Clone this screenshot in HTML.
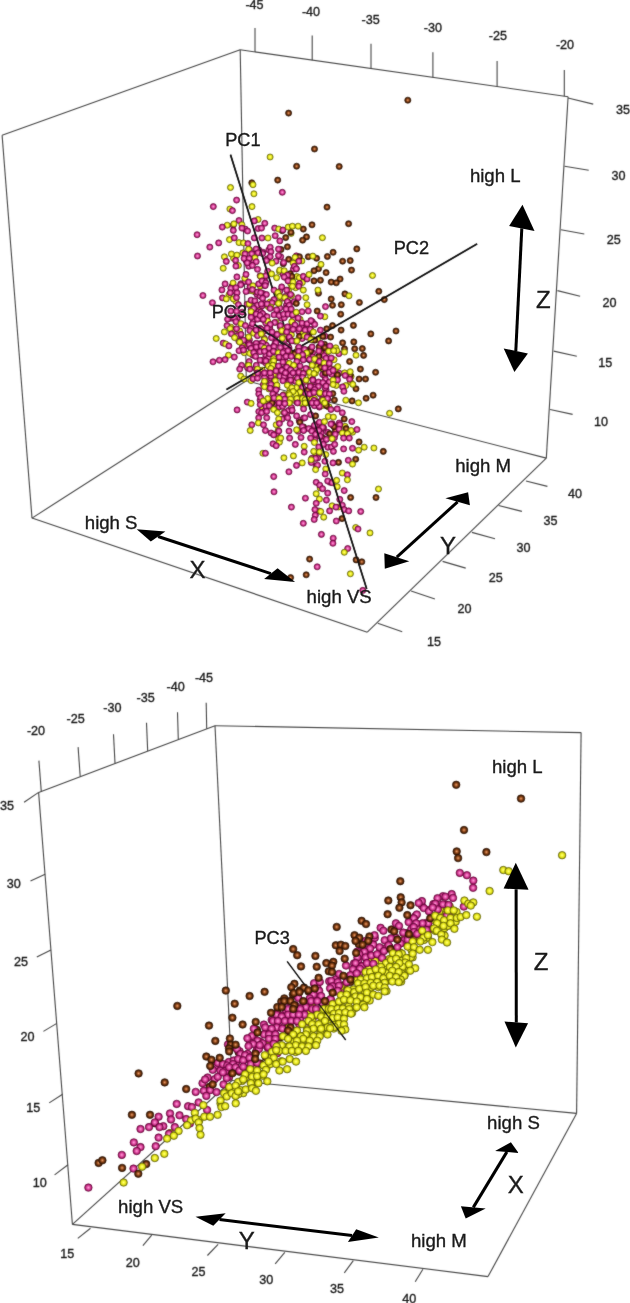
<!DOCTYPE html>
<html><head><meta charset="utf-8"><style>
html,body{margin:0;padding:0;background:#fff;}
svg{display:block;}
#wrap{width:630px;height:1303px;overflow:hidden;}
text{font-family:"Liberation Sans",sans-serif;fill:#1a1a1a;stroke:#1a1a1a;stroke-width:0.35px;}
</style></head><body><div id="wrap">
<svg width="630" height="1303" viewBox="0 0 630 1303">
<defs>
<filter id="soft" x="0" y="0" width="100%" height="100%" color-interpolation-filters="sRGB"><feConvolveMatrix order="3" kernelMatrix="0.02 0.07 0.02 0.07 0.64 0.07 0.02 0.07 0.02" edgeMode="none"/></filter>
<radialGradient id="gp" cx="50%" cy="50%" r="50%"><stop offset="0" stop-color="#ffa6de"/><stop offset="0.25" stop-color="#f272bc"/><stop offset="0.58" stop-color="#d23e94"/><stop offset="0.85" stop-color="#a81c6a"/><stop offset="1" stop-color="#6e0a3e"/></radialGradient>
<radialGradient id="gy" cx="50%" cy="50%" r="50%"><stop offset="0" stop-color="#ffff8a"/><stop offset="0.3" stop-color="#f8f840"/><stop offset="0.65" stop-color="#e0e01c"/><stop offset="0.87" stop-color="#b4b40e"/><stop offset="1" stop-color="#707006"/></radialGradient>
<radialGradient id="gb" cx="50%" cy="50%" r="50%"><stop offset="0" stop-color="#eaa878"/><stop offset="0.28" stop-color="#b46432"/><stop offset="0.6" stop-color="#70360f"/><stop offset="1" stop-color="#361604"/></radialGradient>
</defs>
<rect width="630" height="1303" fill="#fff"/>
<g filter="url(#soft)">
<line x1="2.1" y1="135.2" x2="240.2" y2="49.8" stroke="#474747" stroke-width="1.1"/>
<line x1="240.2" y1="49.8" x2="568.1" y2="96.7" stroke="#474747" stroke-width="1.1"/>
<line x1="240.2" y1="49.8" x2="246.3" y2="380.8" stroke="#474747" stroke-width="1.1"/>
<line x1="2.1" y1="135.2" x2="32.0" y2="518.1" stroke="#474747" stroke-width="1.1"/>
<line x1="568.1" y1="96.7" x2="546.3" y2="458.1" stroke="#474747" stroke-width="1.1"/>
<line x1="32.0" y1="518.1" x2="246.3" y2="380.8" stroke="#474747" stroke-width="1.1"/>
<line x1="246.3" y1="380.8" x2="546.3" y2="458.1" stroke="#474747" stroke-width="1.1"/>
<line x1="32.0" y1="518.1" x2="367.3" y2="632.2" stroke="#474747" stroke-width="1.1"/>
<line x1="367.3" y1="632.2" x2="546.3" y2="458.1" stroke="#474747" stroke-width="1.1"/>
<line x1="255.0" y1="28.0" x2="255.0" y2="52.1" stroke="#474747" stroke-width="1.1"/>
<text x="254.5" y="8.6" font-size="12.6" text-anchor="middle">-45</text>
<line x1="312.2" y1="35.6" x2="312.2" y2="60.3" stroke="#474747" stroke-width="1.1"/>
<text x="311.0" y="16.4" font-size="12.6" text-anchor="middle">-40</text>
<line x1="371.0" y1="43.8" x2="371.0" y2="68.7" stroke="#474747" stroke-width="1.1"/>
<text x="370.6" y="24.1" font-size="12.6" text-anchor="middle">-35</text>
<line x1="432.9" y1="52.2" x2="432.9" y2="77.6" stroke="#474747" stroke-width="1.1"/>
<text x="432.9" y="31.5" font-size="12.6" text-anchor="middle">-30</text>
<line x1="497.1" y1="61.0" x2="497.1" y2="86.6" stroke="#474747" stroke-width="1.1"/>
<text x="497.8" y="39.9" font-size="12.6" text-anchor="middle">-25</text>
<line x1="564.3" y1="70.1" x2="564.3" y2="96.2" stroke="#474747" stroke-width="1.1"/>
<text x="565.0" y="49.1" font-size="12.6" text-anchor="middle">-20</text>
<line x1="568.0" y1="98.0" x2="593.2" y2="104.1" stroke="#474747" stroke-width="1.1"/>
<text x="622.9" y="113.8" font-size="12.6" text-anchor="middle">35</text>
<line x1="564.6" y1="166.2" x2="588.7" y2="170.2" stroke="#474747" stroke-width="1.1"/>
<text x="618.6" y="179.8" font-size="12.6" text-anchor="middle">30</text>
<line x1="561.0" y1="229.7" x2="584.3" y2="234.0" stroke="#474747" stroke-width="1.1"/>
<text x="613.8" y="244.1" font-size="12.6" text-anchor="middle">25</text>
<line x1="557.4" y1="290.6" x2="580.1" y2="296.2" stroke="#474747" stroke-width="1.1"/>
<text x="609.4" y="307.1" font-size="12.6" text-anchor="middle">20</text>
<line x1="553.7" y1="351.1" x2="576.8" y2="356.3" stroke="#474747" stroke-width="1.1"/>
<text x="605.2" y="367.4" font-size="12.6" text-anchor="middle">15</text>
<line x1="550.1" y1="409.5" x2="572.6" y2="414.4" stroke="#474747" stroke-width="1.1"/>
<text x="601.1" y="425.8" font-size="12.6" text-anchor="middle">10</text>
<line x1="377.8" y1="623.3" x2="402.2" y2="631.8" stroke="#474747" stroke-width="1.1"/>
<text x="434.0" y="646.3" font-size="12.6" text-anchor="middle">15</text>
<line x1="411.1" y1="591.1" x2="434.9" y2="598.9" stroke="#474747" stroke-width="1.1"/>
<text x="464.4" y="613.4" font-size="12.6" text-anchor="middle">20</text>
<line x1="442.6" y1="561.4" x2="465.7" y2="568.1" stroke="#474747" stroke-width="1.1"/>
<text x="495.7" y="581.7" font-size="12.6" text-anchor="middle">25</text>
<line x1="471.9" y1="532.4" x2="495.0" y2="538.8" stroke="#474747" stroke-width="1.1"/>
<text x="523.6" y="552.4" font-size="12.6" text-anchor="middle">30</text>
<line x1="498.6" y1="505.5" x2="521.9" y2="511.4" stroke="#474747" stroke-width="1.1"/>
<text x="550.5" y="524.6" font-size="12.6" text-anchor="middle">35</text>
<line x1="526.0" y1="481.0" x2="547.4" y2="486.4" stroke="#474747" stroke-width="1.1"/>
<text x="575.0" y="498.1" font-size="12.6" text-anchor="middle">40</text>
<line x1="38.6" y1="792.4" x2="215.0" y2="725.7" stroke="#474747" stroke-width="1.1"/>
<line x1="215.0" y1="725.7" x2="581.1" y2="732.6" stroke="#474747" stroke-width="1.1"/>
<line x1="215.0" y1="725.7" x2="232.0" y2="1080.5" stroke="#474747" stroke-width="1.1"/>
<line x1="38.6" y1="792.4" x2="72.4" y2="1224.4" stroke="#474747" stroke-width="1.1"/>
<line x1="581.1" y1="732.6" x2="576.6" y2="1113.4" stroke="#474747" stroke-width="1.1"/>
<line x1="72.4" y1="1224.4" x2="232.0" y2="1080.5" stroke="#474747" stroke-width="1.1"/>
<line x1="232.0" y1="1080.5" x2="576.6" y2="1113.4" stroke="#474747" stroke-width="1.1"/>
<line x1="72.4" y1="1224.4" x2="488.0" y2="1276.6" stroke="#474747" stroke-width="1.1"/>
<line x1="488.0" y1="1276.6" x2="576.6" y2="1113.4" stroke="#474747" stroke-width="1.1"/>
<line x1="41.3" y1="791.6" x2="38.9" y2="760.6" stroke="#474747" stroke-width="1.1"/>
<text x="36.0" y="734.6" font-size="12.6" text-anchor="middle">-20</text>
<line x1="80.2" y1="776.5" x2="78.1" y2="747.1" stroke="#474747" stroke-width="1.1"/>
<text x="75.7" y="722.9" font-size="12.6" text-anchor="middle">-25</text>
<line x1="115.0" y1="763.2" x2="113.5" y2="734.3" stroke="#474747" stroke-width="1.1"/>
<text x="112.3" y="712.2" font-size="12.6" text-anchor="middle">-30</text>
<line x1="147.7" y1="750.9" x2="146.5" y2="722.7" stroke="#474747" stroke-width="1.1"/>
<text x="145.7" y="701.6" font-size="12.6" text-anchor="middle">-35</text>
<line x1="178.3" y1="739.4" x2="177.5" y2="712.3" stroke="#474747" stroke-width="1.1"/>
<text x="175.7" y="691.2" font-size="12.6" text-anchor="middle">-40</text>
<line x1="206.7" y1="728.7" x2="206.2" y2="702.7" stroke="#474747" stroke-width="1.1"/>
<text x="204.0" y="682.4" font-size="12.6" text-anchor="middle">-45</text>
<line x1="38.6" y1="792.4" x2="24.1" y2="802.2" stroke="#474747" stroke-width="1.1"/>
<text x="7.1" y="810.4" font-size="12.6" text-anchor="middle">35</text>
<line x1="45.1" y1="874.3" x2="30.5" y2="881.0" stroke="#474747" stroke-width="1.1"/>
<text x="13.7" y="887.6" font-size="12.6" text-anchor="middle">30</text>
<line x1="50.9" y1="949.9" x2="36.8" y2="957.1" stroke="#474747" stroke-width="1.1"/>
<text x="21.0" y="965.9" font-size="12.6" text-anchor="middle">25</text>
<line x1="56.8" y1="1023.4" x2="43.4" y2="1031.4" stroke="#474747" stroke-width="1.1"/>
<text x="27.6" y="1040.5" font-size="12.6" text-anchor="middle">20</text>
<line x1="62.6" y1="1094.3" x2="49.2" y2="1102.9" stroke="#474747" stroke-width="1.1"/>
<text x="33.3" y="1112.3" font-size="12.6" text-anchor="middle">15</text>
<line x1="68.0" y1="1164.8" x2="54.6" y2="1174.9" stroke="#474747" stroke-width="1.1"/>
<text x="39.7" y="1186.6" font-size="12.6" text-anchor="middle">10</text>
<line x1="90.5" y1="1228.3" x2="77.8" y2="1238.4" stroke="#474747" stroke-width="1.1"/>
<text x="67.3" y="1257.7" font-size="12.6" text-anchor="middle">15</text>
<line x1="151.7" y1="1235.2" x2="142.9" y2="1245.7" stroke="#474747" stroke-width="1.1"/>
<text x="132.7" y="1266.6" font-size="12.6" text-anchor="middle">20</text>
<line x1="218.1" y1="1244.3" x2="207.4" y2="1255.5" stroke="#474747" stroke-width="1.1"/>
<text x="198.6" y="1275.7" font-size="12.6" text-anchor="middle">25</text>
<line x1="284.8" y1="1252.4" x2="275.2" y2="1263.8" stroke="#474747" stroke-width="1.1"/>
<text x="266.2" y="1284.0" font-size="12.6" text-anchor="middle">30</text>
<line x1="353.3" y1="1260.7" x2="344.3" y2="1272.9" stroke="#474747" stroke-width="1.1"/>
<text x="337.1" y="1292.8" font-size="12.6" text-anchor="middle">35</text>
<line x1="422.9" y1="1269.3" x2="415.2" y2="1281.7" stroke="#474747" stroke-width="1.1"/>
<text x="409.3" y="1303.0" font-size="12.6" text-anchor="middle">40</text>
<line x1="230.5" y1="154.8" x2="366.7" y2="588.9" stroke="#111" stroke-width="1.6"/>
<line x1="477.1" y1="243.9" x2="226.5" y2="389.5" stroke="#111" stroke-width="1.6"/>
<line x1="254.4" y1="324.4" x2="327.6" y2="375.6" stroke="#111" stroke-width="1.6"/>
<line x1="287.2" y1="961.5" x2="345.7" y2="1040.0" stroke="#111" stroke-width="1.2"/>
<g><circle cx="233.2" cy="225.2" r="3.05" fill="url(#gp)" stroke="#6e0a40" stroke-width="0.7"/>
<circle cx="245.2" cy="229.1" r="3.05" fill="url(#gp)" stroke="#6e0a40" stroke-width="0.7"/>
<circle cx="282.2" cy="230.7" r="3.05" fill="url(#gb)" stroke="#2e1404" stroke-width="0.7"/>
<circle cx="291.1" cy="233.4" r="3.05" fill="url(#gy)" stroke="#6a6a04" stroke-width="0.7"/>
<circle cx="249.6" cy="249.7" r="3.05" fill="url(#gp)" stroke="#6e0a40" stroke-width="0.7"/>
<circle cx="258.9" cy="250.0" r="3.05" fill="url(#gp)" stroke="#6e0a40" stroke-width="0.7"/>
<circle cx="233.6" cy="258.3" r="3.05" fill="url(#gy)" stroke="#6a6a04" stroke-width="0.7"/>
<circle cx="242.9" cy="252.9" r="3.05" fill="url(#gy)" stroke="#6a6a04" stroke-width="0.7"/>
<circle cx="255.1" cy="254.8" r="3.05" fill="url(#gp)" stroke="#6e0a40" stroke-width="0.7"/>
<circle cx="255.7" cy="254.1" r="3.05" fill="url(#gp)" stroke="#6e0a40" stroke-width="0.7"/>
<circle cx="253.7" cy="261.1" r="3.05" fill="url(#gp)" stroke="#6e0a40" stroke-width="0.7"/>
<circle cx="246.4" cy="260.2" r="3.05" fill="url(#gp)" stroke="#6e0a40" stroke-width="0.7"/>
<circle cx="247.3" cy="260.5" r="3.05" fill="url(#gp)" stroke="#6e0a40" stroke-width="0.7"/>
<circle cx="253.4" cy="260.5" r="3.05" fill="url(#gp)" stroke="#6e0a40" stroke-width="0.7"/>
<circle cx="246.2" cy="260.7" r="3.05" fill="url(#gp)" stroke="#6e0a40" stroke-width="0.7"/>
<circle cx="248.8" cy="266.3" r="3.05" fill="url(#gp)" stroke="#6e0a40" stroke-width="0.7"/>
<circle cx="232.0" cy="286.2" r="3.05" fill="url(#gp)" stroke="#6e0a40" stroke-width="0.7"/>
<circle cx="240.9" cy="283.7" r="3.05" fill="url(#gp)" stroke="#6e0a40" stroke-width="0.7"/>
<circle cx="245.1" cy="281.4" r="3.05" fill="url(#gp)" stroke="#6e0a40" stroke-width="0.7"/>
<circle cx="250.2" cy="286.7" r="3.05" fill="url(#gp)" stroke="#6e0a40" stroke-width="0.7"/>
<circle cx="260.5" cy="285.5" r="3.05" fill="url(#gy)" stroke="#6a6a04" stroke-width="0.7"/>
<circle cx="260.3" cy="286.1" r="3.05" fill="url(#gy)" stroke="#6a6a04" stroke-width="0.7"/>
<circle cx="231.8" cy="288.1" r="3.05" fill="url(#gp)" stroke="#6e0a40" stroke-width="0.7"/>
<circle cx="232.7" cy="286.1" r="3.05" fill="url(#gp)" stroke="#6e0a40" stroke-width="0.7"/>
<circle cx="229.0" cy="294.7" r="3.05" fill="url(#gy)" stroke="#6a6a04" stroke-width="0.7"/>
<circle cx="234.9" cy="291.5" r="3.05" fill="url(#gp)" stroke="#6e0a40" stroke-width="0.7"/>
<circle cx="248.5" cy="290.6" r="3.05" fill="url(#gp)" stroke="#6e0a40" stroke-width="0.7"/>
<circle cx="255.4" cy="292.2" r="3.05" fill="url(#gp)" stroke="#6e0a40" stroke-width="0.7"/>
<circle cx="250.1" cy="286.6" r="3.05" fill="url(#gp)" stroke="#6e0a40" stroke-width="0.7"/>
<circle cx="257.0" cy="294.4" r="3.05" fill="url(#gp)" stroke="#6e0a40" stroke-width="0.7"/>
<circle cx="281.0" cy="249.5" r="3.05" fill="url(#gb)" stroke="#2e1404" stroke-width="0.7"/>
<circle cx="268.8" cy="250.0" r="3.05" fill="url(#gp)" stroke="#6e0a40" stroke-width="0.7"/>
<circle cx="262.8" cy="252.2" r="3.05" fill="url(#gp)" stroke="#6e0a40" stroke-width="0.7"/>
<circle cx="267.3" cy="258.9" r="3.05" fill="url(#gp)" stroke="#6e0a40" stroke-width="0.7"/>
<circle cx="280.7" cy="256.7" r="3.05" fill="url(#gp)" stroke="#6e0a40" stroke-width="0.7"/>
<circle cx="283.3" cy="263.8" r="3.05" fill="url(#gb)" stroke="#2e1404" stroke-width="0.7"/>
<circle cx="296.3" cy="255.9" r="3.05" fill="url(#gp)" stroke="#6e0a40" stroke-width="0.7"/>
<circle cx="301.9" cy="260.9" r="3.05" fill="url(#gy)" stroke="#6a6a04" stroke-width="0.7"/>
<circle cx="294.5" cy="262.7" r="3.05" fill="url(#gy)" stroke="#6a6a04" stroke-width="0.7"/>
<circle cx="296.2" cy="268.8" r="3.05" fill="url(#gb)" stroke="#2e1404" stroke-width="0.7"/>
<circle cx="293.4" cy="269.1" r="3.05" fill="url(#gp)" stroke="#6e0a40" stroke-width="0.7"/>
<circle cx="279.5" cy="271.5" r="3.05" fill="url(#gy)" stroke="#6a6a04" stroke-width="0.7"/>
<circle cx="285.4" cy="277.3" r="3.05" fill="url(#gy)" stroke="#6a6a04" stroke-width="0.7"/>
<circle cx="283.2" cy="274.5" r="3.05" fill="url(#gp)" stroke="#6e0a40" stroke-width="0.7"/>
<circle cx="290.0" cy="273.7" r="3.05" fill="url(#gb)" stroke="#2e1404" stroke-width="0.7"/>
<circle cx="290.7" cy="278.9" r="3.05" fill="url(#gy)" stroke="#6a6a04" stroke-width="0.7"/>
<circle cx="263.9" cy="277.2" r="3.05" fill="url(#gy)" stroke="#6a6a04" stroke-width="0.7"/>
<circle cx="260.1" cy="275.7" r="3.05" fill="url(#gp)" stroke="#6e0a40" stroke-width="0.7"/>
<circle cx="264.5" cy="280.6" r="3.05" fill="url(#gp)" stroke="#6e0a40" stroke-width="0.7"/>
<circle cx="265.3" cy="283.5" r="3.05" fill="url(#gp)" stroke="#6e0a40" stroke-width="0.7"/>
<circle cx="296.9" cy="276.6" r="3.05" fill="url(#gy)" stroke="#6a6a04" stroke-width="0.7"/>
<circle cx="306.3" cy="278.3" r="3.05" fill="url(#gp)" stroke="#6e0a40" stroke-width="0.7"/>
<circle cx="292.0" cy="281.2" r="3.05" fill="url(#gy)" stroke="#6a6a04" stroke-width="0.7"/>
<circle cx="302.3" cy="282.6" r="3.05" fill="url(#gy)" stroke="#6a6a04" stroke-width="0.7"/>
<circle cx="235.8" cy="301.3" r="3.05" fill="url(#gy)" stroke="#6a6a04" stroke-width="0.7"/>
<circle cx="247.1" cy="304.2" r="3.05" fill="url(#gp)" stroke="#6e0a40" stroke-width="0.7"/>
<circle cx="252.9" cy="301.5" r="3.05" fill="url(#gp)" stroke="#6e0a40" stroke-width="0.7"/>
<circle cx="251.8" cy="301.2" r="3.05" fill="url(#gp)" stroke="#6e0a40" stroke-width="0.7"/>
<circle cx="258.5" cy="308.8" r="3.05" fill="url(#gy)" stroke="#6a6a04" stroke-width="0.7"/>
<circle cx="255.3" cy="310.6" r="3.05" fill="url(#gy)" stroke="#6a6a04" stroke-width="0.7"/>
<circle cx="251.2" cy="309.5" r="3.05" fill="url(#gp)" stroke="#6e0a40" stroke-width="0.7"/>
<circle cx="258.3" cy="311.7" r="3.05" fill="url(#gp)" stroke="#6e0a40" stroke-width="0.7"/>
<circle cx="231.0" cy="318.2" r="3.05" fill="url(#gp)" stroke="#6e0a40" stroke-width="0.7"/>
<circle cx="251.5" cy="314.6" r="3.05" fill="url(#gp)" stroke="#6e0a40" stroke-width="0.7"/>
<circle cx="254.4" cy="319.2" r="3.05" fill="url(#gp)" stroke="#6e0a40" stroke-width="0.7"/>
<circle cx="237.3" cy="318.3" r="3.05" fill="url(#gp)" stroke="#6e0a40" stroke-width="0.7"/>
<circle cx="253.6" cy="320.4" r="3.05" fill="url(#gp)" stroke="#6e0a40" stroke-width="0.7"/>
<circle cx="230.7" cy="327.1" r="3.05" fill="url(#gy)" stroke="#6a6a04" stroke-width="0.7"/>
<circle cx="236.1" cy="329.2" r="3.05" fill="url(#gp)" stroke="#6e0a40" stroke-width="0.7"/>
<circle cx="232.1" cy="331.3" r="3.05" fill="url(#gy)" stroke="#6a6a04" stroke-width="0.7"/>
<circle cx="239.6" cy="331.0" r="3.05" fill="url(#gy)" stroke="#6a6a04" stroke-width="0.7"/>
<circle cx="251.0" cy="327.6" r="3.05" fill="url(#gp)" stroke="#6e0a40" stroke-width="0.7"/>
<circle cx="255.9" cy="332.5" r="3.05" fill="url(#gy)" stroke="#6a6a04" stroke-width="0.7"/>
<circle cx="258.3" cy="331.6" r="3.05" fill="url(#gy)" stroke="#6a6a04" stroke-width="0.7"/>
<circle cx="249.4" cy="339.9" r="3.05" fill="url(#gp)" stroke="#6e0a40" stroke-width="0.7"/>
<circle cx="258.9" cy="333.5" r="3.05" fill="url(#gp)" stroke="#6e0a40" stroke-width="0.7"/>
<circle cx="257.8" cy="334.7" r="3.05" fill="url(#gy)" stroke="#6a6a04" stroke-width="0.7"/>
<circle cx="237.4" cy="335.8" r="3.05" fill="url(#gp)" stroke="#6e0a40" stroke-width="0.7"/>
<circle cx="241.9" cy="340.4" r="3.05" fill="url(#gp)" stroke="#6e0a40" stroke-width="0.7"/>
<circle cx="238.9" cy="341.2" r="3.05" fill="url(#gp)" stroke="#6e0a40" stroke-width="0.7"/>
<circle cx="247.3" cy="346.1" r="3.05" fill="url(#gp)" stroke="#6e0a40" stroke-width="0.7"/>
<circle cx="249.0" cy="343.1" r="3.05" fill="url(#gp)" stroke="#6e0a40" stroke-width="0.7"/>
<circle cx="259.1" cy="343.8" r="3.05" fill="url(#gp)" stroke="#6e0a40" stroke-width="0.7"/>
<circle cx="242.7" cy="346.4" r="3.05" fill="url(#gy)" stroke="#6a6a04" stroke-width="0.7"/>
<circle cx="249.9" cy="346.5" r="3.05" fill="url(#gp)" stroke="#6e0a40" stroke-width="0.7"/>
<circle cx="264.6" cy="285.5" r="3.05" fill="url(#gp)" stroke="#6e0a40" stroke-width="0.7"/>
<circle cx="290.8" cy="284.0" r="3.05" fill="url(#gy)" stroke="#6a6a04" stroke-width="0.7"/>
<circle cx="295.6" cy="287.7" r="3.05" fill="url(#gy)" stroke="#6a6a04" stroke-width="0.7"/>
<circle cx="288.5" cy="290.4" r="3.05" fill="url(#gy)" stroke="#6a6a04" stroke-width="0.7"/>
<circle cx="260.9" cy="295.5" r="3.05" fill="url(#gp)" stroke="#6e0a40" stroke-width="0.7"/>
<circle cx="263.1" cy="293.6" r="3.05" fill="url(#gp)" stroke="#6e0a40" stroke-width="0.7"/>
<circle cx="279.8" cy="291.4" r="3.05" fill="url(#gp)" stroke="#6e0a40" stroke-width="0.7"/>
<circle cx="278.0" cy="293.5" r="3.05" fill="url(#gy)" stroke="#6a6a04" stroke-width="0.7"/>
<circle cx="282.3" cy="298.2" r="3.05" fill="url(#gp)" stroke="#6e0a40" stroke-width="0.7"/>
<circle cx="291.6" cy="295.6" r="3.05" fill="url(#gy)" stroke="#6a6a04" stroke-width="0.7"/>
<circle cx="287.3" cy="298.0" r="3.05" fill="url(#gy)" stroke="#6a6a04" stroke-width="0.7"/>
<circle cx="260.0" cy="296.2" r="3.05" fill="url(#gp)" stroke="#6e0a40" stroke-width="0.7"/>
<circle cx="275.3" cy="301.9" r="3.05" fill="url(#gy)" stroke="#6a6a04" stroke-width="0.7"/>
<circle cx="270.1" cy="302.0" r="3.05" fill="url(#gy)" stroke="#6a6a04" stroke-width="0.7"/>
<circle cx="264.5" cy="303.5" r="3.05" fill="url(#gp)" stroke="#6e0a40" stroke-width="0.7"/>
<circle cx="289.6" cy="303.3" r="3.05" fill="url(#gy)" stroke="#6a6a04" stroke-width="0.7"/>
<circle cx="287.7" cy="302.2" r="3.05" fill="url(#gp)" stroke="#6e0a40" stroke-width="0.7"/>
<circle cx="286.4" cy="305.2" r="3.05" fill="url(#gp)" stroke="#6e0a40" stroke-width="0.7"/>
<circle cx="279.2" cy="302.8" r="3.05" fill="url(#gy)" stroke="#6a6a04" stroke-width="0.7"/>
<circle cx="294.2" cy="301.7" r="3.05" fill="url(#gp)" stroke="#6e0a40" stroke-width="0.7"/>
<circle cx="262.0" cy="305.9" r="3.05" fill="url(#gp)" stroke="#6e0a40" stroke-width="0.7"/>
<circle cx="268.3" cy="306.7" r="3.05" fill="url(#gy)" stroke="#6a6a04" stroke-width="0.7"/>
<circle cx="269.1" cy="305.1" r="3.05" fill="url(#gp)" stroke="#6e0a40" stroke-width="0.7"/>
<circle cx="279.8" cy="308.1" r="3.05" fill="url(#gp)" stroke="#6e0a40" stroke-width="0.7"/>
<circle cx="286.9" cy="307.9" r="3.05" fill="url(#gp)" stroke="#6e0a40" stroke-width="0.7"/>
<circle cx="289.5" cy="310.5" r="3.05" fill="url(#gp)" stroke="#6e0a40" stroke-width="0.7"/>
<circle cx="261.0" cy="314.3" r="3.05" fill="url(#gp)" stroke="#6e0a40" stroke-width="0.7"/>
<circle cx="260.8" cy="312.0" r="3.05" fill="url(#gp)" stroke="#6e0a40" stroke-width="0.7"/>
<circle cx="276.9" cy="313.7" r="3.05" fill="url(#gp)" stroke="#6e0a40" stroke-width="0.7"/>
<circle cx="281.4" cy="318.3" r="3.05" fill="url(#gp)" stroke="#6e0a40" stroke-width="0.7"/>
<circle cx="284.3" cy="317.8" r="3.05" fill="url(#gp)" stroke="#6e0a40" stroke-width="0.7"/>
<circle cx="289.2" cy="313.2" r="3.05" fill="url(#gp)" stroke="#6e0a40" stroke-width="0.7"/>
<circle cx="293.8" cy="317.0" r="3.05" fill="url(#gp)" stroke="#6e0a40" stroke-width="0.7"/>
<circle cx="295.4" cy="313.7" r="3.05" fill="url(#gp)" stroke="#6e0a40" stroke-width="0.7"/>
<circle cx="300.1" cy="319.3" r="3.05" fill="url(#gy)" stroke="#6a6a04" stroke-width="0.7"/>
<circle cx="264.7" cy="315.9" r="3.05" fill="url(#gp)" stroke="#6e0a40" stroke-width="0.7"/>
<circle cx="265.7" cy="323.0" r="3.05" fill="url(#gp)" stroke="#6e0a40" stroke-width="0.7"/>
<circle cx="262.3" cy="319.2" r="3.05" fill="url(#gp)" stroke="#6e0a40" stroke-width="0.7"/>
<circle cx="275.9" cy="322.2" r="3.05" fill="url(#gy)" stroke="#6a6a04" stroke-width="0.7"/>
<circle cx="269.7" cy="327.9" r="3.05" fill="url(#gy)" stroke="#6a6a04" stroke-width="0.7"/>
<circle cx="280.2" cy="327.0" r="3.05" fill="url(#gp)" stroke="#6e0a40" stroke-width="0.7"/>
<circle cx="293.7" cy="319.3" r="3.05" fill="url(#gp)" stroke="#6e0a40" stroke-width="0.7"/>
<circle cx="285.1" cy="328.5" r="3.05" fill="url(#gy)" stroke="#6a6a04" stroke-width="0.7"/>
<circle cx="292.1" cy="323.6" r="3.05" fill="url(#gp)" stroke="#6e0a40" stroke-width="0.7"/>
<circle cx="301.4" cy="326.4" r="3.05" fill="url(#gp)" stroke="#6e0a40" stroke-width="0.7"/>
<circle cx="306.2" cy="324.2" r="3.05" fill="url(#gp)" stroke="#6e0a40" stroke-width="0.7"/>
<circle cx="312.4" cy="321.8" r="3.05" fill="url(#gp)" stroke="#6e0a40" stroke-width="0.7"/>
<circle cx="260.0" cy="328.3" r="3.05" fill="url(#gp)" stroke="#6e0a40" stroke-width="0.7"/>
<circle cx="263.0" cy="331.9" r="3.05" fill="url(#gp)" stroke="#6e0a40" stroke-width="0.7"/>
<circle cx="269.5" cy="328.1" r="3.05" fill="url(#gp)" stroke="#6e0a40" stroke-width="0.7"/>
<circle cx="276.7" cy="334.0" r="3.05" fill="url(#gy)" stroke="#6a6a04" stroke-width="0.7"/>
<circle cx="281.8" cy="332.0" r="3.05" fill="url(#gp)" stroke="#6e0a40" stroke-width="0.7"/>
<circle cx="286.6" cy="333.6" r="3.05" fill="url(#gy)" stroke="#6a6a04" stroke-width="0.7"/>
<circle cx="291.2" cy="327.4" r="3.05" fill="url(#gp)" stroke="#6e0a40" stroke-width="0.7"/>
<circle cx="298.8" cy="331.4" r="3.05" fill="url(#gp)" stroke="#6e0a40" stroke-width="0.7"/>
<circle cx="304.7" cy="333.5" r="3.05" fill="url(#gp)" stroke="#6e0a40" stroke-width="0.7"/>
<circle cx="310.7" cy="329.6" r="3.05" fill="url(#gp)" stroke="#6e0a40" stroke-width="0.7"/>
<circle cx="311.5" cy="331.8" r="3.05" fill="url(#gb)" stroke="#2e1404" stroke-width="0.7"/>
<circle cx="302.1" cy="338.6" r="3.05" fill="url(#gp)" stroke="#6e0a40" stroke-width="0.7"/>
<circle cx="303.0" cy="333.5" r="3.05" fill="url(#gy)" stroke="#6a6a04" stroke-width="0.7"/>
<circle cx="309.1" cy="336.7" r="3.05" fill="url(#gb)" stroke="#2e1404" stroke-width="0.7"/>
<circle cx="325.1" cy="336.2" r="3.05" fill="url(#gp)" stroke="#6e0a40" stroke-width="0.7"/>
<circle cx="264.3" cy="338.2" r="3.05" fill="url(#gp)" stroke="#6e0a40" stroke-width="0.7"/>
<circle cx="275.0" cy="337.3" r="3.05" fill="url(#gp)" stroke="#6e0a40" stroke-width="0.7"/>
<circle cx="285.3" cy="339.7" r="3.05" fill="url(#gp)" stroke="#6e0a40" stroke-width="0.7"/>
<circle cx="275.1" cy="343.2" r="3.05" fill="url(#gp)" stroke="#6e0a40" stroke-width="0.7"/>
<circle cx="291.4" cy="334.8" r="3.05" fill="url(#gy)" stroke="#6a6a04" stroke-width="0.7"/>
<circle cx="289.3" cy="339.0" r="3.05" fill="url(#gb)" stroke="#2e1404" stroke-width="0.7"/>
<circle cx="295.4" cy="341.3" r="3.05" fill="url(#gp)" stroke="#6e0a40" stroke-width="0.7"/>
<circle cx="313.2" cy="339.7" r="3.05" fill="url(#gp)" stroke="#6e0a40" stroke-width="0.7"/>
<circle cx="317.5" cy="339.8" r="3.05" fill="url(#gy)" stroke="#6a6a04" stroke-width="0.7"/>
<circle cx="324.5" cy="344.2" r="3.05" fill="url(#gb)" stroke="#2e1404" stroke-width="0.7"/>
<circle cx="262.5" cy="342.9" r="3.05" fill="url(#gp)" stroke="#6e0a40" stroke-width="0.7"/>
<circle cx="264.4" cy="343.8" r="3.05" fill="url(#gp)" stroke="#6e0a40" stroke-width="0.7"/>
<circle cx="244.3" cy="352.7" r="3.05" fill="url(#gy)" stroke="#6a6a04" stroke-width="0.7"/>
<circle cx="252.7" cy="355.1" r="3.05" fill="url(#gp)" stroke="#6e0a40" stroke-width="0.7"/>
<circle cx="253.0" cy="353.1" r="3.05" fill="url(#gp)" stroke="#6e0a40" stroke-width="0.7"/>
<circle cx="248.3" cy="364.4" r="3.05" fill="url(#gy)" stroke="#6a6a04" stroke-width="0.7"/>
<circle cx="247.5" cy="367.7" r="3.05" fill="url(#gp)" stroke="#6e0a40" stroke-width="0.7"/>
<circle cx="338.9" cy="353.7" r="3.05" fill="url(#gp)" stroke="#6e0a40" stroke-width="0.7"/>
<circle cx="339.3" cy="373.2" r="3.05" fill="url(#gp)" stroke="#6e0a40" stroke-width="0.7"/>
<circle cx="344.7" cy="372.9" r="3.05" fill="url(#gy)" stroke="#6a6a04" stroke-width="0.7"/>
<circle cx="337.0" cy="376.9" r="3.05" fill="url(#gb)" stroke="#2e1404" stroke-width="0.7"/>
<circle cx="351.1" cy="376.4" r="3.05" fill="url(#gy)" stroke="#6a6a04" stroke-width="0.7"/>
<circle cx="350.5" cy="382.0" r="3.05" fill="url(#gy)" stroke="#6a6a04" stroke-width="0.7"/>
<circle cx="262.0" cy="406.8" r="3.05" fill="url(#gy)" stroke="#6a6a04" stroke-width="0.7"/>
<circle cx="267.4" cy="403.8" r="3.05" fill="url(#gy)" stroke="#6a6a04" stroke-width="0.7"/>
<circle cx="269.9" cy="406.1" r="3.05" fill="url(#gy)" stroke="#6a6a04" stroke-width="0.7"/>
<circle cx="275.9" cy="408.9" r="3.05" fill="url(#gy)" stroke="#6a6a04" stroke-width="0.7"/>
<circle cx="258.8" cy="411.6" r="3.05" fill="url(#gp)" stroke="#6e0a40" stroke-width="0.7"/>
<circle cx="264.8" cy="411.1" r="3.05" fill="url(#gp)" stroke="#6e0a40" stroke-width="0.7"/>
<circle cx="282.1" cy="419.1" r="3.05" fill="url(#gp)" stroke="#6e0a40" stroke-width="0.7"/>
<circle cx="276.9" cy="433.4" r="3.05" fill="url(#gp)" stroke="#6e0a40" stroke-width="0.7"/>
<circle cx="278.2" cy="430.3" r="3.05" fill="url(#gy)" stroke="#6a6a04" stroke-width="0.7"/>
<circle cx="279.2" cy="406.9" r="3.05" fill="url(#gp)" stroke="#6e0a40" stroke-width="0.7"/>
<circle cx="291.8" cy="410.9" r="3.05" fill="url(#gp)" stroke="#6e0a40" stroke-width="0.7"/>
<circle cx="303.3" cy="405.1" r="3.05" fill="url(#gy)" stroke="#6a6a04" stroke-width="0.7"/>
<circle cx="315.0" cy="404.8" r="3.05" fill="url(#gp)" stroke="#6e0a40" stroke-width="0.7"/>
<circle cx="319.3" cy="407.1" r="3.05" fill="url(#gp)" stroke="#6e0a40" stroke-width="0.7"/>
<circle cx="327.7" cy="406.4" r="3.05" fill="url(#gp)" stroke="#6e0a40" stroke-width="0.7"/>
<circle cx="329.0" cy="406.9" r="3.05" fill="url(#gy)" stroke="#6a6a04" stroke-width="0.7"/>
<circle cx="284.1" cy="412.5" r="3.05" fill="url(#gy)" stroke="#6a6a04" stroke-width="0.7"/>
<circle cx="288.4" cy="410.5" r="3.05" fill="url(#gp)" stroke="#6e0a40" stroke-width="0.7"/>
<circle cx="286.6" cy="414.9" r="3.05" fill="url(#gp)" stroke="#6e0a40" stroke-width="0.7"/>
<circle cx="299.2" cy="420.3" r="3.05" fill="url(#gp)" stroke="#6e0a40" stroke-width="0.7"/>
<circle cx="303.6" cy="418.1" r="3.05" fill="url(#gp)" stroke="#6e0a40" stroke-width="0.7"/>
<circle cx="303.5" cy="430.2" r="3.05" fill="url(#gp)" stroke="#6e0a40" stroke-width="0.7"/>
<circle cx="311.2" cy="428.9" r="3.05" fill="url(#gp)" stroke="#6e0a40" stroke-width="0.7"/>
<circle cx="316.9" cy="424.9" r="3.05" fill="url(#gp)" stroke="#6e0a40" stroke-width="0.7"/>
<circle cx="316.7" cy="424.6" r="3.05" fill="url(#gp)" stroke="#6e0a40" stroke-width="0.7"/>
<circle cx="323.6" cy="427.8" r="3.05" fill="url(#gp)" stroke="#6e0a40" stroke-width="0.7"/>
<circle cx="332.2" cy="423.7" r="3.05" fill="url(#gp)" stroke="#6e0a40" stroke-width="0.7"/>
<circle cx="332.7" cy="425.2" r="3.05" fill="url(#gp)" stroke="#6e0a40" stroke-width="0.7"/>
<circle cx="339.2" cy="423.0" r="3.05" fill="url(#gp)" stroke="#6e0a40" stroke-width="0.7"/>
<circle cx="337.9" cy="430.1" r="3.05" fill="url(#gb)" stroke="#2e1404" stroke-width="0.7"/>
<circle cx="345.1" cy="426.4" r="3.05" fill="url(#gy)" stroke="#6a6a04" stroke-width="0.7"/>
<circle cx="352.6" cy="432.2" r="3.05" fill="url(#gy)" stroke="#6a6a04" stroke-width="0.7"/>
<circle cx="298.2" cy="431.3" r="3.05" fill="url(#gp)" stroke="#6e0a40" stroke-width="0.7"/>
<circle cx="303.6" cy="427.0" r="3.05" fill="url(#gb)" stroke="#2e1404" stroke-width="0.7"/>
<circle cx="313.4" cy="430.5" r="3.05" fill="url(#gp)" stroke="#6e0a40" stroke-width="0.7"/>
<circle cx="317.3" cy="433.1" r="3.05" fill="url(#gp)" stroke="#6e0a40" stroke-width="0.7"/>
<circle cx="321.0" cy="431.4" r="3.05" fill="url(#gp)" stroke="#6e0a40" stroke-width="0.7"/>
<circle cx="327.7" cy="432.4" r="3.05" fill="url(#gp)" stroke="#6e0a40" stroke-width="0.7"/>
<circle cx="335.4" cy="430.8" r="3.05" fill="url(#gb)" stroke="#2e1404" stroke-width="0.7"/>
<circle cx="345.1" cy="435.1" r="3.05" fill="url(#gp)" stroke="#6e0a40" stroke-width="0.7"/>
<circle cx="346.4" cy="432.6" r="3.05" fill="url(#gy)" stroke="#6a6a04" stroke-width="0.7"/>
<circle cx="278.7" cy="438.9" r="3.05" fill="url(#gy)" stroke="#6a6a04" stroke-width="0.7"/>
<circle cx="314.9" cy="440.1" r="3.05" fill="url(#gp)" stroke="#6e0a40" stroke-width="0.7"/>
<circle cx="321.2" cy="433.4" r="3.05" fill="url(#gp)" stroke="#6e0a40" stroke-width="0.7"/>
<circle cx="323.4" cy="438.4" r="3.05" fill="url(#gb)" stroke="#2e1404" stroke-width="0.7"/>
<circle cx="334.4" cy="437.7" r="3.05" fill="url(#gp)" stroke="#6e0a40" stroke-width="0.7"/>
<circle cx="323.3" cy="441.4" r="3.05" fill="url(#gp)" stroke="#6e0a40" stroke-width="0.7"/>
<circle cx="327.9" cy="447.3" r="3.05" fill="url(#gp)" stroke="#6e0a40" stroke-width="0.7"/>
<circle cx="315.5" cy="453.3" r="3.05" fill="url(#gy)" stroke="#6a6a04" stroke-width="0.7"/>
<circle cx="319.1" cy="453.9" r="3.05" fill="url(#gp)" stroke="#6e0a40" stroke-width="0.7"/>
<circle cx="317.6" cy="458.1" r="3.05" fill="url(#gp)" stroke="#6e0a40" stroke-width="0.7"/>
<circle cx="311.3" cy="462.5" r="3.05" fill="url(#gp)" stroke="#6e0a40" stroke-width="0.7"/>
<circle cx="316.2" cy="466.1" r="3.05" fill="url(#gp)" stroke="#6e0a40" stroke-width="0.7"/>
<circle cx="330.1" cy="482.3" r="3.05" fill="url(#gp)" stroke="#6e0a40" stroke-width="0.7"/>
<circle cx="320.2" cy="487.9" r="3.05" fill="url(#gy)" stroke="#6a6a04" stroke-width="0.7"/>
<circle cx="338.5" cy="507.0" r="3.05" fill="url(#gy)" stroke="#6a6a04" stroke-width="0.7"/>
<circle cx="318.9" cy="511.0" r="3.05" fill="url(#gp)" stroke="#6e0a40" stroke-width="0.7"/>
<circle cx="298.2" cy="348.2" r="3.05" fill="url(#gy)" stroke="#6a6a04" stroke-width="0.7"/>
<circle cx="309.8" cy="349.4" r="3.05" fill="url(#gb)" stroke="#2e1404" stroke-width="0.7"/>
<circle cx="321.6" cy="344.8" r="3.05" fill="url(#gb)" stroke="#2e1404" stroke-width="0.7"/>
<circle cx="322.4" cy="349.7" r="3.05" fill="url(#gb)" stroke="#2e1404" stroke-width="0.7"/>
<circle cx="328.3" cy="347.5" r="3.05" fill="url(#gb)" stroke="#2e1404" stroke-width="0.7"/>
<circle cx="301.6" cy="349.5" r="3.05" fill="url(#gp)" stroke="#6e0a40" stroke-width="0.7"/>
<circle cx="312.5" cy="352.9" r="3.05" fill="url(#gp)" stroke="#6e0a40" stroke-width="0.7"/>
<circle cx="321.8" cy="353.0" r="3.05" fill="url(#gb)" stroke="#2e1404" stroke-width="0.7"/>
<circle cx="326.6" cy="352.8" r="3.05" fill="url(#gp)" stroke="#6e0a40" stroke-width="0.7"/>
<circle cx="335.8" cy="347.8" r="3.05" fill="url(#gy)" stroke="#6a6a04" stroke-width="0.7"/>
<circle cx="296.3" cy="355.7" r="3.05" fill="url(#gp)" stroke="#6e0a40" stroke-width="0.7"/>
<circle cx="309.4" cy="352.4" r="3.05" fill="url(#gp)" stroke="#6e0a40" stroke-width="0.7"/>
<circle cx="296.0" cy="353.7" r="3.05" fill="url(#gp)" stroke="#6e0a40" stroke-width="0.7"/>
<circle cx="304.5" cy="354.5" r="3.05" fill="url(#gp)" stroke="#6e0a40" stroke-width="0.7"/>
<circle cx="302.9" cy="356.3" r="3.05" fill="url(#gp)" stroke="#6e0a40" stroke-width="0.7"/>
<circle cx="321.5" cy="358.6" r="3.05" fill="url(#gy)" stroke="#6a6a04" stroke-width="0.7"/>
<circle cx="324.1" cy="355.7" r="3.05" fill="url(#gp)" stroke="#6e0a40" stroke-width="0.7"/>
<circle cx="334.1" cy="359.7" r="3.05" fill="url(#gy)" stroke="#6a6a04" stroke-width="0.7"/>
<circle cx="298.5" cy="355.0" r="3.05" fill="url(#gb)" stroke="#2e1404" stroke-width="0.7"/>
<circle cx="308.3" cy="357.6" r="3.05" fill="url(#gy)" stroke="#6a6a04" stroke-width="0.7"/>
<circle cx="312.7" cy="357.0" r="3.05" fill="url(#gp)" stroke="#6e0a40" stroke-width="0.7"/>
<circle cx="302.8" cy="358.7" r="3.05" fill="url(#gp)" stroke="#6e0a40" stroke-width="0.7"/>
<circle cx="295.8" cy="365.0" r="3.05" fill="url(#gp)" stroke="#6e0a40" stroke-width="0.7"/>
<circle cx="318.1" cy="362.7" r="3.05" fill="url(#gb)" stroke="#2e1404" stroke-width="0.7"/>
<circle cx="326.3" cy="363.2" r="3.05" fill="url(#gp)" stroke="#6e0a40" stroke-width="0.7"/>
<circle cx="328.9" cy="365.5" r="3.05" fill="url(#gy)" stroke="#6a6a04" stroke-width="0.7"/>
<circle cx="298.3" cy="366.2" r="3.05" fill="url(#gp)" stroke="#6e0a40" stroke-width="0.7"/>
<circle cx="314.5" cy="365.8" r="3.05" fill="url(#gp)" stroke="#6e0a40" stroke-width="0.7"/>
<circle cx="307.4" cy="369.1" r="3.05" fill="url(#gp)" stroke="#6e0a40" stroke-width="0.7"/>
<circle cx="319.7" cy="366.4" r="3.05" fill="url(#gb)" stroke="#2e1404" stroke-width="0.7"/>
<circle cx="323.0" cy="364.7" r="3.05" fill="url(#gb)" stroke="#2e1404" stroke-width="0.7"/>
<circle cx="321.7" cy="368.0" r="3.05" fill="url(#gy)" stroke="#6a6a04" stroke-width="0.7"/>
<circle cx="329.0" cy="370.9" r="3.05" fill="url(#gy)" stroke="#6a6a04" stroke-width="0.7"/>
<circle cx="317.5" cy="366.6" r="3.05" fill="url(#gy)" stroke="#6a6a04" stroke-width="0.7"/>
<circle cx="310.6" cy="375.9" r="3.05" fill="url(#gy)" stroke="#6a6a04" stroke-width="0.7"/>
<circle cx="299.0" cy="370.6" r="3.05" fill="url(#gy)" stroke="#6a6a04" stroke-width="0.7"/>
<circle cx="299.4" cy="375.6" r="3.05" fill="url(#gp)" stroke="#6e0a40" stroke-width="0.7"/>
<circle cx="331.6" cy="374.2" r="3.05" fill="url(#gp)" stroke="#6e0a40" stroke-width="0.7"/>
<circle cx="335.2" cy="368.8" r="3.05" fill="url(#gy)" stroke="#6a6a04" stroke-width="0.7"/>
<circle cx="315.4" cy="373.1" r="3.05" fill="url(#gy)" stroke="#6a6a04" stroke-width="0.7"/>
<circle cx="303.8" cy="373.8" r="3.05" fill="url(#gy)" stroke="#6a6a04" stroke-width="0.7"/>
<circle cx="322.7" cy="374.6" r="3.05" fill="url(#gp)" stroke="#6e0a40" stroke-width="0.7"/>
<circle cx="294.7" cy="380.4" r="3.05" fill="url(#gy)" stroke="#6a6a04" stroke-width="0.7"/>
<circle cx="302.2" cy="373.8" r="3.05" fill="url(#gp)" stroke="#6e0a40" stroke-width="0.7"/>
<circle cx="305.3" cy="381.5" r="3.05" fill="url(#gp)" stroke="#6e0a40" stroke-width="0.7"/>
<circle cx="312.8" cy="379.4" r="3.05" fill="url(#gp)" stroke="#6e0a40" stroke-width="0.7"/>
<circle cx="324.9" cy="376.0" r="3.05" fill="url(#gp)" stroke="#6e0a40" stroke-width="0.7"/>
<circle cx="328.1" cy="382.4" r="3.05" fill="url(#gp)" stroke="#6e0a40" stroke-width="0.7"/>
<circle cx="332.7" cy="382.3" r="3.05" fill="url(#gp)" stroke="#6e0a40" stroke-width="0.7"/>
<circle cx="295.7" cy="381.4" r="3.05" fill="url(#gp)" stroke="#6e0a40" stroke-width="0.7"/>
<circle cx="316.4" cy="384.7" r="3.05" fill="url(#gp)" stroke="#6e0a40" stroke-width="0.7"/>
<circle cx="325.7" cy="384.3" r="3.05" fill="url(#gp)" stroke="#6e0a40" stroke-width="0.7"/>
<circle cx="293.7" cy="390.3" r="3.05" fill="url(#gy)" stroke="#6a6a04" stroke-width="0.7"/>
<circle cx="301.2" cy="390.3" r="3.05" fill="url(#gp)" stroke="#6e0a40" stroke-width="0.7"/>
<circle cx="312.6" cy="386.9" r="3.05" fill="url(#gp)" stroke="#6e0a40" stroke-width="0.7"/>
<circle cx="310.3" cy="385.7" r="3.05" fill="url(#gy)" stroke="#6a6a04" stroke-width="0.7"/>
<circle cx="315.2" cy="387.2" r="3.05" fill="url(#gp)" stroke="#6e0a40" stroke-width="0.7"/>
<circle cx="326.0" cy="389.4" r="3.05" fill="url(#gp)" stroke="#6e0a40" stroke-width="0.7"/>
<circle cx="325.1" cy="387.8" r="3.05" fill="url(#gp)" stroke="#6e0a40" stroke-width="0.7"/>
<circle cx="336.3" cy="385.4" r="3.05" fill="url(#gy)" stroke="#6a6a04" stroke-width="0.7"/>
<circle cx="299.3" cy="394.0" r="3.05" fill="url(#gy)" stroke="#6a6a04" stroke-width="0.7"/>
<circle cx="299.6" cy="389.3" r="3.05" fill="url(#gy)" stroke="#6a6a04" stroke-width="0.7"/>
<circle cx="308.6" cy="389.9" r="3.05" fill="url(#gb)" stroke="#2e1404" stroke-width="0.7"/>
<circle cx="317.2" cy="391.6" r="3.05" fill="url(#gy)" stroke="#6a6a04" stroke-width="0.7"/>
<circle cx="297.9" cy="393.4" r="3.05" fill="url(#gy)" stroke="#6a6a04" stroke-width="0.7"/>
<circle cx="298.6" cy="392.3" r="3.05" fill="url(#gy)" stroke="#6a6a04" stroke-width="0.7"/>
<circle cx="307.3" cy="393.0" r="3.05" fill="url(#gp)" stroke="#6e0a40" stroke-width="0.7"/>
<circle cx="307.3" cy="390.7" r="3.05" fill="url(#gy)" stroke="#6a6a04" stroke-width="0.7"/>
<circle cx="309.9" cy="397.6" r="3.05" fill="url(#gy)" stroke="#6a6a04" stroke-width="0.7"/>
<circle cx="307.4" cy="396.6" r="3.05" fill="url(#gb)" stroke="#2e1404" stroke-width="0.7"/>
<circle cx="311.7" cy="392.3" r="3.05" fill="url(#gb)" stroke="#2e1404" stroke-width="0.7"/>
<circle cx="319.8" cy="393.7" r="3.05" fill="url(#gp)" stroke="#6e0a40" stroke-width="0.7"/>
<circle cx="322.7" cy="394.1" r="3.05" fill="url(#gp)" stroke="#6e0a40" stroke-width="0.7"/>
<circle cx="332.8" cy="393.6" r="3.05" fill="url(#gb)" stroke="#2e1404" stroke-width="0.7"/>
<circle cx="296.8" cy="399.6" r="3.05" fill="url(#gy)" stroke="#6a6a04" stroke-width="0.7"/>
<circle cx="293.6" cy="400.3" r="3.05" fill="url(#gy)" stroke="#6a6a04" stroke-width="0.7"/>
<circle cx="303.3" cy="399.7" r="3.05" fill="url(#gp)" stroke="#6e0a40" stroke-width="0.7"/>
<circle cx="302.9" cy="397.6" r="3.05" fill="url(#gp)" stroke="#6e0a40" stroke-width="0.7"/>
<circle cx="306.9" cy="397.2" r="3.05" fill="url(#gy)" stroke="#6a6a04" stroke-width="0.7"/>
<circle cx="314.4" cy="398.4" r="3.05" fill="url(#gy)" stroke="#6a6a04" stroke-width="0.7"/>
<circle cx="311.9" cy="399.5" r="3.05" fill="url(#gy)" stroke="#6a6a04" stroke-width="0.7"/>
<circle cx="322.3" cy="401.6" r="3.05" fill="url(#gy)" stroke="#6a6a04" stroke-width="0.7"/>
<circle cx="321.9" cy="401.8" r="3.05" fill="url(#gy)" stroke="#6a6a04" stroke-width="0.7"/>
<circle cx="327.7" cy="399.4" r="3.05" fill="url(#gp)" stroke="#6e0a40" stroke-width="0.7"/>
<circle cx="300.2" cy="402.8" r="3.05" fill="url(#gy)" stroke="#6a6a04" stroke-width="0.7"/>
<circle cx="296.8" cy="402.0" r="3.05" fill="url(#gp)" stroke="#6e0a40" stroke-width="0.7"/>
<circle cx="306.4" cy="402.9" r="3.05" fill="url(#gy)" stroke="#6a6a04" stroke-width="0.7"/>
<circle cx="313.5" cy="401.7" r="3.05" fill="url(#gp)" stroke="#6e0a40" stroke-width="0.7"/>
<circle cx="317.2" cy="402.5" r="3.05" fill="url(#gp)" stroke="#6e0a40" stroke-width="0.7"/>
<circle cx="323.0" cy="401.2" r="3.05" fill="url(#gy)" stroke="#6a6a04" stroke-width="0.7"/>
<circle cx="325.8" cy="399.9" r="3.05" fill="url(#gb)" stroke="#2e1404" stroke-width="0.7"/>
<circle cx="322.4" cy="405.5" r="3.05" fill="url(#gy)" stroke="#6a6a04" stroke-width="0.7"/>
<circle cx="254.9" cy="376.2" r="3.05" fill="url(#gy)" stroke="#6a6a04" stroke-width="0.7"/>
<circle cx="266.8" cy="379.3" r="3.05" fill="url(#gp)" stroke="#6e0a40" stroke-width="0.7"/>
<circle cx="271.3" cy="378.2" r="3.05" fill="url(#gp)" stroke="#6e0a40" stroke-width="0.7"/>
<circle cx="274.5" cy="377.0" r="3.05" fill="url(#gp)" stroke="#6e0a40" stroke-width="0.7"/>
<circle cx="277.3" cy="374.5" r="3.05" fill="url(#gy)" stroke="#6a6a04" stroke-width="0.7"/>
<circle cx="285.6" cy="373.7" r="3.05" fill="url(#gp)" stroke="#6e0a40" stroke-width="0.7"/>
<circle cx="289.8" cy="374.5" r="3.05" fill="url(#gp)" stroke="#6e0a40" stroke-width="0.7"/>
<circle cx="265.1" cy="381.7" r="3.05" fill="url(#gp)" stroke="#6e0a40" stroke-width="0.7"/>
<circle cx="274.4" cy="380.4" r="3.05" fill="url(#gp)" stroke="#6e0a40" stroke-width="0.7"/>
<circle cx="283.8" cy="377.7" r="3.05" fill="url(#gp)" stroke="#6e0a40" stroke-width="0.7"/>
<circle cx="289.8" cy="379.2" r="3.05" fill="url(#gp)" stroke="#6e0a40" stroke-width="0.7"/>
<circle cx="289.0" cy="381.3" r="3.05" fill="url(#gp)" stroke="#6e0a40" stroke-width="0.7"/>
<circle cx="263.3" cy="384.6" r="3.05" fill="url(#gp)" stroke="#6e0a40" stroke-width="0.7"/>
<circle cx="269.8" cy="387.2" r="3.05" fill="url(#gp)" stroke="#6e0a40" stroke-width="0.7"/>
<circle cx="276.5" cy="385.4" r="3.05" fill="url(#gp)" stroke="#6e0a40" stroke-width="0.7"/>
<circle cx="289.7" cy="385.1" r="3.05" fill="url(#gp)" stroke="#6e0a40" stroke-width="0.7"/>
<circle cx="290.0" cy="389.2" r="3.05" fill="url(#gy)" stroke="#6a6a04" stroke-width="0.7"/>
<circle cx="268.9" cy="388.9" r="3.05" fill="url(#gy)" stroke="#6a6a04" stroke-width="0.7"/>
<circle cx="277.0" cy="387.7" r="3.05" fill="url(#gp)" stroke="#6e0a40" stroke-width="0.7"/>
<circle cx="291.6" cy="391.9" r="3.05" fill="url(#gy)" stroke="#6a6a04" stroke-width="0.7"/>
<circle cx="274.1" cy="394.5" r="3.05" fill="url(#gb)" stroke="#2e1404" stroke-width="0.7"/>
<circle cx="283.9" cy="394.7" r="3.05" fill="url(#gy)" stroke="#6a6a04" stroke-width="0.7"/>
<circle cx="289.2" cy="393.1" r="3.05" fill="url(#gy)" stroke="#6a6a04" stroke-width="0.7"/>
<circle cx="260.1" cy="400.2" r="3.05" fill="url(#gp)" stroke="#6e0a40" stroke-width="0.7"/>
<circle cx="269.8" cy="400.2" r="3.05" fill="url(#gp)" stroke="#6e0a40" stroke-width="0.7"/>
<circle cx="272.9" cy="401.2" r="3.05" fill="url(#gp)" stroke="#6e0a40" stroke-width="0.7"/>
<circle cx="287.5" cy="398.7" r="3.05" fill="url(#gp)" stroke="#6e0a40" stroke-width="0.7"/>
<circle cx="276.8" cy="396.6" r="3.05" fill="url(#gp)" stroke="#6e0a40" stroke-width="0.7"/>
<circle cx="281.6" cy="396.8" r="3.05" fill="url(#gp)" stroke="#6e0a40" stroke-width="0.7"/>
<circle cx="288.3" cy="396.4" r="3.05" fill="url(#gy)" stroke="#6a6a04" stroke-width="0.7"/>
<circle cx="287.7" cy="401.1" r="3.05" fill="url(#gp)" stroke="#6e0a40" stroke-width="0.7"/>
<circle cx="264.0" cy="402.7" r="3.05" fill="url(#gy)" stroke="#6a6a04" stroke-width="0.7"/>
<circle cx="273.5" cy="402.4" r="3.05" fill="url(#gp)" stroke="#6e0a40" stroke-width="0.7"/>
<circle cx="273.5" cy="404.3" r="3.05" fill="url(#gp)" stroke="#6e0a40" stroke-width="0.7"/>
<circle cx="281.9" cy="403.7" r="3.05" fill="url(#gy)" stroke="#6a6a04" stroke-width="0.7"/>
<circle cx="288.2" cy="401.1" r="3.05" fill="url(#gp)" stroke="#6e0a40" stroke-width="0.7"/>
<circle cx="287.0" cy="401.3" r="3.05" fill="url(#gp)" stroke="#6e0a40" stroke-width="0.7"/>
<circle cx="283.6" cy="401.9" r="3.05" fill="url(#gp)" stroke="#6e0a40" stroke-width="0.7"/>
<circle cx="282.1" cy="405.0" r="3.05" fill="url(#gp)" stroke="#6e0a40" stroke-width="0.7"/>
<circle cx="254.7" cy="346.9" r="3.05" fill="url(#gp)" stroke="#6e0a40" stroke-width="0.7"/>
<circle cx="254.3" cy="345.1" r="3.05" fill="url(#gp)" stroke="#6e0a40" stroke-width="0.7"/>
<circle cx="258.5" cy="346.9" r="3.05" fill="url(#gp)" stroke="#6e0a40" stroke-width="0.7"/>
<circle cx="266.3" cy="345.2" r="3.05" fill="url(#gp)" stroke="#6e0a40" stroke-width="0.7"/>
<circle cx="265.6" cy="349.0" r="3.05" fill="url(#gp)" stroke="#6e0a40" stroke-width="0.7"/>
<circle cx="266.7" cy="350.7" r="3.05" fill="url(#gp)" stroke="#6e0a40" stroke-width="0.7"/>
<circle cx="273.3" cy="346.5" r="3.05" fill="url(#gp)" stroke="#6e0a40" stroke-width="0.7"/>
<circle cx="283.2" cy="349.1" r="3.05" fill="url(#gp)" stroke="#6e0a40" stroke-width="0.7"/>
<circle cx="289.0" cy="347.9" r="3.05" fill="url(#gp)" stroke="#6e0a40" stroke-width="0.7"/>
<circle cx="258.1" cy="348.9" r="3.05" fill="url(#gp)" stroke="#6e0a40" stroke-width="0.7"/>
<circle cx="262.4" cy="348.7" r="3.05" fill="url(#gp)" stroke="#6e0a40" stroke-width="0.7"/>
<circle cx="265.8" cy="354.9" r="3.05" fill="url(#gp)" stroke="#6e0a40" stroke-width="0.7"/>
<circle cx="268.8" cy="357.2" r="3.05" fill="url(#gp)" stroke="#6e0a40" stroke-width="0.7"/>
<circle cx="272.2" cy="348.4" r="3.05" fill="url(#gp)" stroke="#6e0a40" stroke-width="0.7"/>
<circle cx="275.5" cy="352.2" r="3.05" fill="url(#gp)" stroke="#6e0a40" stroke-width="0.7"/>
<circle cx="280.4" cy="356.0" r="3.05" fill="url(#gy)" stroke="#6a6a04" stroke-width="0.7"/>
<circle cx="285.1" cy="351.2" r="3.05" fill="url(#gp)" stroke="#6e0a40" stroke-width="0.7"/>
<circle cx="284.4" cy="350.7" r="3.05" fill="url(#gp)" stroke="#6e0a40" stroke-width="0.7"/>
<circle cx="253.1" cy="354.8" r="3.05" fill="url(#gp)" stroke="#6e0a40" stroke-width="0.7"/>
<circle cx="278.8" cy="357.7" r="3.05" fill="url(#gp)" stroke="#6e0a40" stroke-width="0.7"/>
<circle cx="283.6" cy="358.2" r="3.05" fill="url(#gp)" stroke="#6e0a40" stroke-width="0.7"/>
<circle cx="289.7" cy="353.2" r="3.05" fill="url(#gy)" stroke="#6a6a04" stroke-width="0.7"/>
<circle cx="291.7" cy="354.5" r="3.05" fill="url(#gy)" stroke="#6a6a04" stroke-width="0.7"/>
<circle cx="263.4" cy="361.3" r="3.05" fill="url(#gp)" stroke="#6e0a40" stroke-width="0.7"/>
<circle cx="263.1" cy="359.9" r="3.05" fill="url(#gp)" stroke="#6e0a40" stroke-width="0.7"/>
<circle cx="273.7" cy="363.7" r="3.05" fill="url(#gy)" stroke="#6a6a04" stroke-width="0.7"/>
<circle cx="273.6" cy="358.6" r="3.05" fill="url(#gy)" stroke="#6a6a04" stroke-width="0.7"/>
<circle cx="285.8" cy="362.0" r="3.05" fill="url(#gp)" stroke="#6e0a40" stroke-width="0.7"/>
<circle cx="288.8" cy="364.4" r="3.05" fill="url(#gp)" stroke="#6e0a40" stroke-width="0.7"/>
<circle cx="295.2" cy="368.3" r="3.05" fill="url(#gp)" stroke="#6e0a40" stroke-width="0.7"/>
<circle cx="255.5" cy="367.9" r="3.05" fill="url(#gp)" stroke="#6e0a40" stroke-width="0.7"/>
<circle cx="265.9" cy="363.1" r="3.05" fill="url(#gp)" stroke="#6e0a40" stroke-width="0.7"/>
<circle cx="272.4" cy="362.1" r="3.05" fill="url(#gy)" stroke="#6a6a04" stroke-width="0.7"/>
<circle cx="280.3" cy="368.4" r="3.05" fill="url(#gy)" stroke="#6a6a04" stroke-width="0.7"/>
<circle cx="284.8" cy="368.4" r="3.05" fill="url(#gp)" stroke="#6e0a40" stroke-width="0.7"/>
<circle cx="258.8" cy="370.5" r="3.05" fill="url(#gp)" stroke="#6e0a40" stroke-width="0.7"/>
<circle cx="271.7" cy="368.7" r="3.05" fill="url(#gp)" stroke="#6e0a40" stroke-width="0.7"/>
<circle cx="270.1" cy="369.5" r="3.05" fill="url(#gp)" stroke="#6e0a40" stroke-width="0.7"/>
<circle cx="273.6" cy="370.5" r="3.05" fill="url(#gp)" stroke="#6e0a40" stroke-width="0.7"/>
<circle cx="280.2" cy="369.5" r="3.05" fill="url(#gp)" stroke="#6e0a40" stroke-width="0.7"/>
<circle cx="290.8" cy="370.1" r="3.05" fill="url(#gy)" stroke="#6a6a04" stroke-width="0.7"/>
<circle cx="256.9" cy="370.5" r="3.05" fill="url(#gp)" stroke="#6e0a40" stroke-width="0.7"/>
<circle cx="262.2" cy="370.2" r="3.05" fill="url(#gy)" stroke="#6a6a04" stroke-width="0.7"/>
<circle cx="262.9" cy="374.1" r="3.05" fill="url(#gp)" stroke="#6e0a40" stroke-width="0.7"/>
<circle cx="273.5" cy="374.1" r="3.05" fill="url(#gy)" stroke="#6a6a04" stroke-width="0.7"/>
<circle cx="283.1" cy="371.3" r="3.05" fill="url(#gp)" stroke="#6e0a40" stroke-width="0.7"/>
<circle cx="288.5" cy="371.7" r="3.05" fill="url(#gp)" stroke="#6e0a40" stroke-width="0.7"/>
<circle cx="293.1" cy="373.0" r="3.05" fill="url(#gp)" stroke="#6e0a40" stroke-width="0.7"/>
<circle cx="288.6" cy="113.1" r="3.05" fill="url(#gb)" stroke="#2e1404" stroke-width="0.7"/>
<circle cx="407.8" cy="100.2" r="3.05" fill="url(#gb)" stroke="#2e1404" stroke-width="0.7"/>
<circle cx="314.5" cy="149.0" r="3.05" fill="url(#gb)" stroke="#2e1404" stroke-width="0.7"/>
<circle cx="339.2" cy="166.5" r="3.05" fill="url(#gb)" stroke="#2e1404" stroke-width="0.7"/>
<circle cx="296.6" cy="166.2" r="3.05" fill="url(#gb)" stroke="#2e1404" stroke-width="0.7"/>
<circle cx="251.8" cy="182.8" r="3.05" fill="url(#gb)" stroke="#2e1404" stroke-width="0.7"/>
<circle cx="277.7" cy="180.1" r="3.05" fill="url(#gb)" stroke="#2e1404" stroke-width="0.7"/>
<circle cx="290.9" cy="232.3" r="3.05" fill="url(#gb)" stroke="#2e1404" stroke-width="0.7"/>
<circle cx="285.7" cy="237.6" r="3.05" fill="url(#gb)" stroke="#2e1404" stroke-width="0.7"/>
<circle cx="327.0" cy="207.1" r="3.05" fill="url(#gb)" stroke="#2e1404" stroke-width="0.7"/>
<circle cx="312.0" cy="224.8" r="3.05" fill="url(#gb)" stroke="#2e1404" stroke-width="0.7"/>
<circle cx="303.3" cy="229.1" r="3.05" fill="url(#gb)" stroke="#2e1404" stroke-width="0.7"/>
<circle cx="348.6" cy="223.7" r="3.05" fill="url(#gb)" stroke="#2e1404" stroke-width="0.7"/>
<circle cx="306.5" cy="236.9" r="3.05" fill="url(#gb)" stroke="#2e1404" stroke-width="0.7"/>
<circle cx="302.6" cy="240.2" r="3.05" fill="url(#gb)" stroke="#2e1404" stroke-width="0.7"/>
<circle cx="287.4" cy="246.8" r="3.05" fill="url(#gb)" stroke="#2e1404" stroke-width="0.7"/>
<circle cx="288.7" cy="259.3" r="3.05" fill="url(#gb)" stroke="#2e1404" stroke-width="0.7"/>
<circle cx="299.4" cy="256.7" r="3.05" fill="url(#gb)" stroke="#2e1404" stroke-width="0.7"/>
<circle cx="308.3" cy="256.7" r="3.05" fill="url(#gb)" stroke="#2e1404" stroke-width="0.7"/>
<circle cx="316.6" cy="258.3" r="3.05" fill="url(#gb)" stroke="#2e1404" stroke-width="0.7"/>
<circle cx="327.4" cy="256.5" r="3.05" fill="url(#gb)" stroke="#2e1404" stroke-width="0.7"/>
<circle cx="333.1" cy="252.3" r="3.05" fill="url(#gb)" stroke="#2e1404" stroke-width="0.7"/>
<circle cx="318.5" cy="268.8" r="3.05" fill="url(#gb)" stroke="#2e1404" stroke-width="0.7"/>
<circle cx="314.0" cy="270.7" r="3.05" fill="url(#gb)" stroke="#2e1404" stroke-width="0.7"/>
<circle cx="326.1" cy="272.6" r="3.05" fill="url(#gb)" stroke="#2e1404" stroke-width="0.7"/>
<circle cx="291.8" cy="276.4" r="3.05" fill="url(#gb)" stroke="#2e1404" stroke-width="0.7"/>
<circle cx="314.0" cy="280.9" r="3.05" fill="url(#gb)" stroke="#2e1404" stroke-width="0.7"/>
<circle cx="320.4" cy="280.2" r="3.05" fill="url(#gb)" stroke="#2e1404" stroke-width="0.7"/>
<circle cx="331.2" cy="282.1" r="3.05" fill="url(#gb)" stroke="#2e1404" stroke-width="0.7"/>
<circle cx="356.8" cy="248.9" r="3.05" fill="url(#gb)" stroke="#2e1404" stroke-width="0.7"/>
<circle cx="342.6" cy="261.2" r="3.05" fill="url(#gb)" stroke="#2e1404" stroke-width="0.7"/>
<circle cx="350.2" cy="260.6" r="3.05" fill="url(#gb)" stroke="#2e1404" stroke-width="0.7"/>
<circle cx="351.5" cy="270.1" r="3.05" fill="url(#gb)" stroke="#2e1404" stroke-width="0.7"/>
<circle cx="340.1" cy="279.0" r="3.05" fill="url(#gb)" stroke="#2e1404" stroke-width="0.7"/>
<circle cx="336.3" cy="282.8" r="3.05" fill="url(#gb)" stroke="#2e1404" stroke-width="0.7"/>
<circle cx="318.5" cy="293.3" r="3.05" fill="url(#gb)" stroke="#2e1404" stroke-width="0.7"/>
<circle cx="331.2" cy="299.0" r="3.05" fill="url(#gb)" stroke="#2e1404" stroke-width="0.7"/>
<circle cx="332.5" cy="305.3" r="3.05" fill="url(#gb)" stroke="#2e1404" stroke-width="0.7"/>
<circle cx="296.3" cy="303.4" r="3.05" fill="url(#gb)" stroke="#2e1404" stroke-width="0.7"/>
<circle cx="317.2" cy="311.0" r="3.05" fill="url(#gb)" stroke="#2e1404" stroke-width="0.7"/>
<circle cx="332.5" cy="325.6" r="3.05" fill="url(#gb)" stroke="#2e1404" stroke-width="0.7"/>
<circle cx="326.7" cy="328.8" r="3.05" fill="url(#gb)" stroke="#2e1404" stroke-width="0.7"/>
<circle cx="299.4" cy="336.4" r="3.05" fill="url(#gb)" stroke="#2e1404" stroke-width="0.7"/>
<circle cx="322.9" cy="336.4" r="3.05" fill="url(#gb)" stroke="#2e1404" stroke-width="0.7"/>
<circle cx="330.6" cy="337.1" r="3.05" fill="url(#gb)" stroke="#2e1404" stroke-width="0.7"/>
<circle cx="314.7" cy="340.2" r="3.05" fill="url(#gb)" stroke="#2e1404" stroke-width="0.7"/>
<circle cx="344.9" cy="293.9" r="3.05" fill="url(#gb)" stroke="#2e1404" stroke-width="0.7"/>
<circle cx="378.8" cy="291.3" r="3.05" fill="url(#gb)" stroke="#2e1404" stroke-width="0.7"/>
<circle cx="384.3" cy="299.6" r="3.05" fill="url(#gb)" stroke="#2e1404" stroke-width="0.7"/>
<circle cx="359.4" cy="302.5" r="3.05" fill="url(#gb)" stroke="#2e1404" stroke-width="0.7"/>
<circle cx="341.3" cy="304.7" r="3.05" fill="url(#gb)" stroke="#2e1404" stroke-width="0.7"/>
<circle cx="340.7" cy="314.2" r="3.05" fill="url(#gb)" stroke="#2e1404" stroke-width="0.7"/>
<circle cx="353.4" cy="325.4" r="3.05" fill="url(#gb)" stroke="#2e1404" stroke-width="0.7"/>
<circle cx="341.1" cy="330.1" r="3.05" fill="url(#gb)" stroke="#2e1404" stroke-width="0.7"/>
<circle cx="370.8" cy="333.9" r="3.05" fill="url(#gb)" stroke="#2e1404" stroke-width="0.7"/>
<circle cx="396.0" cy="331.0" r="3.05" fill="url(#gb)" stroke="#2e1404" stroke-width="0.7"/>
<circle cx="342.6" cy="342.8" r="3.05" fill="url(#gb)" stroke="#2e1404" stroke-width="0.7"/>
<circle cx="353.8" cy="341.9" r="3.05" fill="url(#gb)" stroke="#2e1404" stroke-width="0.7"/>
<circle cx="388.6" cy="340.9" r="3.05" fill="url(#gb)" stroke="#2e1404" stroke-width="0.7"/>
<circle cx="344.5" cy="348.8" r="3.05" fill="url(#gb)" stroke="#2e1404" stroke-width="0.7"/>
<circle cx="354.7" cy="348.8" r="3.05" fill="url(#gb)" stroke="#2e1404" stroke-width="0.7"/>
<circle cx="362.3" cy="348.6" r="3.05" fill="url(#gb)" stroke="#2e1404" stroke-width="0.7"/>
<circle cx="363.6" cy="355.4" r="3.05" fill="url(#gb)" stroke="#2e1404" stroke-width="0.7"/>
<circle cx="349.6" cy="361.5" r="3.05" fill="url(#gb)" stroke="#2e1404" stroke-width="0.7"/>
<circle cx="360.4" cy="369.1" r="3.05" fill="url(#gb)" stroke="#2e1404" stroke-width="0.7"/>
<circle cx="375.6" cy="372.3" r="3.05" fill="url(#gb)" stroke="#2e1404" stroke-width="0.7"/>
<circle cx="337.5" cy="374.8" r="3.05" fill="url(#gb)" stroke="#2e1404" stroke-width="0.7"/>
<circle cx="350.2" cy="375.2" r="3.05" fill="url(#gb)" stroke="#2e1404" stroke-width="0.7"/>
<circle cx="359.1" cy="379.0" r="3.05" fill="url(#gb)" stroke="#2e1404" stroke-width="0.7"/>
<circle cx="365.5" cy="379.0" r="3.05" fill="url(#gb)" stroke="#2e1404" stroke-width="0.7"/>
<circle cx="356.0" cy="388.8" r="3.05" fill="url(#gb)" stroke="#2e1404" stroke-width="0.7"/>
<circle cx="373.1" cy="395.2" r="3.05" fill="url(#gb)" stroke="#2e1404" stroke-width="0.7"/>
<circle cx="366.1" cy="398.3" r="3.05" fill="url(#gb)" stroke="#2e1404" stroke-width="0.7"/>
<circle cx="352.1" cy="400.9" r="3.05" fill="url(#gb)" stroke="#2e1404" stroke-width="0.7"/>
<circle cx="334.4" cy="400.0" r="3.05" fill="url(#gb)" stroke="#2e1404" stroke-width="0.7"/>
<circle cx="326.4" cy="405.7" r="3.05" fill="url(#gb)" stroke="#2e1404" stroke-width="0.7"/>
<circle cx="315.6" cy="415.9" r="3.05" fill="url(#gb)" stroke="#2e1404" stroke-width="0.7"/>
<circle cx="344.2" cy="419.0" r="3.05" fill="url(#gb)" stroke="#2e1404" stroke-width="0.7"/>
<circle cx="299.8" cy="422.2" r="3.05" fill="url(#gb)" stroke="#2e1404" stroke-width="0.7"/>
<circle cx="334.0" cy="426.7" r="3.05" fill="url(#gb)" stroke="#2e1404" stroke-width="0.7"/>
<circle cx="346.1" cy="428.6" r="3.05" fill="url(#gb)" stroke="#2e1404" stroke-width="0.7"/>
<circle cx="329.6" cy="433.7" r="3.05" fill="url(#gb)" stroke="#2e1404" stroke-width="0.7"/>
<circle cx="398.3" cy="408.9" r="3.05" fill="url(#gb)" stroke="#2e1404" stroke-width="0.7"/>
<circle cx="359.1" cy="441.9" r="3.05" fill="url(#gb)" stroke="#2e1404" stroke-width="0.7"/>
<circle cx="383.3" cy="451.4" r="3.05" fill="url(#gb)" stroke="#2e1404" stroke-width="0.7"/>
<circle cx="355.7" cy="459.2" r="3.05" fill="url(#gb)" stroke="#2e1404" stroke-width="0.7"/>
<circle cx="338.5" cy="462.4" r="3.05" fill="url(#gb)" stroke="#2e1404" stroke-width="0.7"/>
<circle cx="376.0" cy="497.5" r="3.05" fill="url(#gb)" stroke="#2e1404" stroke-width="0.7"/>
<circle cx="350.6" cy="497.5" r="3.05" fill="url(#gb)" stroke="#2e1404" stroke-width="0.7"/>
<circle cx="342.0" cy="518.6" r="3.05" fill="url(#gb)" stroke="#2e1404" stroke-width="0.7"/>
<circle cx="309.6" cy="559.1" r="3.05" fill="url(#gb)" stroke="#2e1404" stroke-width="0.7"/>
<circle cx="356.1" cy="559.9" r="3.05" fill="url(#gb)" stroke="#2e1404" stroke-width="0.7"/>
<circle cx="361.8" cy="561.8" r="3.05" fill="url(#gb)" stroke="#2e1404" stroke-width="0.7"/>
<circle cx="306.2" cy="574.8" r="3.05" fill="url(#gb)" stroke="#2e1404" stroke-width="0.7"/>
<circle cx="290.6" cy="577.6" r="3.05" fill="url(#gb)" stroke="#2e1404" stroke-width="0.7"/>
<circle cx="319.1" cy="346.9" r="3.05" fill="url(#gb)" stroke="#2e1404" stroke-width="0.7"/>
<circle cx="324.8" cy="347.5" r="3.05" fill="url(#gb)" stroke="#2e1404" stroke-width="0.7"/>
<circle cx="310.6" cy="351.0" r="3.05" fill="url(#gb)" stroke="#2e1404" stroke-width="0.7"/>
<circle cx="294.5" cy="353.9" r="3.05" fill="url(#gb)" stroke="#2e1404" stroke-width="0.7"/>
<circle cx="318.8" cy="356.4" r="3.05" fill="url(#gb)" stroke="#2e1404" stroke-width="0.7"/>
<circle cx="320.4" cy="367.2" r="3.05" fill="url(#gb)" stroke="#2e1404" stroke-width="0.7"/>
<circle cx="325.5" cy="372.9" r="3.05" fill="url(#gb)" stroke="#2e1404" stroke-width="0.7"/>
<circle cx="307.7" cy="390.2" r="3.05" fill="url(#gb)" stroke="#2e1404" stroke-width="0.7"/>
<circle cx="272.1" cy="402.9" r="3.05" fill="url(#gb)" stroke="#2e1404" stroke-width="0.7"/>
<circle cx="270.1" cy="157.0" r="3.05" fill="url(#gy)" stroke="#6a6a04" stroke-width="0.7"/>
<circle cx="253.0" cy="184.7" r="3.05" fill="url(#gy)" stroke="#6a6a04" stroke-width="0.7"/>
<circle cx="230.5" cy="187.5" r="3.05" fill="url(#gy)" stroke="#6a6a04" stroke-width="0.7"/>
<circle cx="253.9" cy="193.8" r="3.05" fill="url(#gy)" stroke="#6a6a04" stroke-width="0.7"/>
<circle cx="282.3" cy="192.3" r="3.05" fill="url(#gp)" stroke="#6e0a40" stroke-width="0.7"/>
<circle cx="236.6" cy="200.1" r="3.05" fill="url(#gp)" stroke="#6e0a40" stroke-width="0.7"/>
<circle cx="213.3" cy="206.6" r="3.05" fill="url(#gp)" stroke="#6e0a40" stroke-width="0.7"/>
<circle cx="252.0" cy="206.6" r="3.05" fill="url(#gy)" stroke="#6a6a04" stroke-width="0.7"/>
<circle cx="229.9" cy="209.0" r="3.05" fill="url(#gy)" stroke="#6a6a04" stroke-width="0.7"/>
<circle cx="232.4" cy="210.6" r="3.05" fill="url(#gp)" stroke="#6e0a40" stroke-width="0.7"/>
<circle cx="258.1" cy="219.5" r="3.05" fill="url(#gy)" stroke="#6a6a04" stroke-width="0.7"/>
<circle cx="239.0" cy="220.5" r="3.05" fill="url(#gp)" stroke="#6e0a40" stroke-width="0.7"/>
<circle cx="254.3" cy="220.9" r="3.05" fill="url(#gp)" stroke="#6e0a40" stroke-width="0.7"/>
<circle cx="264.8" cy="223.3" r="3.05" fill="url(#gp)" stroke="#6e0a40" stroke-width="0.7"/>
<circle cx="227.2" cy="225.2" r="3.05" fill="url(#gy)" stroke="#6a6a04" stroke-width="0.7"/>
<circle cx="222.3" cy="227.1" r="3.05" fill="url(#gp)" stroke="#6e0a40" stroke-width="0.7"/>
<circle cx="233.9" cy="223.9" r="3.05" fill="url(#gy)" stroke="#6a6a04" stroke-width="0.7"/>
<circle cx="241.9" cy="224.7" r="3.05" fill="url(#gy)" stroke="#6a6a04" stroke-width="0.7"/>
<circle cx="233.3" cy="230.4" r="3.05" fill="url(#gp)" stroke="#6e0a40" stroke-width="0.7"/>
<circle cx="241.9" cy="228.1" r="3.05" fill="url(#gp)" stroke="#6e0a40" stroke-width="0.7"/>
<circle cx="247.6" cy="231.0" r="3.05" fill="url(#gp)" stroke="#6e0a40" stroke-width="0.7"/>
<circle cx="258.1" cy="228.5" r="3.05" fill="url(#gp)" stroke="#6e0a40" stroke-width="0.7"/>
<circle cx="261.5" cy="228.1" r="3.05" fill="url(#gp)" stroke="#6e0a40" stroke-width="0.7"/>
<circle cx="274.7" cy="228.1" r="3.05" fill="url(#gp)" stroke="#6e0a40" stroke-width="0.7"/>
<circle cx="278.7" cy="229.0" r="3.05" fill="url(#gy)" stroke="#6a6a04" stroke-width="0.7"/>
<circle cx="282.9" cy="230.0" r="3.05" fill="url(#gp)" stroke="#6e0a40" stroke-width="0.7"/>
<circle cx="288.2" cy="227.1" r="3.05" fill="url(#gy)" stroke="#6a6a04" stroke-width="0.7"/>
<circle cx="292.4" cy="226.2" r="3.05" fill="url(#gy)" stroke="#6a6a04" stroke-width="0.7"/>
<circle cx="298.1" cy="226.2" r="3.05" fill="url(#gy)" stroke="#6a6a04" stroke-width="0.7"/>
<circle cx="275.2" cy="235.7" r="3.05" fill="url(#gp)" stroke="#6e0a40" stroke-width="0.7"/>
<circle cx="197.1" cy="234.7" r="3.05" fill="url(#gp)" stroke="#6e0a40" stroke-width="0.7"/>
<circle cx="229.5" cy="239.6" r="3.05" fill="url(#gy)" stroke="#6a6a04" stroke-width="0.7"/>
<circle cx="234.3" cy="237.9" r="3.05" fill="url(#gp)" stroke="#6e0a40" stroke-width="0.7"/>
<circle cx="254.3" cy="237.9" r="3.05" fill="url(#gp)" stroke="#6e0a40" stroke-width="0.7"/>
<circle cx="261.9" cy="238.0" r="3.05" fill="url(#gp)" stroke="#6e0a40" stroke-width="0.7"/>
<circle cx="268.0" cy="238.0" r="3.05" fill="url(#gy)" stroke="#6a6a04" stroke-width="0.7"/>
<circle cx="322.4" cy="237.7" r="3.05" fill="url(#gy)" stroke="#6a6a04" stroke-width="0.7"/>
<circle cx="218.7" cy="242.9" r="3.05" fill="url(#gp)" stroke="#6e0a40" stroke-width="0.7"/>
<circle cx="209.8" cy="247.1" r="3.05" fill="url(#gp)" stroke="#6e0a40" stroke-width="0.7"/>
<circle cx="197.5" cy="256.0" r="3.05" fill="url(#gp)" stroke="#6e0a40" stroke-width="0.7"/>
<circle cx="239.0" cy="242.6" r="3.05" fill="url(#gy)" stroke="#6a6a04" stroke-width="0.7"/>
<circle cx="243.5" cy="242.9" r="3.05" fill="url(#gy)" stroke="#6a6a04" stroke-width="0.7"/>
<circle cx="247.9" cy="243.6" r="3.05" fill="url(#gp)" stroke="#6e0a40" stroke-width="0.7"/>
<circle cx="248.6" cy="249.2" r="3.05" fill="url(#gy)" stroke="#6a6a04" stroke-width="0.7"/>
<circle cx="256.2" cy="249.0" r="3.05" fill="url(#gp)" stroke="#6e0a40" stroke-width="0.7"/>
<circle cx="231.4" cy="254.0" r="3.05" fill="url(#gy)" stroke="#6a6a04" stroke-width="0.7"/>
<circle cx="236.9" cy="255.1" r="3.05" fill="url(#gy)" stroke="#6a6a04" stroke-width="0.7"/>
<circle cx="224.4" cy="256.8" r="3.05" fill="url(#gy)" stroke="#6a6a04" stroke-width="0.7"/>
<circle cx="226.3" cy="261.4" r="3.05" fill="url(#gp)" stroke="#6e0a40" stroke-width="0.7"/>
<circle cx="235.6" cy="260.4" r="3.05" fill="url(#gp)" stroke="#6e0a40" stroke-width="0.7"/>
<circle cx="238.4" cy="265.5" r="3.05" fill="url(#gy)" stroke="#6a6a04" stroke-width="0.7"/>
<circle cx="235.9" cy="266.1" r="3.05" fill="url(#gp)" stroke="#6e0a40" stroke-width="0.7"/>
<circle cx="245.0" cy="254.0" r="3.05" fill="url(#gp)" stroke="#6e0a40" stroke-width="0.7"/>
<circle cx="251.7" cy="253.8" r="3.05" fill="url(#gp)" stroke="#6e0a40" stroke-width="0.7"/>
<circle cx="258.1" cy="252.8" r="3.05" fill="url(#gp)" stroke="#6e0a40" stroke-width="0.7"/>
<circle cx="254.9" cy="257.9" r="3.05" fill="url(#gy)" stroke="#6a6a04" stroke-width="0.7"/>
<circle cx="244.1" cy="258.5" r="3.05" fill="url(#gp)" stroke="#6e0a40" stroke-width="0.7"/>
<circle cx="249.2" cy="258.5" r="3.05" fill="url(#gp)" stroke="#6e0a40" stroke-width="0.7"/>
<circle cx="256.2" cy="261.7" r="3.05" fill="url(#gp)" stroke="#6e0a40" stroke-width="0.7"/>
<circle cx="247.3" cy="262.9" r="3.05" fill="url(#gp)" stroke="#6e0a40" stroke-width="0.7"/>
<circle cx="252.4" cy="265.5" r="3.05" fill="url(#gp)" stroke="#6e0a40" stroke-width="0.7"/>
<circle cx="257.5" cy="269.3" r="3.05" fill="url(#gp)" stroke="#6e0a40" stroke-width="0.7"/>
<circle cx="223.2" cy="268.3" r="3.05" fill="url(#gy)" stroke="#6a6a04" stroke-width="0.7"/>
<circle cx="236.9" cy="276.9" r="3.05" fill="url(#gp)" stroke="#6e0a40" stroke-width="0.7"/>
<circle cx="244.8" cy="278.2" r="3.05" fill="url(#gy)" stroke="#6a6a04" stroke-width="0.7"/>
<circle cx="246.0" cy="274.4" r="3.05" fill="url(#gp)" stroke="#6e0a40" stroke-width="0.7"/>
<circle cx="225.1" cy="283.9" r="3.05" fill="url(#gp)" stroke="#6e0a40" stroke-width="0.7"/>
<circle cx="233.1" cy="283.0" r="3.05" fill="url(#gy)" stroke="#6a6a04" stroke-width="0.7"/>
<circle cx="240.7" cy="284.8" r="3.05" fill="url(#gp)" stroke="#6e0a40" stroke-width="0.7"/>
<circle cx="248.6" cy="282.0" r="3.05" fill="url(#gp)" stroke="#6e0a40" stroke-width="0.7"/>
<circle cx="253.0" cy="285.8" r="3.05" fill="url(#gy)" stroke="#6a6a04" stroke-width="0.7"/>
<circle cx="258.7" cy="283.9" r="3.05" fill="url(#gp)" stroke="#6e0a40" stroke-width="0.7"/>
<circle cx="221.9" cy="289.9" r="3.05" fill="url(#gp)" stroke="#6e0a40" stroke-width="0.7"/>
<circle cx="230.8" cy="288.3" r="3.05" fill="url(#gp)" stroke="#6e0a40" stroke-width="0.7"/>
<circle cx="235.9" cy="287.7" r="3.05" fill="url(#gp)" stroke="#6e0a40" stroke-width="0.7"/>
<circle cx="230.2" cy="292.8" r="3.05" fill="url(#gp)" stroke="#6e0a40" stroke-width="0.7"/>
<circle cx="237.1" cy="292.8" r="3.05" fill="url(#gp)" stroke="#6e0a40" stroke-width="0.7"/>
<circle cx="246.0" cy="291.5" r="3.05" fill="url(#gp)" stroke="#6e0a40" stroke-width="0.7"/>
<circle cx="252.4" cy="290.9" r="3.05" fill="url(#gy)" stroke="#6a6a04" stroke-width="0.7"/>
<circle cx="252.4" cy="289.6" r="3.05" fill="url(#gp)" stroke="#6e0a40" stroke-width="0.7"/>
<circle cx="257.5" cy="292.1" r="3.05" fill="url(#gp)" stroke="#6e0a40" stroke-width="0.7"/>
<circle cx="202.9" cy="295.5" r="3.05" fill="url(#gp)" stroke="#6e0a40" stroke-width="0.7"/>
<circle cx="279.8" cy="240.9" r="3.05" fill="url(#gp)" stroke="#6e0a40" stroke-width="0.7"/>
<circle cx="270.2" cy="247.2" r="3.05" fill="url(#gp)" stroke="#6e0a40" stroke-width="0.7"/>
<circle cx="278.5" cy="249.1" r="3.05" fill="url(#gp)" stroke="#6e0a40" stroke-width="0.7"/>
<circle cx="270.9" cy="251.7" r="3.05" fill="url(#gp)" stroke="#6e0a40" stroke-width="0.7"/>
<circle cx="262.6" cy="253.6" r="3.05" fill="url(#gp)" stroke="#6e0a40" stroke-width="0.7"/>
<circle cx="270.2" cy="256.7" r="3.05" fill="url(#gp)" stroke="#6e0a40" stroke-width="0.7"/>
<circle cx="278.5" cy="255.5" r="3.05" fill="url(#gp)" stroke="#6e0a40" stroke-width="0.7"/>
<circle cx="266.4" cy="260.6" r="3.05" fill="url(#gp)" stroke="#6e0a40" stroke-width="0.7"/>
<circle cx="276.0" cy="261.2" r="3.05" fill="url(#gp)" stroke="#6e0a40" stroke-width="0.7"/>
<circle cx="272.1" cy="263.1" r="3.05" fill="url(#gy)" stroke="#6a6a04" stroke-width="0.7"/>
<circle cx="283.6" cy="262.5" r="3.05" fill="url(#gp)" stroke="#6e0a40" stroke-width="0.7"/>
<circle cx="295.0" cy="257.4" r="3.05" fill="url(#gy)" stroke="#6a6a04" stroke-width="0.7"/>
<circle cx="298.8" cy="261.2" r="3.05" fill="url(#gp)" stroke="#6e0a40" stroke-width="0.7"/>
<circle cx="312.8" cy="256.1" r="3.05" fill="url(#gy)" stroke="#6a6a04" stroke-width="0.7"/>
<circle cx="293.1" cy="263.1" r="3.05" fill="url(#gy)" stroke="#6a6a04" stroke-width="0.7"/>
<circle cx="294.4" cy="266.3" r="3.05" fill="url(#gp)" stroke="#6e0a40" stroke-width="0.7"/>
<circle cx="296.3" cy="268.8" r="3.05" fill="url(#gp)" stroke="#6e0a40" stroke-width="0.7"/>
<circle cx="321.0" cy="264.4" r="3.05" fill="url(#gy)" stroke="#6a6a04" stroke-width="0.7"/>
<circle cx="267.7" cy="271.3" r="3.05" fill="url(#gp)" stroke="#6e0a40" stroke-width="0.7"/>
<circle cx="271.5" cy="273.9" r="3.05" fill="url(#gy)" stroke="#6a6a04" stroke-width="0.7"/>
<circle cx="279.8" cy="270.1" r="3.05" fill="url(#gy)" stroke="#6a6a04" stroke-width="0.7"/>
<circle cx="284.2" cy="270.7" r="3.05" fill="url(#gy)" stroke="#6a6a04" stroke-width="0.7"/>
<circle cx="276.6" cy="277.7" r="3.05" fill="url(#gy)" stroke="#6a6a04" stroke-width="0.7"/>
<circle cx="287.4" cy="275.2" r="3.05" fill="url(#gp)" stroke="#6e0a40" stroke-width="0.7"/>
<circle cx="284.2" cy="277.1" r="3.05" fill="url(#gp)" stroke="#6e0a40" stroke-width="0.7"/>
<circle cx="288.0" cy="280.9" r="3.05" fill="url(#gp)" stroke="#6e0a40" stroke-width="0.7"/>
<circle cx="265.8" cy="275.8" r="3.05" fill="url(#gp)" stroke="#6e0a40" stroke-width="0.7"/>
<circle cx="260.7" cy="276.4" r="3.05" fill="url(#gy)" stroke="#6a6a04" stroke-width="0.7"/>
<circle cx="262.0" cy="280.9" r="3.05" fill="url(#gp)" stroke="#6e0a40" stroke-width="0.7"/>
<circle cx="265.8" cy="282.8" r="3.05" fill="url(#gp)" stroke="#6e0a40" stroke-width="0.7"/>
<circle cx="299.4" cy="277.7" r="3.05" fill="url(#gy)" stroke="#6a6a04" stroke-width="0.7"/>
<circle cx="303.3" cy="276.4" r="3.05" fill="url(#gp)" stroke="#6e0a40" stroke-width="0.7"/>
<circle cx="307.1" cy="279.0" r="3.05" fill="url(#gp)" stroke="#6e0a40" stroke-width="0.7"/>
<circle cx="309.0" cy="274.5" r="3.05" fill="url(#gy)" stroke="#6a6a04" stroke-width="0.7"/>
<circle cx="293.1" cy="282.1" r="3.05" fill="url(#gy)" stroke="#6a6a04" stroke-width="0.7"/>
<circle cx="299.4" cy="283.4" r="3.05" fill="url(#gp)" stroke="#6e0a40" stroke-width="0.7"/>
<circle cx="372.5" cy="275.5" r="3.05" fill="url(#gy)" stroke="#6a6a04" stroke-width="0.7"/>
<circle cx="212.4" cy="302.7" r="3.05" fill="url(#gp)" stroke="#6e0a40" stroke-width="0.7"/>
<circle cx="222.5" cy="297.9" r="3.05" fill="url(#gp)" stroke="#6e0a40" stroke-width="0.7"/>
<circle cx="226.3" cy="298.9" r="3.05" fill="url(#gy)" stroke="#6a6a04" stroke-width="0.7"/>
<circle cx="233.3" cy="298.9" r="3.05" fill="url(#gy)" stroke="#6a6a04" stroke-width="0.7"/>
<circle cx="236.5" cy="297.6" r="3.05" fill="url(#gp)" stroke="#6e0a40" stroke-width="0.7"/>
<circle cx="238.4" cy="304.6" r="3.05" fill="url(#gp)" stroke="#6e0a40" stroke-width="0.7"/>
<circle cx="230.8" cy="311.0" r="3.05" fill="url(#gp)" stroke="#6e0a40" stroke-width="0.7"/>
<circle cx="236.5" cy="311.3" r="3.05" fill="url(#gp)" stroke="#6e0a40" stroke-width="0.7"/>
<circle cx="242.2" cy="312.2" r="3.05" fill="url(#gp)" stroke="#6e0a40" stroke-width="0.7"/>
<circle cx="249.2" cy="304.0" r="3.05" fill="url(#gy)" stroke="#6a6a04" stroke-width="0.7"/>
<circle cx="251.1" cy="300.2" r="3.05" fill="url(#gp)" stroke="#6e0a40" stroke-width="0.7"/>
<circle cx="254.9" cy="300.8" r="3.05" fill="url(#gp)" stroke="#6e0a40" stroke-width="0.7"/>
<circle cx="257.5" cy="305.2" r="3.05" fill="url(#gp)" stroke="#6e0a40" stroke-width="0.7"/>
<circle cx="253.7" cy="308.4" r="3.05" fill="url(#gp)" stroke="#6e0a40" stroke-width="0.7"/>
<circle cx="251.1" cy="311.6" r="3.05" fill="url(#gy)" stroke="#6a6a04" stroke-width="0.7"/>
<circle cx="256.2" cy="314.1" r="3.05" fill="url(#gp)" stroke="#6e0a40" stroke-width="0.7"/>
<circle cx="227.6" cy="319.2" r="3.05" fill="url(#gp)" stroke="#6e0a40" stroke-width="0.7"/>
<circle cx="234.6" cy="318.6" r="3.05" fill="url(#gp)" stroke="#6e0a40" stroke-width="0.7"/>
<circle cx="251.1" cy="317.3" r="3.05" fill="url(#gp)" stroke="#6e0a40" stroke-width="0.7"/>
<circle cx="257.5" cy="319.2" r="3.05" fill="url(#gp)" stroke="#6e0a40" stroke-width="0.7"/>
<circle cx="235.9" cy="321.7" r="3.05" fill="url(#gp)" stroke="#6e0a40" stroke-width="0.7"/>
<circle cx="241.0" cy="323.7" r="3.05" fill="url(#gy)" stroke="#6a6a04" stroke-width="0.7"/>
<circle cx="245.4" cy="325.6" r="3.05" fill="url(#gp)" stroke="#6e0a40" stroke-width="0.7"/>
<circle cx="252.4" cy="323.7" r="3.05" fill="url(#gp)" stroke="#6e0a40" stroke-width="0.7"/>
<circle cx="227.0" cy="325.6" r="3.05" fill="url(#gp)" stroke="#6e0a40" stroke-width="0.7"/>
<circle cx="230.2" cy="328.7" r="3.05" fill="url(#gy)" stroke="#6a6a04" stroke-width="0.7"/>
<circle cx="224.4" cy="331.9" r="3.05" fill="url(#gy)" stroke="#6a6a04" stroke-width="0.7"/>
<circle cx="236.5" cy="328.7" r="3.05" fill="url(#gp)" stroke="#6e0a40" stroke-width="0.7"/>
<circle cx="231.4" cy="333.8" r="3.05" fill="url(#gp)" stroke="#6e0a40" stroke-width="0.7"/>
<circle cx="241.0" cy="334.4" r="3.05" fill="url(#gp)" stroke="#6e0a40" stroke-width="0.7"/>
<circle cx="249.8" cy="330.6" r="3.05" fill="url(#gp)" stroke="#6e0a40" stroke-width="0.7"/>
<circle cx="253.7" cy="333.2" r="3.05" fill="url(#gy)" stroke="#6a6a04" stroke-width="0.7"/>
<circle cx="256.2" cy="330.0" r="3.05" fill="url(#gp)" stroke="#6e0a40" stroke-width="0.7"/>
<circle cx="248.6" cy="337.0" r="3.05" fill="url(#gy)" stroke="#6a6a04" stroke-width="0.7"/>
<circle cx="257.5" cy="335.7" r="3.05" fill="url(#gp)" stroke="#6e0a40" stroke-width="0.7"/>
<circle cx="216.2" cy="338.5" r="3.05" fill="url(#gy)" stroke="#6a6a04" stroke-width="0.7"/>
<circle cx="234.6" cy="337.6" r="3.05" fill="url(#gy)" stroke="#6a6a04" stroke-width="0.7"/>
<circle cx="243.5" cy="340.2" r="3.05" fill="url(#gp)" stroke="#6e0a40" stroke-width="0.7"/>
<circle cx="239.7" cy="342.1" r="3.05" fill="url(#gy)" stroke="#6a6a04" stroke-width="0.7"/>
<circle cx="223.2" cy="343.1" r="3.05" fill="url(#gp)" stroke="#6e0a40" stroke-width="0.7"/>
<circle cx="225.7" cy="344.0" r="3.05" fill="url(#gy)" stroke="#6a6a04" stroke-width="0.7"/>
<circle cx="228.9" cy="345.9" r="3.05" fill="url(#gp)" stroke="#6e0a40" stroke-width="0.7"/>
<circle cx="249.2" cy="344.6" r="3.05" fill="url(#gp)" stroke="#6e0a40" stroke-width="0.7"/>
<circle cx="256.2" cy="343.3" r="3.05" fill="url(#gp)" stroke="#6e0a40" stroke-width="0.7"/>
<circle cx="242.2" cy="347.8" r="3.05" fill="url(#gp)" stroke="#6e0a40" stroke-width="0.7"/>
<circle cx="251.1" cy="348.4" r="3.05" fill="url(#gp)" stroke="#6e0a40" stroke-width="0.7"/>
<circle cx="265.2" cy="285.6" r="3.05" fill="url(#gp)" stroke="#6e0a40" stroke-width="0.7"/>
<circle cx="281.7" cy="286.9" r="3.05" fill="url(#gp)" stroke="#6e0a40" stroke-width="0.7"/>
<circle cx="292.5" cy="286.3" r="3.05" fill="url(#gy)" stroke="#6a6a04" stroke-width="0.7"/>
<circle cx="298.8" cy="286.3" r="3.05" fill="url(#gp)" stroke="#6e0a40" stroke-width="0.7"/>
<circle cx="303.3" cy="290.1" r="3.05" fill="url(#gy)" stroke="#6a6a04" stroke-width="0.7"/>
<circle cx="274.0" cy="290.1" r="3.05" fill="url(#gp)" stroke="#6e0a40" stroke-width="0.7"/>
<circle cx="286.7" cy="290.1" r="3.05" fill="url(#gp)" stroke="#6e0a40" stroke-width="0.7"/>
<circle cx="317.9" cy="290.1" r="3.05" fill="url(#gy)" stroke="#6a6a04" stroke-width="0.7"/>
<circle cx="260.7" cy="292.6" r="3.05" fill="url(#gp)" stroke="#6e0a40" stroke-width="0.7"/>
<circle cx="266.4" cy="294.5" r="3.05" fill="url(#gp)" stroke="#6e0a40" stroke-width="0.7"/>
<circle cx="277.9" cy="292.6" r="3.05" fill="url(#gy)" stroke="#6a6a04" stroke-width="0.7"/>
<circle cx="279.8" cy="296.4" r="3.05" fill="url(#gy)" stroke="#6a6a04" stroke-width="0.7"/>
<circle cx="285.5" cy="296.4" r="3.05" fill="url(#gp)" stroke="#6e0a40" stroke-width="0.7"/>
<circle cx="290.6" cy="294.5" r="3.05" fill="url(#gp)" stroke="#6e0a40" stroke-width="0.7"/>
<circle cx="284.8" cy="297.7" r="3.05" fill="url(#gy)" stroke="#6a6a04" stroke-width="0.7"/>
<circle cx="298.2" cy="297.7" r="3.05" fill="url(#gp)" stroke="#6e0a40" stroke-width="0.7"/>
<circle cx="305.8" cy="297.7" r="3.05" fill="url(#gy)" stroke="#6a6a04" stroke-width="0.7"/>
<circle cx="262.6" cy="298.3" r="3.05" fill="url(#gp)" stroke="#6e0a40" stroke-width="0.7"/>
<circle cx="274.0" cy="299.6" r="3.05" fill="url(#gp)" stroke="#6e0a40" stroke-width="0.7"/>
<circle cx="272.1" cy="302.8" r="3.05" fill="url(#gp)" stroke="#6e0a40" stroke-width="0.7"/>
<circle cx="267.1" cy="304.0" r="3.05" fill="url(#gp)" stroke="#6e0a40" stroke-width="0.7"/>
<circle cx="287.4" cy="301.5" r="3.05" fill="url(#gp)" stroke="#6e0a40" stroke-width="0.7"/>
<circle cx="289.3" cy="305.3" r="3.05" fill="url(#gp)" stroke="#6e0a40" stroke-width="0.7"/>
<circle cx="278.5" cy="303.4" r="3.05" fill="url(#gy)" stroke="#6a6a04" stroke-width="0.7"/>
<circle cx="307.1" cy="304.7" r="3.05" fill="url(#gy)" stroke="#6a6a04" stroke-width="0.7"/>
<circle cx="325.5" cy="306.6" r="3.05" fill="url(#gp)" stroke="#6e0a40" stroke-width="0.7"/>
<circle cx="261.3" cy="304.0" r="3.05" fill="url(#gp)" stroke="#6e0a40" stroke-width="0.7"/>
<circle cx="270.9" cy="307.2" r="3.05" fill="url(#gy)" stroke="#6a6a04" stroke-width="0.7"/>
<circle cx="270.2" cy="308.5" r="3.05" fill="url(#gp)" stroke="#6e0a40" stroke-width="0.7"/>
<circle cx="276.6" cy="309.8" r="3.05" fill="url(#gp)" stroke="#6e0a40" stroke-width="0.7"/>
<circle cx="286.1" cy="309.1" r="3.05" fill="url(#gp)" stroke="#6e0a40" stroke-width="0.7"/>
<circle cx="291.2" cy="309.1" r="3.05" fill="url(#gp)" stroke="#6e0a40" stroke-width="0.7"/>
<circle cx="302.0" cy="311.7" r="3.05" fill="url(#gp)" stroke="#6e0a40" stroke-width="0.7"/>
<circle cx="308.3" cy="311.0" r="3.05" fill="url(#gp)" stroke="#6e0a40" stroke-width="0.7"/>
<circle cx="262.6" cy="313.6" r="3.05" fill="url(#gp)" stroke="#6e0a40" stroke-width="0.7"/>
<circle cx="260.1" cy="315.5" r="3.05" fill="url(#gp)" stroke="#6e0a40" stroke-width="0.7"/>
<circle cx="274.0" cy="314.8" r="3.05" fill="url(#gp)" stroke="#6e0a40" stroke-width="0.7"/>
<circle cx="279.1" cy="315.5" r="3.05" fill="url(#gp)" stroke="#6e0a40" stroke-width="0.7"/>
<circle cx="283.6" cy="314.2" r="3.05" fill="url(#gp)" stroke="#6e0a40" stroke-width="0.7"/>
<circle cx="288.0" cy="314.2" r="3.05" fill="url(#gp)" stroke="#6e0a40" stroke-width="0.7"/>
<circle cx="292.5" cy="314.8" r="3.05" fill="url(#gp)" stroke="#6e0a40" stroke-width="0.7"/>
<circle cx="296.3" cy="312.3" r="3.05" fill="url(#gy)" stroke="#6a6a04" stroke-width="0.7"/>
<circle cx="298.2" cy="318.0" r="3.05" fill="url(#gp)" stroke="#6e0a40" stroke-width="0.7"/>
<circle cx="324.8" cy="316.7" r="3.05" fill="url(#gy)" stroke="#6a6a04" stroke-width="0.7"/>
<circle cx="320.4" cy="316.1" r="3.05" fill="url(#gp)" stroke="#6e0a40" stroke-width="0.7"/>
<circle cx="267.1" cy="316.7" r="3.05" fill="url(#gp)" stroke="#6e0a40" stroke-width="0.7"/>
<circle cx="267.7" cy="321.2" r="3.05" fill="url(#gy)" stroke="#6a6a04" stroke-width="0.7"/>
<circle cx="263.3" cy="319.3" r="3.05" fill="url(#gp)" stroke="#6e0a40" stroke-width="0.7"/>
<circle cx="274.7" cy="322.5" r="3.05" fill="url(#gp)" stroke="#6e0a40" stroke-width="0.7"/>
<circle cx="270.2" cy="324.4" r="3.05" fill="url(#gp)" stroke="#6e0a40" stroke-width="0.7"/>
<circle cx="280.4" cy="325.6" r="3.05" fill="url(#gp)" stroke="#6e0a40" stroke-width="0.7"/>
<circle cx="291.8" cy="321.8" r="3.05" fill="url(#gy)" stroke="#6a6a04" stroke-width="0.7"/>
<circle cx="287.4" cy="326.9" r="3.05" fill="url(#gp)" stroke="#6e0a40" stroke-width="0.7"/>
<circle cx="295.0" cy="325.0" r="3.05" fill="url(#gp)" stroke="#6e0a40" stroke-width="0.7"/>
<circle cx="302.0" cy="323.1" r="3.05" fill="url(#gp)" stroke="#6e0a40" stroke-width="0.7"/>
<circle cx="307.1" cy="323.7" r="3.05" fill="url(#gp)" stroke="#6e0a40" stroke-width="0.7"/>
<circle cx="314.7" cy="324.4" r="3.05" fill="url(#gp)" stroke="#6e0a40" stroke-width="0.7"/>
<circle cx="310.9" cy="320.6" r="3.05" fill="url(#gp)" stroke="#6e0a40" stroke-width="0.7"/>
<circle cx="261.3" cy="329.4" r="3.05" fill="url(#gp)" stroke="#6e0a40" stroke-width="0.7"/>
<circle cx="261.3" cy="333.9" r="3.05" fill="url(#gy)" stroke="#6a6a04" stroke-width="0.7"/>
<circle cx="267.1" cy="328.2" r="3.05" fill="url(#gp)" stroke="#6e0a40" stroke-width="0.7"/>
<circle cx="272.1" cy="332.0" r="3.05" fill="url(#gp)" stroke="#6e0a40" stroke-width="0.7"/>
<circle cx="277.2" cy="334.5" r="3.05" fill="url(#gp)" stroke="#6e0a40" stroke-width="0.7"/>
<circle cx="281.7" cy="330.7" r="3.05" fill="url(#gy)" stroke="#6a6a04" stroke-width="0.7"/>
<circle cx="286.7" cy="332.0" r="3.05" fill="url(#gp)" stroke="#6e0a40" stroke-width="0.7"/>
<circle cx="293.1" cy="329.4" r="3.05" fill="url(#gp)" stroke="#6e0a40" stroke-width="0.7"/>
<circle cx="299.4" cy="328.8" r="3.05" fill="url(#gp)" stroke="#6e0a40" stroke-width="0.7"/>
<circle cx="305.2" cy="330.1" r="3.05" fill="url(#gp)" stroke="#6e0a40" stroke-width="0.7"/>
<circle cx="310.2" cy="329.4" r="3.05" fill="url(#gp)" stroke="#6e0a40" stroke-width="0.7"/>
<circle cx="320.4" cy="330.1" r="3.05" fill="url(#gp)" stroke="#6e0a40" stroke-width="0.7"/>
<circle cx="313.4" cy="332.0" r="3.05" fill="url(#gy)" stroke="#6a6a04" stroke-width="0.7"/>
<circle cx="304.5" cy="335.8" r="3.05" fill="url(#gy)" stroke="#6a6a04" stroke-width="0.7"/>
<circle cx="307.1" cy="337.1" r="3.05" fill="url(#gp)" stroke="#6e0a40" stroke-width="0.7"/>
<circle cx="264.5" cy="339.6" r="3.05" fill="url(#gy)" stroke="#6a6a04" stroke-width="0.7"/>
<circle cx="271.5" cy="337.7" r="3.05" fill="url(#gp)" stroke="#6e0a40" stroke-width="0.7"/>
<circle cx="282.3" cy="338.3" r="3.05" fill="url(#gy)" stroke="#6a6a04" stroke-width="0.7"/>
<circle cx="276.0" cy="342.8" r="3.05" fill="url(#gp)" stroke="#6e0a40" stroke-width="0.7"/>
<circle cx="289.3" cy="337.1" r="3.05" fill="url(#gp)" stroke="#6e0a40" stroke-width="0.7"/>
<circle cx="291.8" cy="340.9" r="3.05" fill="url(#gp)" stroke="#6e0a40" stroke-width="0.7"/>
<circle cx="296.9" cy="340.9" r="3.05" fill="url(#gy)" stroke="#6a6a04" stroke-width="0.7"/>
<circle cx="310.9" cy="339.6" r="3.05" fill="url(#gy)" stroke="#6a6a04" stroke-width="0.7"/>
<circle cx="321.0" cy="343.4" r="3.05" fill="url(#gp)" stroke="#6e0a40" stroke-width="0.7"/>
<circle cx="262.6" cy="342.8" r="3.05" fill="url(#gp)" stroke="#6e0a40" stroke-width="0.7"/>
<circle cx="349.0" cy="295.8" r="3.05" fill="url(#gy)" stroke="#6a6a04" stroke-width="0.7"/>
<circle cx="239.0" cy="350.7" r="3.05" fill="url(#gp)" stroke="#6e0a40" stroke-width="0.7"/>
<circle cx="243.5" cy="350.1" r="3.05" fill="url(#gp)" stroke="#6e0a40" stroke-width="0.7"/>
<circle cx="249.8" cy="353.3" r="3.05" fill="url(#gy)" stroke="#6a6a04" stroke-width="0.7"/>
<circle cx="253.7" cy="352.6" r="3.05" fill="url(#gp)" stroke="#6e0a40" stroke-width="0.7"/>
<circle cx="228.5" cy="355.2" r="3.05" fill="url(#gy)" stroke="#6a6a04" stroke-width="0.7"/>
<circle cx="234.3" cy="357.1" r="3.05" fill="url(#gp)" stroke="#6e0a40" stroke-width="0.7"/>
<circle cx="213.0" cy="361.8" r="3.05" fill="url(#gp)" stroke="#6e0a40" stroke-width="0.7"/>
<circle cx="219.4" cy="360.2" r="3.05" fill="url(#gp)" stroke="#6e0a40" stroke-width="0.7"/>
<circle cx="225.1" cy="359.6" r="3.05" fill="url(#gp)" stroke="#6e0a40" stroke-width="0.7"/>
<circle cx="241.6" cy="365.3" r="3.05" fill="url(#gp)" stroke="#6e0a40" stroke-width="0.7"/>
<circle cx="239.7" cy="369.1" r="3.05" fill="url(#gp)" stroke="#6e0a40" stroke-width="0.7"/>
<circle cx="249.2" cy="361.5" r="3.05" fill="url(#gp)" stroke="#6e0a40" stroke-width="0.7"/>
<circle cx="248.6" cy="365.3" r="3.05" fill="url(#gy)" stroke="#6a6a04" stroke-width="0.7"/>
<circle cx="249.8" cy="369.1" r="3.05" fill="url(#gp)" stroke="#6e0a40" stroke-width="0.7"/>
<circle cx="240.7" cy="376.1" r="3.05" fill="url(#gy)" stroke="#6a6a04" stroke-width="0.7"/>
<circle cx="244.1" cy="379.0" r="3.05" fill="url(#gy)" stroke="#6a6a04" stroke-width="0.7"/>
<circle cx="251.1" cy="380.6" r="3.05" fill="url(#gy)" stroke="#6a6a04" stroke-width="0.7"/>
<circle cx="253.0" cy="378.7" r="3.05" fill="url(#gp)" stroke="#6e0a40" stroke-width="0.7"/>
<circle cx="247.3" cy="402.1" r="3.05" fill="url(#gp)" stroke="#6e0a40" stroke-width="0.7"/>
<circle cx="251.1" cy="403.4" r="3.05" fill="url(#gy)" stroke="#6a6a04" stroke-width="0.7"/>
<circle cx="336.9" cy="350.7" r="3.05" fill="url(#gy)" stroke="#6a6a04" stroke-width="0.7"/>
<circle cx="344.5" cy="352.0" r="3.05" fill="url(#gy)" stroke="#6a6a04" stroke-width="0.7"/>
<circle cx="356.0" cy="355.2" r="3.05" fill="url(#gy)" stroke="#6a6a04" stroke-width="0.7"/>
<circle cx="337.8" cy="366.6" r="3.05" fill="url(#gy)" stroke="#6a6a04" stroke-width="0.7"/>
<circle cx="345.2" cy="375.5" r="3.05" fill="url(#gp)" stroke="#6e0a40" stroke-width="0.7"/>
<circle cx="350.2" cy="371.7" r="3.05" fill="url(#gy)" stroke="#6a6a04" stroke-width="0.7"/>
<circle cx="337.5" cy="379.9" r="3.05" fill="url(#gp)" stroke="#6e0a40" stroke-width="0.7"/>
<circle cx="349.6" cy="379.3" r="3.05" fill="url(#gp)" stroke="#6e0a40" stroke-width="0.7"/>
<circle cx="352.8" cy="384.4" r="3.05" fill="url(#gy)" stroke="#6a6a04" stroke-width="0.7"/>
<circle cx="345.8" cy="385.6" r="3.05" fill="url(#gy)" stroke="#6a6a04" stroke-width="0.7"/>
<circle cx="342.6" cy="386.9" r="3.05" fill="url(#gp)" stroke="#6e0a40" stroke-width="0.7"/>
<circle cx="343.9" cy="391.3" r="3.05" fill="url(#gp)" stroke="#6e0a40" stroke-width="0.7"/>
<circle cx="345.8" cy="400.2" r="3.05" fill="url(#gy)" stroke="#6a6a04" stroke-width="0.7"/>
<circle cx="358.5" cy="402.8" r="3.05" fill="url(#gy)" stroke="#6a6a04" stroke-width="0.7"/>
<circle cx="237.1" cy="409.9" r="3.05" fill="url(#gp)" stroke="#6e0a40" stroke-width="0.7"/>
<circle cx="260.2" cy="404.6" r="3.05" fill="url(#gp)" stroke="#6e0a40" stroke-width="0.7"/>
<circle cx="266.0" cy="406.3" r="3.05" fill="url(#gp)" stroke="#6e0a40" stroke-width="0.7"/>
<circle cx="269.2" cy="405.7" r="3.05" fill="url(#gp)" stroke="#6e0a40" stroke-width="0.7"/>
<circle cx="273.7" cy="409.5" r="3.05" fill="url(#gy)" stroke="#6a6a04" stroke-width="0.7"/>
<circle cx="277.5" cy="412.7" r="3.05" fill="url(#gy)" stroke="#6a6a04" stroke-width="0.7"/>
<circle cx="261.6" cy="412.7" r="3.05" fill="url(#gp)" stroke="#6e0a40" stroke-width="0.7"/>
<circle cx="266.7" cy="411.4" r="3.05" fill="url(#gp)" stroke="#6e0a40" stroke-width="0.7"/>
<circle cx="258.7" cy="417.8" r="3.05" fill="url(#gp)" stroke="#6e0a40" stroke-width="0.7"/>
<circle cx="266.7" cy="417.8" r="3.05" fill="url(#gp)" stroke="#6e0a40" stroke-width="0.7"/>
<circle cx="278.7" cy="419.0" r="3.05" fill="url(#gy)" stroke="#6a6a04" stroke-width="0.7"/>
<circle cx="258.4" cy="422.9" r="3.05" fill="url(#gy)" stroke="#6a6a04" stroke-width="0.7"/>
<circle cx="251.8" cy="424.8" r="3.05" fill="url(#gp)" stroke="#6e0a40" stroke-width="0.7"/>
<circle cx="263.5" cy="424.8" r="3.05" fill="url(#gp)" stroke="#6e0a40" stroke-width="0.7"/>
<circle cx="276.2" cy="424.8" r="3.05" fill="url(#gy)" stroke="#6a6a04" stroke-width="0.7"/>
<circle cx="279.4" cy="423.5" r="3.05" fill="url(#gp)" stroke="#6e0a40" stroke-width="0.7"/>
<circle cx="250.2" cy="430.5" r="3.05" fill="url(#gy)" stroke="#6a6a04" stroke-width="0.7"/>
<circle cx="265.4" cy="430.5" r="3.05" fill="url(#gp)" stroke="#6e0a40" stroke-width="0.7"/>
<circle cx="271.1" cy="433.0" r="3.05" fill="url(#gp)" stroke="#6e0a40" stroke-width="0.7"/>
<circle cx="273.7" cy="434.9" r="3.05" fill="url(#gp)" stroke="#6e0a40" stroke-width="0.7"/>
<circle cx="278.8" cy="431.1" r="3.05" fill="url(#gp)" stroke="#6e0a40" stroke-width="0.7"/>
<circle cx="279.4" cy="442.2" r="3.05" fill="url(#gy)" stroke="#6a6a04" stroke-width="0.7"/>
<circle cx="273.0" cy="443.8" r="3.05" fill="url(#gp)" stroke="#6e0a40" stroke-width="0.7"/>
<circle cx="276.2" cy="445.7" r="3.05" fill="url(#gp)" stroke="#6e0a40" stroke-width="0.7"/>
<circle cx="262.9" cy="453.3" r="3.05" fill="url(#gy)" stroke="#6a6a04" stroke-width="0.7"/>
<circle cx="265.4" cy="453.3" r="3.05" fill="url(#gp)" stroke="#6e0a40" stroke-width="0.7"/>
<circle cx="282.6" cy="406.3" r="3.05" fill="url(#gp)" stroke="#6e0a40" stroke-width="0.7"/>
<circle cx="291.5" cy="407.6" r="3.05" fill="url(#gp)" stroke="#6e0a40" stroke-width="0.7"/>
<circle cx="303.6" cy="408.9" r="3.05" fill="url(#gp)" stroke="#6e0a40" stroke-width="0.7"/>
<circle cx="314.4" cy="405.7" r="3.05" fill="url(#gp)" stroke="#6e0a40" stroke-width="0.7"/>
<circle cx="319.4" cy="406.3" r="3.05" fill="url(#gp)" stroke="#6e0a40" stroke-width="0.7"/>
<circle cx="330.9" cy="409.5" r="3.05" fill="url(#gp)" stroke="#6e0a40" stroke-width="0.7"/>
<circle cx="337.2" cy="408.9" r="3.05" fill="url(#gp)" stroke="#6e0a40" stroke-width="0.7"/>
<circle cx="342.3" cy="412.7" r="3.05" fill="url(#gp)" stroke="#6e0a40" stroke-width="0.7"/>
<circle cx="284.5" cy="412.7" r="3.05" fill="url(#gp)" stroke="#6e0a40" stroke-width="0.7"/>
<circle cx="292.1" cy="410.2" r="3.05" fill="url(#gp)" stroke="#6e0a40" stroke-width="0.7"/>
<circle cx="310.6" cy="414.6" r="3.05" fill="url(#gp)" stroke="#6e0a40" stroke-width="0.7"/>
<circle cx="328.3" cy="416.5" r="3.05" fill="url(#gy)" stroke="#6a6a04" stroke-width="0.7"/>
<circle cx="333.4" cy="417.1" r="3.05" fill="url(#gy)" stroke="#6a6a04" stroke-width="0.7"/>
<circle cx="351.8" cy="421.6" r="3.05" fill="url(#gp)" stroke="#6e0a40" stroke-width="0.7"/>
<circle cx="290.2" cy="423.5" r="3.05" fill="url(#gp)" stroke="#6e0a40" stroke-width="0.7"/>
<circle cx="287.7" cy="417.8" r="3.05" fill="url(#gp)" stroke="#6e0a40" stroke-width="0.7"/>
<circle cx="296.6" cy="415.9" r="3.05" fill="url(#gp)" stroke="#6e0a40" stroke-width="0.7"/>
<circle cx="304.8" cy="417.8" r="3.05" fill="url(#gp)" stroke="#6e0a40" stroke-width="0.7"/>
<circle cx="302.3" cy="426.7" r="3.05" fill="url(#gp)" stroke="#6e0a40" stroke-width="0.7"/>
<circle cx="308.7" cy="428.6" r="3.05" fill="url(#gp)" stroke="#6e0a40" stroke-width="0.7"/>
<circle cx="314.4" cy="425.4" r="3.05" fill="url(#gp)" stroke="#6e0a40" stroke-width="0.7"/>
<circle cx="319.4" cy="422.2" r="3.05" fill="url(#gp)" stroke="#6e0a40" stroke-width="0.7"/>
<circle cx="322.6" cy="427.3" r="3.05" fill="url(#gp)" stroke="#6e0a40" stroke-width="0.7"/>
<circle cx="324.5" cy="421.6" r="3.05" fill="url(#gy)" stroke="#6a6a04" stroke-width="0.7"/>
<circle cx="330.9" cy="424.1" r="3.05" fill="url(#gp)" stroke="#6e0a40" stroke-width="0.7"/>
<circle cx="339.8" cy="424.8" r="3.05" fill="url(#gp)" stroke="#6e0a40" stroke-width="0.7"/>
<circle cx="339.1" cy="429.2" r="3.05" fill="url(#gp)" stroke="#6e0a40" stroke-width="0.7"/>
<circle cx="351.2" cy="430.5" r="3.05" fill="url(#gy)" stroke="#6a6a04" stroke-width="0.7"/>
<circle cx="289.0" cy="431.1" r="3.05" fill="url(#gp)" stroke="#6e0a40" stroke-width="0.7"/>
<circle cx="296.6" cy="429.8" r="3.05" fill="url(#gy)" stroke="#6a6a04" stroke-width="0.7"/>
<circle cx="303.6" cy="430.5" r="3.05" fill="url(#gp)" stroke="#6e0a40" stroke-width="0.7"/>
<circle cx="311.8" cy="431.1" r="3.05" fill="url(#gp)" stroke="#6e0a40" stroke-width="0.7"/>
<circle cx="315.6" cy="434.3" r="3.05" fill="url(#gp)" stroke="#6e0a40" stroke-width="0.7"/>
<circle cx="318.8" cy="430.5" r="3.05" fill="url(#gp)" stroke="#6e0a40" stroke-width="0.7"/>
<circle cx="335.3" cy="434.3" r="3.05" fill="url(#gp)" stroke="#6e0a40" stroke-width="0.7"/>
<circle cx="342.3" cy="433.0" r="3.05" fill="url(#gy)" stroke="#6a6a04" stroke-width="0.7"/>
<circle cx="347.4" cy="433.7" r="3.05" fill="url(#gy)" stroke="#6a6a04" stroke-width="0.7"/>
<circle cx="280.7" cy="438.1" r="3.05" fill="url(#gy)" stroke="#6a6a04" stroke-width="0.7"/>
<circle cx="289.6" cy="438.1" r="3.05" fill="url(#gp)" stroke="#6e0a40" stroke-width="0.7"/>
<circle cx="301.0" cy="437.5" r="3.05" fill="url(#gp)" stroke="#6e0a40" stroke-width="0.7"/>
<circle cx="310.6" cy="438.1" r="3.05" fill="url(#gp)" stroke="#6e0a40" stroke-width="0.7"/>
<circle cx="314.4" cy="442.5" r="3.05" fill="url(#gy)" stroke="#6a6a04" stroke-width="0.7"/>
<circle cx="320.1" cy="436.2" r="3.05" fill="url(#gp)" stroke="#6e0a40" stroke-width="0.7"/>
<circle cx="326.4" cy="439.4" r="3.05" fill="url(#gp)" stroke="#6e0a40" stroke-width="0.7"/>
<circle cx="332.1" cy="438.7" r="3.05" fill="url(#gy)" stroke="#6a6a04" stroke-width="0.7"/>
<circle cx="343.6" cy="438.1" r="3.05" fill="url(#gp)" stroke="#6e0a40" stroke-width="0.7"/>
<circle cx="349.3" cy="438.1" r="3.05" fill="url(#gp)" stroke="#6e0a40" stroke-width="0.7"/>
<circle cx="295.3" cy="444.4" r="3.05" fill="url(#gp)" stroke="#6e0a40" stroke-width="0.7"/>
<circle cx="304.2" cy="446.3" r="3.05" fill="url(#gy)" stroke="#6a6a04" stroke-width="0.7"/>
<circle cx="318.8" cy="447.0" r="3.05" fill="url(#gp)" stroke="#6e0a40" stroke-width="0.7"/>
<circle cx="323.3" cy="444.4" r="3.05" fill="url(#gp)" stroke="#6e0a40" stroke-width="0.7"/>
<circle cx="331.5" cy="447.0" r="3.05" fill="url(#gp)" stroke="#6e0a40" stroke-width="0.7"/>
<circle cx="334.7" cy="444.4" r="3.05" fill="url(#gp)" stroke="#6e0a40" stroke-width="0.7"/>
<circle cx="343.6" cy="448.9" r="3.05" fill="url(#gp)" stroke="#6e0a40" stroke-width="0.7"/>
<circle cx="352.5" cy="448.3" r="3.05" fill="url(#gp)" stroke="#6e0a40" stroke-width="0.7"/>
<circle cx="304.2" cy="452.1" r="3.05" fill="url(#gp)" stroke="#6e0a40" stroke-width="0.7"/>
<circle cx="313.7" cy="451.4" r="3.05" fill="url(#gy)" stroke="#6a6a04" stroke-width="0.7"/>
<circle cx="319.4" cy="452.1" r="3.05" fill="url(#gy)" stroke="#6a6a04" stroke-width="0.7"/>
<circle cx="325.8" cy="454.6" r="3.05" fill="url(#gy)" stroke="#6a6a04" stroke-width="0.7"/>
<circle cx="333.4" cy="451.4" r="3.05" fill="url(#gp)" stroke="#6e0a40" stroke-width="0.7"/>
<circle cx="283.9" cy="457.8" r="3.05" fill="url(#gy)" stroke="#6a6a04" stroke-width="0.7"/>
<circle cx="293.4" cy="455.9" r="3.05" fill="url(#gy)" stroke="#6a6a04" stroke-width="0.7"/>
<circle cx="311.8" cy="458.4" r="3.05" fill="url(#gp)" stroke="#6e0a40" stroke-width="0.7"/>
<circle cx="315.6" cy="458.4" r="3.05" fill="url(#gp)" stroke="#6e0a40" stroke-width="0.7"/>
<circle cx="389.6" cy="413.3" r="3.05" fill="url(#gy)" stroke="#6a6a04" stroke-width="0.7"/>
<circle cx="357.0" cy="429.5" r="3.05" fill="url(#gp)" stroke="#6e0a40" stroke-width="0.7"/>
<circle cx="358.6" cy="450.2" r="3.05" fill="url(#gy)" stroke="#6a6a04" stroke-width="0.7"/>
<circle cx="364.2" cy="447.2" r="3.05" fill="url(#gy)" stroke="#6a6a04" stroke-width="0.7"/>
<circle cx="373.9" cy="448.0" r="3.05" fill="url(#gy)" stroke="#6a6a04" stroke-width="0.7"/>
<circle cx="311.1" cy="459.8" r="3.05" fill="url(#gy)" stroke="#6a6a04" stroke-width="0.7"/>
<circle cx="302.2" cy="462.9" r="3.05" fill="url(#gy)" stroke="#6a6a04" stroke-width="0.7"/>
<circle cx="296.5" cy="465.4" r="3.05" fill="url(#gp)" stroke="#6e0a40" stroke-width="0.7"/>
<circle cx="317.5" cy="465.2" r="3.05" fill="url(#gp)" stroke="#6e0a40" stroke-width="0.7"/>
<circle cx="315.6" cy="469.6" r="3.05" fill="url(#gy)" stroke="#6a6a04" stroke-width="0.7"/>
<circle cx="288.9" cy="471.8" r="3.05" fill="url(#gp)" stroke="#6e0a40" stroke-width="0.7"/>
<circle cx="273.7" cy="476.6" r="3.05" fill="url(#gp)" stroke="#6e0a40" stroke-width="0.7"/>
<circle cx="316.2" cy="482.3" r="3.05" fill="url(#gp)" stroke="#6e0a40" stroke-width="0.7"/>
<circle cx="319.7" cy="485.2" r="3.05" fill="url(#gp)" stroke="#6e0a40" stroke-width="0.7"/>
<circle cx="274.0" cy="491.8" r="3.05" fill="url(#gp)" stroke="#6e0a40" stroke-width="0.7"/>
<circle cx="316.2" cy="493.7" r="3.05" fill="url(#gy)" stroke="#6a6a04" stroke-width="0.7"/>
<circle cx="305.4" cy="498.2" r="3.05" fill="url(#gp)" stroke="#6e0a40" stroke-width="0.7"/>
<circle cx="319.4" cy="499.1" r="3.05" fill="url(#gy)" stroke="#6a6a04" stroke-width="0.7"/>
<circle cx="316.2" cy="503.3" r="3.05" fill="url(#gp)" stroke="#6e0a40" stroke-width="0.7"/>
<circle cx="291.4" cy="507.1" r="3.05" fill="url(#gp)" stroke="#6e0a40" stroke-width="0.7"/>
<circle cx="314.9" cy="509.6" r="3.05" fill="url(#gp)" stroke="#6e0a40" stroke-width="0.7"/>
<circle cx="324.9" cy="461.3" r="3.05" fill="url(#gp)" stroke="#6e0a40" stroke-width="0.7"/>
<circle cx="333.0" cy="462.9" r="3.05" fill="url(#gp)" stroke="#6e0a40" stroke-width="0.7"/>
<circle cx="348.3" cy="460.3" r="3.05" fill="url(#gp)" stroke="#6e0a40" stroke-width="0.7"/>
<circle cx="352.5" cy="464.1" r="3.05" fill="url(#gy)" stroke="#6a6a04" stroke-width="0.7"/>
<circle cx="325.8" cy="469.0" r="3.05" fill="url(#gy)" stroke="#6a6a04" stroke-width="0.7"/>
<circle cx="325.2" cy="474.0" r="3.05" fill="url(#gp)" stroke="#6e0a40" stroke-width="0.7"/>
<circle cx="342.3" cy="473.0" r="3.05" fill="url(#gy)" stroke="#6a6a04" stroke-width="0.7"/>
<circle cx="347.4" cy="474.7" r="3.05" fill="url(#gp)" stroke="#6e0a40" stroke-width="0.7"/>
<circle cx="347.4" cy="479.8" r="3.05" fill="url(#gy)" stroke="#6a6a04" stroke-width="0.7"/>
<circle cx="327.7" cy="481.0" r="3.05" fill="url(#gp)" stroke="#6e0a40" stroke-width="0.7"/>
<circle cx="332.1" cy="482.7" r="3.05" fill="url(#gp)" stroke="#6e0a40" stroke-width="0.7"/>
<circle cx="336.6" cy="480.4" r="3.05" fill="url(#gy)" stroke="#6a6a04" stroke-width="0.7"/>
<circle cx="337.2" cy="486.7" r="3.05" fill="url(#gy)" stroke="#6a6a04" stroke-width="0.7"/>
<circle cx="322.6" cy="488.7" r="3.05" fill="url(#gp)" stroke="#6e0a40" stroke-width="0.7"/>
<circle cx="378.5" cy="489.0" r="3.05" fill="url(#gy)" stroke="#6a6a04" stroke-width="0.7"/>
<circle cx="344.2" cy="490.6" r="3.05" fill="url(#gp)" stroke="#6e0a40" stroke-width="0.7"/>
<circle cx="327.7" cy="493.1" r="3.05" fill="url(#gp)" stroke="#6e0a40" stroke-width="0.7"/>
<circle cx="326.4" cy="500.1" r="3.05" fill="url(#gp)" stroke="#6e0a40" stroke-width="0.7"/>
<circle cx="339.8" cy="499.4" r="3.05" fill="url(#gp)" stroke="#6e0a40" stroke-width="0.7"/>
<circle cx="332.1" cy="505.8" r="3.05" fill="url(#gy)" stroke="#6a6a04" stroke-width="0.7"/>
<circle cx="336.0" cy="507.1" r="3.05" fill="url(#gp)" stroke="#6e0a40" stroke-width="0.7"/>
<circle cx="342.3" cy="505.2" r="3.05" fill="url(#gp)" stroke="#6e0a40" stroke-width="0.7"/>
<circle cx="344.2" cy="509.6" r="3.05" fill="url(#gp)" stroke="#6e0a40" stroke-width="0.7"/>
<circle cx="348.7" cy="510.9" r="3.05" fill="url(#gp)" stroke="#6e0a40" stroke-width="0.7"/>
<circle cx="329.6" cy="510.9" r="3.05" fill="url(#gp)" stroke="#6e0a40" stroke-width="0.7"/>
<circle cx="320.7" cy="511.5" r="3.05" fill="url(#gy)" stroke="#6a6a04" stroke-width="0.7"/>
<circle cx="360.7" cy="511.5" r="3.05" fill="url(#gp)" stroke="#6e0a40" stroke-width="0.7"/>
<circle cx="315.3" cy="515.3" r="3.05" fill="url(#gp)" stroke="#6e0a40" stroke-width="0.7"/>
<circle cx="323.7" cy="517.2" r="3.05" fill="url(#gy)" stroke="#6a6a04" stroke-width="0.7"/>
<circle cx="314.2" cy="519.5" r="3.05" fill="url(#gp)" stroke="#6e0a40" stroke-width="0.7"/>
<circle cx="303.3" cy="523.3" r="3.05" fill="url(#gp)" stroke="#6e0a40" stroke-width="0.7"/>
<circle cx="336.3" cy="521.0" r="3.05" fill="url(#gp)" stroke="#6e0a40" stroke-width="0.7"/>
<circle cx="355.7" cy="527.5" r="3.05" fill="url(#gy)" stroke="#6a6a04" stroke-width="0.7"/>
<circle cx="358.0" cy="529.0" r="3.05" fill="url(#gp)" stroke="#6e0a40" stroke-width="0.7"/>
<circle cx="370.0" cy="532.9" r="3.05" fill="url(#gy)" stroke="#6a6a04" stroke-width="0.7"/>
<circle cx="321.4" cy="534.4" r="3.05" fill="url(#gp)" stroke="#6e0a40" stroke-width="0.7"/>
<circle cx="333.2" cy="538.2" r="3.05" fill="url(#gp)" stroke="#6e0a40" stroke-width="0.7"/>
<circle cx="332.9" cy="543.3" r="3.05" fill="url(#gp)" stroke="#6e0a40" stroke-width="0.7"/>
<circle cx="347.7" cy="548.5" r="3.05" fill="url(#gp)" stroke="#6e0a40" stroke-width="0.7"/>
<circle cx="344.3" cy="552.3" r="3.05" fill="url(#gy)" stroke="#6a6a04" stroke-width="0.7"/>
<circle cx="317.2" cy="566.8" r="3.05" fill="url(#gp)" stroke="#6e0a40" stroke-width="0.7"/>
<circle cx="350.4" cy="573.8" r="3.05" fill="url(#gy)" stroke="#6a6a04" stroke-width="0.7"/>
<circle cx="362.8" cy="590.4" r="3.05" fill="url(#gp)" stroke="#6e0a40" stroke-width="0.7"/>
<circle cx="298.8" cy="347.2" r="3.05" fill="url(#gp)" stroke="#6e0a40" stroke-width="0.7"/>
<circle cx="312.1" cy="346.9" r="3.05" fill="url(#gp)" stroke="#6e0a40" stroke-width="0.7"/>
<circle cx="329.9" cy="346.0" r="3.05" fill="url(#gp)" stroke="#6e0a40" stroke-width="0.7"/>
<circle cx="304.5" cy="349.4" r="3.05" fill="url(#gp)" stroke="#6e0a40" stroke-width="0.7"/>
<circle cx="318.8" cy="351.0" r="3.05" fill="url(#gp)" stroke="#6e0a40" stroke-width="0.7"/>
<circle cx="328.7" cy="351.3" r="3.05" fill="url(#gy)" stroke="#6a6a04" stroke-width="0.7"/>
<circle cx="333.7" cy="350.7" r="3.05" fill="url(#gy)" stroke="#6a6a04" stroke-width="0.7"/>
<circle cx="306.7" cy="352.9" r="3.05" fill="url(#gy)" stroke="#6a6a04" stroke-width="0.7"/>
<circle cx="298.8" cy="351.3" r="3.05" fill="url(#gp)" stroke="#6e0a40" stroke-width="0.7"/>
<circle cx="302.6" cy="354.8" r="3.05" fill="url(#gp)" stroke="#6e0a40" stroke-width="0.7"/>
<circle cx="326.1" cy="358.3" r="3.05" fill="url(#gp)" stroke="#6e0a40" stroke-width="0.7"/>
<circle cx="331.2" cy="358.0" r="3.05" fill="url(#gp)" stroke="#6e0a40" stroke-width="0.7"/>
<circle cx="298.2" cy="356.7" r="3.05" fill="url(#gy)" stroke="#6a6a04" stroke-width="0.7"/>
<circle cx="309.6" cy="359.3" r="3.05" fill="url(#gp)" stroke="#6e0a40" stroke-width="0.7"/>
<circle cx="314.7" cy="359.0" r="3.05" fill="url(#gy)" stroke="#6a6a04" stroke-width="0.7"/>
<circle cx="303.3" cy="359.9" r="3.05" fill="url(#gp)" stroke="#6e0a40" stroke-width="0.7"/>
<circle cx="296.9" cy="361.5" r="3.05" fill="url(#gp)" stroke="#6e0a40" stroke-width="0.7"/>
<circle cx="319.4" cy="361.5" r="3.05" fill="url(#gp)" stroke="#6e0a40" stroke-width="0.7"/>
<circle cx="324.2" cy="363.1" r="3.05" fill="url(#gy)" stroke="#6a6a04" stroke-width="0.7"/>
<circle cx="329.3" cy="363.4" r="3.05" fill="url(#gp)" stroke="#6e0a40" stroke-width="0.7"/>
<circle cx="300.1" cy="366.0" r="3.05" fill="url(#gp)" stroke="#6e0a40" stroke-width="0.7"/>
<circle cx="312.1" cy="365.3" r="3.05" fill="url(#gy)" stroke="#6a6a04" stroke-width="0.7"/>
<circle cx="305.8" cy="368.5" r="3.05" fill="url(#gp)" stroke="#6e0a40" stroke-width="0.7"/>
<circle cx="324.8" cy="367.9" r="3.05" fill="url(#gp)" stroke="#6e0a40" stroke-width="0.7"/>
<circle cx="330.6" cy="369.1" r="3.05" fill="url(#gp)" stroke="#6e0a40" stroke-width="0.7"/>
<circle cx="316.6" cy="369.8" r="3.05" fill="url(#gy)" stroke="#6a6a04" stroke-width="0.7"/>
<circle cx="309.6" cy="372.3" r="3.05" fill="url(#gy)" stroke="#6a6a04" stroke-width="0.7"/>
<circle cx="298.8" cy="372.3" r="3.05" fill="url(#gp)" stroke="#6e0a40" stroke-width="0.7"/>
<circle cx="329.3" cy="372.3" r="3.05" fill="url(#gp)" stroke="#6e0a40" stroke-width="0.7"/>
<circle cx="333.1" cy="370.4" r="3.05" fill="url(#gp)" stroke="#6e0a40" stroke-width="0.7"/>
<circle cx="314.0" cy="373.6" r="3.05" fill="url(#gy)" stroke="#6a6a04" stroke-width="0.7"/>
<circle cx="303.3" cy="373.6" r="3.05" fill="url(#gp)" stroke="#6e0a40" stroke-width="0.7"/>
<circle cx="297.5" cy="378.2" r="3.05" fill="url(#gp)" stroke="#6e0a40" stroke-width="0.7"/>
<circle cx="302.6" cy="377.5" r="3.05" fill="url(#gp)" stroke="#6e0a40" stroke-width="0.7"/>
<circle cx="306.1" cy="380.1" r="3.05" fill="url(#gy)" stroke="#6a6a04" stroke-width="0.7"/>
<circle cx="312.8" cy="380.1" r="3.05" fill="url(#gp)" stroke="#6e0a40" stroke-width="0.7"/>
<circle cx="325.5" cy="379.4" r="3.05" fill="url(#gp)" stroke="#6e0a40" stroke-width="0.7"/>
<circle cx="329.3" cy="382.0" r="3.05" fill="url(#gp)" stroke="#6e0a40" stroke-width="0.7"/>
<circle cx="333.1" cy="380.1" r="3.05" fill="url(#gy)" stroke="#6a6a04" stroke-width="0.7"/>
<circle cx="298.8" cy="382.6" r="3.05" fill="url(#gy)" stroke="#6a6a04" stroke-width="0.7"/>
<circle cx="318.5" cy="382.0" r="3.05" fill="url(#gp)" stroke="#6e0a40" stroke-width="0.7"/>
<circle cx="322.9" cy="382.6" r="3.05" fill="url(#gp)" stroke="#6e0a40" stroke-width="0.7"/>
<circle cx="296.3" cy="387.7" r="3.05" fill="url(#gy)" stroke="#6a6a04" stroke-width="0.7"/>
<circle cx="302.6" cy="387.4" r="3.05" fill="url(#gp)" stroke="#6e0a40" stroke-width="0.7"/>
<circle cx="310.2" cy="386.4" r="3.05" fill="url(#gp)" stroke="#6e0a40" stroke-width="0.7"/>
<circle cx="318.5" cy="386.4" r="3.05" fill="url(#gp)" stroke="#6e0a40" stroke-width="0.7"/>
<circle cx="326.1" cy="386.1" r="3.05" fill="url(#gp)" stroke="#6e0a40" stroke-width="0.7"/>
<circle cx="333.1" cy="384.5" r="3.05" fill="url(#gy)" stroke="#6a6a04" stroke-width="0.7"/>
<circle cx="300.1" cy="392.1" r="3.05" fill="url(#gy)" stroke="#6a6a04" stroke-width="0.7"/>
<circle cx="314.7" cy="389.6" r="3.05" fill="url(#gp)" stroke="#6e0a40" stroke-width="0.7"/>
<circle cx="295.6" cy="394.0" r="3.05" fill="url(#gy)" stroke="#6a6a04" stroke-width="0.7"/>
<circle cx="305.8" cy="393.7" r="3.05" fill="url(#gp)" stroke="#6e0a40" stroke-width="0.7"/>
<circle cx="309.6" cy="394.0" r="3.05" fill="url(#gp)" stroke="#6e0a40" stroke-width="0.7"/>
<circle cx="314.0" cy="392.5" r="3.05" fill="url(#gp)" stroke="#6e0a40" stroke-width="0.7"/>
<circle cx="319.8" cy="392.8" r="3.05" fill="url(#gy)" stroke="#6a6a04" stroke-width="0.7"/>
<circle cx="325.5" cy="393.7" r="3.05" fill="url(#gp)" stroke="#6e0a40" stroke-width="0.7"/>
<circle cx="329.3" cy="394.0" r="3.05" fill="url(#gp)" stroke="#6e0a40" stroke-width="0.7"/>
<circle cx="296.9" cy="398.5" r="3.05" fill="url(#gy)" stroke="#6a6a04" stroke-width="0.7"/>
<circle cx="302.6" cy="398.5" r="3.05" fill="url(#gy)" stroke="#6a6a04" stroke-width="0.7"/>
<circle cx="305.2" cy="399.8" r="3.05" fill="url(#gy)" stroke="#6a6a04" stroke-width="0.7"/>
<circle cx="314.0" cy="400.4" r="3.05" fill="url(#gp)" stroke="#6e0a40" stroke-width="0.7"/>
<circle cx="321.7" cy="399.8" r="3.05" fill="url(#gp)" stroke="#6e0a40" stroke-width="0.7"/>
<circle cx="327.4" cy="398.5" r="3.05" fill="url(#gp)" stroke="#6e0a40" stroke-width="0.7"/>
<circle cx="297.5" cy="402.9" r="3.05" fill="url(#gp)" stroke="#6e0a40" stroke-width="0.7"/>
<circle cx="305.2" cy="402.9" r="3.05" fill="url(#gy)" stroke="#6a6a04" stroke-width="0.7"/>
<circle cx="312.1" cy="402.9" r="3.05" fill="url(#gp)" stroke="#6e0a40" stroke-width="0.7"/>
<circle cx="316.6" cy="402.9" r="3.05" fill="url(#gp)" stroke="#6e0a40" stroke-width="0.7"/>
<circle cx="322.9" cy="400.4" r="3.05" fill="url(#gy)" stroke="#6a6a04" stroke-width="0.7"/>
<circle cx="324.8" cy="402.9" r="3.05" fill="url(#gy)" stroke="#6a6a04" stroke-width="0.7"/>
<circle cx="257.5" cy="378.2" r="3.05" fill="url(#gp)" stroke="#6e0a40" stroke-width="0.7"/>
<circle cx="264.5" cy="377.5" r="3.05" fill="url(#gp)" stroke="#6e0a40" stroke-width="0.7"/>
<circle cx="270.9" cy="376.0" r="3.05" fill="url(#gp)" stroke="#6e0a40" stroke-width="0.7"/>
<circle cx="279.8" cy="376.3" r="3.05" fill="url(#gp)" stroke="#6e0a40" stroke-width="0.7"/>
<circle cx="284.2" cy="376.9" r="3.05" fill="url(#gp)" stroke="#6e0a40" stroke-width="0.7"/>
<circle cx="290.6" cy="376.0" r="3.05" fill="url(#gp)" stroke="#6e0a40" stroke-width="0.7"/>
<circle cx="264.5" cy="381.3" r="3.05" fill="url(#gy)" stroke="#6a6a04" stroke-width="0.7"/>
<circle cx="275.3" cy="380.7" r="3.05" fill="url(#gy)" stroke="#6a6a04" stroke-width="0.7"/>
<circle cx="282.9" cy="380.7" r="3.05" fill="url(#gp)" stroke="#6e0a40" stroke-width="0.7"/>
<circle cx="290.6" cy="380.1" r="3.05" fill="url(#gp)" stroke="#6e0a40" stroke-width="0.7"/>
<circle cx="264.5" cy="386.7" r="3.05" fill="url(#gy)" stroke="#6a6a04" stroke-width="0.7"/>
<circle cx="270.9" cy="384.5" r="3.05" fill="url(#gp)" stroke="#6e0a40" stroke-width="0.7"/>
<circle cx="276.9" cy="385.2" r="3.05" fill="url(#gy)" stroke="#6a6a04" stroke-width="0.7"/>
<circle cx="287.4" cy="385.2" r="3.05" fill="url(#gy)" stroke="#6a6a04" stroke-width="0.7"/>
<circle cx="291.8" cy="387.7" r="3.05" fill="url(#gy)" stroke="#6a6a04" stroke-width="0.7"/>
<circle cx="258.8" cy="390.2" r="3.05" fill="url(#gp)" stroke="#6e0a40" stroke-width="0.7"/>
<circle cx="270.2" cy="388.3" r="3.05" fill="url(#gp)" stroke="#6e0a40" stroke-width="0.7"/>
<circle cx="276.0" cy="389.9" r="3.05" fill="url(#gp)" stroke="#6e0a40" stroke-width="0.7"/>
<circle cx="293.1" cy="391.5" r="3.05" fill="url(#gy)" stroke="#6a6a04" stroke-width="0.7"/>
<circle cx="258.8" cy="394.0" r="3.05" fill="url(#gp)" stroke="#6e0a40" stroke-width="0.7"/>
<circle cx="272.8" cy="394.0" r="3.05" fill="url(#gp)" stroke="#6e0a40" stroke-width="0.7"/>
<circle cx="282.9" cy="395.3" r="3.05" fill="url(#gp)" stroke="#6e0a40" stroke-width="0.7"/>
<circle cx="289.3" cy="394.7" r="3.05" fill="url(#gy)" stroke="#6a6a04" stroke-width="0.7"/>
<circle cx="260.7" cy="397.5" r="3.05" fill="url(#gp)" stroke="#6e0a40" stroke-width="0.7"/>
<circle cx="267.7" cy="398.5" r="3.05" fill="url(#gy)" stroke="#6a6a04" stroke-width="0.7"/>
<circle cx="274.0" cy="397.9" r="3.05" fill="url(#gp)" stroke="#6e0a40" stroke-width="0.7"/>
<circle cx="284.8" cy="399.1" r="3.05" fill="url(#gp)" stroke="#6e0a40" stroke-width="0.7"/>
<circle cx="279.1" cy="398.5" r="3.05" fill="url(#gy)" stroke="#6a6a04" stroke-width="0.7"/>
<circle cx="290.6" cy="399.1" r="3.05" fill="url(#gy)" stroke="#6a6a04" stroke-width="0.7"/>
<circle cx="263.3" cy="401.0" r="3.05" fill="url(#gy)" stroke="#6a6a04" stroke-width="0.7"/>
<circle cx="279.1" cy="402.9" r="3.05" fill="url(#gp)" stroke="#6e0a40" stroke-width="0.7"/>
<circle cx="289.3" cy="402.9" r="3.05" fill="url(#gy)" stroke="#6a6a04" stroke-width="0.7"/>
<circle cx="284.8" cy="403.6" r="3.05" fill="url(#gp)" stroke="#6e0a40" stroke-width="0.7"/>
<circle cx="256.3" cy="346.9" r="3.05" fill="url(#gp)" stroke="#6e0a40" stroke-width="0.7"/>
<circle cx="261.3" cy="346.0" r="3.05" fill="url(#gp)" stroke="#6e0a40" stroke-width="0.7"/>
<circle cx="264.5" cy="348.2" r="3.05" fill="url(#gy)" stroke="#6a6a04" stroke-width="0.7"/>
<circle cx="269.0" cy="348.2" r="3.05" fill="url(#gp)" stroke="#6e0a40" stroke-width="0.7"/>
<circle cx="274.0" cy="346.6" r="3.05" fill="url(#gp)" stroke="#6e0a40" stroke-width="0.7"/>
<circle cx="280.4" cy="347.5" r="3.05" fill="url(#gp)" stroke="#6e0a40" stroke-width="0.7"/>
<circle cx="286.1" cy="346.3" r="3.05" fill="url(#gp)" stroke="#6e0a40" stroke-width="0.7"/>
<circle cx="260.1" cy="351.7" r="3.05" fill="url(#gp)" stroke="#6e0a40" stroke-width="0.7"/>
<circle cx="264.5" cy="351.3" r="3.05" fill="url(#gp)" stroke="#6e0a40" stroke-width="0.7"/>
<circle cx="269.6" cy="353.9" r="3.05" fill="url(#gp)" stroke="#6e0a40" stroke-width="0.7"/>
<circle cx="273.4" cy="351.3" r="3.05" fill="url(#gp)" stroke="#6e0a40" stroke-width="0.7"/>
<circle cx="278.5" cy="352.9" r="3.05" fill="url(#gy)" stroke="#6a6a04" stroke-width="0.7"/>
<circle cx="282.9" cy="352.6" r="3.05" fill="url(#gp)" stroke="#6e0a40" stroke-width="0.7"/>
<circle cx="288.0" cy="350.7" r="3.05" fill="url(#gp)" stroke="#6e0a40" stroke-width="0.7"/>
<circle cx="255.6" cy="356.4" r="3.05" fill="url(#gp)" stroke="#6e0a40" stroke-width="0.7"/>
<circle cx="279.1" cy="357.1" r="3.05" fill="url(#gp)" stroke="#6e0a40" stroke-width="0.7"/>
<circle cx="286.1" cy="356.4" r="3.05" fill="url(#gp)" stroke="#6e0a40" stroke-width="0.7"/>
<circle cx="291.2" cy="356.4" r="3.05" fill="url(#gp)" stroke="#6e0a40" stroke-width="0.7"/>
<circle cx="260.1" cy="360.2" r="3.05" fill="url(#gp)" stroke="#6e0a40" stroke-width="0.7"/>
<circle cx="265.8" cy="360.9" r="3.05" fill="url(#gp)" stroke="#6e0a40" stroke-width="0.7"/>
<circle cx="273.7" cy="360.9" r="3.05" fill="url(#gy)" stroke="#6a6a04" stroke-width="0.7"/>
<circle cx="282.9" cy="362.1" r="3.05" fill="url(#gp)" stroke="#6e0a40" stroke-width="0.7"/>
<circle cx="289.3" cy="363.4" r="3.05" fill="url(#gy)" stroke="#6a6a04" stroke-width="0.7"/>
<circle cx="293.7" cy="365.3" r="3.05" fill="url(#gy)" stroke="#6a6a04" stroke-width="0.7"/>
<circle cx="256.3" cy="365.3" r="3.05" fill="url(#gp)" stroke="#6e0a40" stroke-width="0.7"/>
<circle cx="268.3" cy="366.0" r="3.05" fill="url(#gy)" stroke="#6a6a04" stroke-width="0.7"/>
<circle cx="272.8" cy="365.3" r="3.05" fill="url(#gy)" stroke="#6a6a04" stroke-width="0.7"/>
<circle cx="278.5" cy="366.0" r="3.05" fill="url(#gp)" stroke="#6e0a40" stroke-width="0.7"/>
<circle cx="286.7" cy="367.2" r="3.05" fill="url(#gp)" stroke="#6e0a40" stroke-width="0.7"/>
<circle cx="257.5" cy="369.1" r="3.05" fill="url(#gy)" stroke="#6a6a04" stroke-width="0.7"/>
<circle cx="270.9" cy="368.5" r="3.05" fill="url(#gy)" stroke="#6a6a04" stroke-width="0.7"/>
<circle cx="276.0" cy="371.0" r="3.05" fill="url(#gp)" stroke="#6e0a40" stroke-width="0.7"/>
<circle cx="281.7" cy="370.4" r="3.05" fill="url(#gp)" stroke="#6e0a40" stroke-width="0.7"/>
<circle cx="290.6" cy="369.8" r="3.05" fill="url(#gp)" stroke="#6e0a40" stroke-width="0.7"/>
<circle cx="257.5" cy="372.9" r="3.05" fill="url(#gp)" stroke="#6e0a40" stroke-width="0.7"/>
<circle cx="264.5" cy="372.9" r="3.05" fill="url(#gp)" stroke="#6e0a40" stroke-width="0.7"/>
<circle cx="270.2" cy="372.9" r="3.05" fill="url(#gp)" stroke="#6e0a40" stroke-width="0.7"/>
<circle cx="285.5" cy="372.9" r="3.05" fill="url(#gp)" stroke="#6e0a40" stroke-width="0.7"/>
<circle cx="293.1" cy="372.9" r="3.05" fill="url(#gp)" stroke="#6e0a40" stroke-width="0.7"/>
</g><g>
<line x1="230.5" y1="154.8" x2="272.3" y2="288.0" stroke="#111" stroke-width="1.35"/>
<line x1="300.5" y1="378.0" x2="366.7" y2="588.9" stroke="#111" stroke-width="1.35"/>
<line x1="477.1" y1="243.9" x2="302.0" y2="345.6" stroke="#111" stroke-width="1.35"/>
<line x1="263.0" y1="368.3" x2="226.5" y2="389.5" stroke="#111" stroke-width="1.35"/>
<line x1="254.4" y1="324.4" x2="291.5" y2="348.5" stroke="#111" stroke-width="1.35"/>
<circle cx="407.7" cy="933.0" r="3.75" fill="url(#gb)" stroke="#2e1404" stroke-width="0.7"/>
<circle cx="413.8" cy="931.3" r="3.75" fill="url(#gb)" stroke="#2e1404" stroke-width="0.7"/>
<circle cx="416.0" cy="930.9" r="3.75" fill="url(#gb)" stroke="#2e1404" stroke-width="0.7"/>
<circle cx="414.6" cy="939.0" r="3.75" fill="url(#gb)" stroke="#2e1404" stroke-width="0.7"/>
<circle cx="391.4" cy="929.5" r="3.75" fill="url(#gb)" stroke="#2e1404" stroke-width="0.7"/>
<circle cx="358.8" cy="944.2" r="3.75" fill="url(#gb)" stroke="#2e1404" stroke-width="0.7"/>
<circle cx="371.4" cy="941.7" r="3.75" fill="url(#gb)" stroke="#2e1404" stroke-width="0.7"/>
<circle cx="389.6" cy="947.0" r="3.75" fill="url(#gb)" stroke="#2e1404" stroke-width="0.7"/>
<circle cx="350.4" cy="982.1" r="3.75" fill="url(#gb)" stroke="#2e1404" stroke-width="0.7"/>
<circle cx="344.3" cy="985.1" r="3.75" fill="url(#gb)" stroke="#2e1404" stroke-width="0.7"/>
<circle cx="308.4" cy="991.4" r="3.75" fill="url(#gb)" stroke="#2e1404" stroke-width="0.7"/>
<circle cx="315.8" cy="987.1" r="3.75" fill="url(#gb)" stroke="#2e1404" stroke-width="0.7"/>
<circle cx="292.9" cy="994.4" r="3.75" fill="url(#gb)" stroke="#2e1404" stroke-width="0.7"/>
<circle cx="299.9" cy="990.5" r="3.75" fill="url(#gb)" stroke="#2e1404" stroke-width="0.7"/>
<circle cx="297.6" cy="996.6" r="3.75" fill="url(#gb)" stroke="#2e1404" stroke-width="0.7"/>
<circle cx="281.3" cy="1001.6" r="3.75" fill="url(#gb)" stroke="#2e1404" stroke-width="0.7"/>
<circle cx="303.4" cy="1002.7" r="3.75" fill="url(#gb)" stroke="#2e1404" stroke-width="0.7"/>
<circle cx="315.4" cy="997.9" r="3.75" fill="url(#gb)" stroke="#2e1404" stroke-width="0.7"/>
<circle cx="293.8" cy="1011.5" r="3.75" fill="url(#gb)" stroke="#2e1404" stroke-width="0.7"/>
<circle cx="298.2" cy="1011.9" r="3.75" fill="url(#gb)" stroke="#2e1404" stroke-width="0.7"/>
<circle cx="277.3" cy="1012.5" r="3.75" fill="url(#gb)" stroke="#2e1404" stroke-width="0.7"/>
<circle cx="287.8" cy="1013.3" r="3.75" fill="url(#gb)" stroke="#2e1404" stroke-width="0.7"/>
<circle cx="286.1" cy="1028.3" r="3.75" fill="url(#gb)" stroke="#2e1404" stroke-width="0.7"/>
<circle cx="287.9" cy="1028.8" r="3.75" fill="url(#gb)" stroke="#2e1404" stroke-width="0.7"/>
<circle cx="294.7" cy="1033.1" r="3.75" fill="url(#gb)" stroke="#2e1404" stroke-width="0.7"/>
<circle cx="256.9" cy="1029.8" r="3.75" fill="url(#gb)" stroke="#2e1404" stroke-width="0.7"/>
<circle cx="291.9" cy="1037.5" r="3.75" fill="url(#gb)" stroke="#2e1404" stroke-width="0.7"/>
<circle cx="280.0" cy="1037.5" r="3.75" fill="url(#gb)" stroke="#2e1404" stroke-width="0.7"/>
<circle cx="290.4" cy="1036.3" r="3.75" fill="url(#gb)" stroke="#2e1404" stroke-width="0.7"/>
<circle cx="235.1" cy="1047.1" r="3.75" fill="url(#gb)" stroke="#2e1404" stroke-width="0.7"/>
<circle cx="238.6" cy="1052.3" r="3.75" fill="url(#gb)" stroke="#2e1404" stroke-width="0.7"/>
<circle cx="260.4" cy="1063.6" r="3.75" fill="url(#gb)" stroke="#2e1404" stroke-width="0.7"/>
<circle cx="239.4" cy="1071.7" r="3.75" fill="url(#gb)" stroke="#2e1404" stroke-width="0.7"/>
<circle cx="265.7" cy="1057.1" r="3.75" fill="url(#gb)" stroke="#2e1404" stroke-width="0.7"/>
<circle cx="209.6" cy="1086.8" r="3.75" fill="url(#gb)" stroke="#2e1404" stroke-width="0.7"/>
<circle cx="154.8" cy="1123.2" r="3.75" fill="url(#gb)" stroke="#2e1404" stroke-width="0.7"/>
<circle cx="442.9" cy="896.2" r="3.75" fill="url(#gp)" stroke="#6e0a40" stroke-width="0.7"/>
<circle cx="437.3" cy="906.9" r="3.75" fill="url(#gp)" stroke="#6e0a40" stroke-width="0.7"/>
<circle cx="445.8" cy="904.5" r="3.75" fill="url(#gp)" stroke="#6e0a40" stroke-width="0.7"/>
<circle cx="421.8" cy="905.6" r="3.75" fill="url(#gp)" stroke="#6e0a40" stroke-width="0.7"/>
<circle cx="429.5" cy="909.7" r="3.75" fill="url(#gp)" stroke="#6e0a40" stroke-width="0.7"/>
<circle cx="433.4" cy="904.1" r="3.75" fill="url(#gp)" stroke="#6e0a40" stroke-width="0.7"/>
<circle cx="443.8" cy="916.2" r="3.75" fill="url(#gp)" stroke="#6e0a40" stroke-width="0.7"/>
<circle cx="449.0" cy="914.5" r="3.75" fill="url(#gp)" stroke="#6e0a40" stroke-width="0.7"/>
<circle cx="428.1" cy="925.3" r="3.75" fill="url(#gp)" stroke="#6e0a40" stroke-width="0.7"/>
<circle cx="426.2" cy="922.9" r="3.75" fill="url(#gp)" stroke="#6e0a40" stroke-width="0.7"/>
<circle cx="430.4" cy="929.1" r="3.75" fill="url(#gp)" stroke="#6e0a40" stroke-width="0.7"/>
<circle cx="415.3" cy="916.2" r="3.75" fill="url(#gp)" stroke="#6e0a40" stroke-width="0.7"/>
<circle cx="416.6" cy="927.1" r="3.75" fill="url(#gp)" stroke="#6e0a40" stroke-width="0.7"/>
<circle cx="411.3" cy="929.1" r="3.75" fill="url(#gp)" stroke="#6e0a40" stroke-width="0.7"/>
<circle cx="403.6" cy="933.1" r="3.75" fill="url(#gp)" stroke="#6e0a40" stroke-width="0.7"/>
<circle cx="401.4" cy="942.8" r="3.75" fill="url(#gp)" stroke="#6e0a40" stroke-width="0.7"/>
<circle cx="427.9" cy="929.6" r="3.75" fill="url(#gp)" stroke="#6e0a40" stroke-width="0.7"/>
<circle cx="422.4" cy="931.4" r="3.75" fill="url(#gp)" stroke="#6e0a40" stroke-width="0.7"/>
<circle cx="423.7" cy="927.9" r="3.75" fill="url(#gp)" stroke="#6e0a40" stroke-width="0.7"/>
<circle cx="407.8" cy="945.9" r="3.75" fill="url(#gp)" stroke="#6e0a40" stroke-width="0.7"/>
<circle cx="365.7" cy="940.9" r="3.75" fill="url(#gp)" stroke="#6e0a40" stroke-width="0.7"/>
<circle cx="374.8" cy="937.9" r="3.75" fill="url(#gp)" stroke="#6e0a40" stroke-width="0.7"/>
<circle cx="395.9" cy="937.7" r="3.75" fill="url(#gp)" stroke="#6e0a40" stroke-width="0.7"/>
<circle cx="366.8" cy="949.3" r="3.75" fill="url(#gp)" stroke="#6e0a40" stroke-width="0.7"/>
<circle cx="363.1" cy="951.0" r="3.75" fill="url(#gp)" stroke="#6e0a40" stroke-width="0.7"/>
<circle cx="357.2" cy="951.6" r="3.75" fill="url(#gp)" stroke="#6e0a40" stroke-width="0.7"/>
<circle cx="380.4" cy="949.3" r="3.75" fill="url(#gp)" stroke="#6e0a40" stroke-width="0.7"/>
<circle cx="385.5" cy="948.2" r="3.75" fill="url(#gp)" stroke="#6e0a40" stroke-width="0.7"/>
<circle cx="388.5" cy="947.7" r="3.75" fill="url(#gp)" stroke="#6e0a40" stroke-width="0.7"/>
<circle cx="396.6" cy="948.8" r="3.75" fill="url(#gp)" stroke="#6e0a40" stroke-width="0.7"/>
<circle cx="367.3" cy="960.2" r="3.75" fill="url(#gp)" stroke="#6e0a40" stroke-width="0.7"/>
<circle cx="368.4" cy="958.1" r="3.75" fill="url(#gp)" stroke="#6e0a40" stroke-width="0.7"/>
<circle cx="376.4" cy="956.3" r="3.75" fill="url(#gp)" stroke="#6e0a40" stroke-width="0.7"/>
<circle cx="358.4" cy="960.4" r="3.75" fill="url(#gp)" stroke="#6e0a40" stroke-width="0.7"/>
<circle cx="354.0" cy="963.4" r="3.75" fill="url(#gp)" stroke="#6e0a40" stroke-width="0.7"/>
<circle cx="361.8" cy="966.0" r="3.75" fill="url(#gp)" stroke="#6e0a40" stroke-width="0.7"/>
<circle cx="354.7" cy="968.0" r="3.75" fill="url(#gp)" stroke="#6e0a40" stroke-width="0.7"/>
<circle cx="357.8" cy="970.6" r="3.75" fill="url(#gp)" stroke="#6e0a40" stroke-width="0.7"/>
<circle cx="368.5" cy="972.7" r="3.75" fill="url(#gp)" stroke="#6e0a40" stroke-width="0.7"/>
<circle cx="339.6" cy="975.5" r="3.75" fill="url(#gp)" stroke="#6e0a40" stroke-width="0.7"/>
<circle cx="352.8" cy="974.9" r="3.75" fill="url(#gp)" stroke="#6e0a40" stroke-width="0.7"/>
<circle cx="359.3" cy="973.5" r="3.75" fill="url(#gp)" stroke="#6e0a40" stroke-width="0.7"/>
<circle cx="329.2" cy="981.3" r="3.75" fill="url(#gp)" stroke="#6e0a40" stroke-width="0.7"/>
<circle cx="335.6" cy="979.3" r="3.75" fill="url(#gp)" stroke="#6e0a40" stroke-width="0.7"/>
<circle cx="314.4" cy="984.2" r="3.75" fill="url(#gp)" stroke="#6e0a40" stroke-width="0.7"/>
<circle cx="317.4" cy="987.5" r="3.75" fill="url(#gp)" stroke="#6e0a40" stroke-width="0.7"/>
<circle cx="314.4" cy="993.1" r="3.75" fill="url(#gp)" stroke="#6e0a40" stroke-width="0.7"/>
<circle cx="317.7" cy="995.2" r="3.75" fill="url(#gp)" stroke="#6e0a40" stroke-width="0.7"/>
<circle cx="309.5" cy="1000.3" r="3.75" fill="url(#gp)" stroke="#6e0a40" stroke-width="0.7"/>
<circle cx="289.1" cy="1001.4" r="3.75" fill="url(#gp)" stroke="#6e0a40" stroke-width="0.7"/>
<circle cx="312.2" cy="1003.0" r="3.75" fill="url(#gp)" stroke="#6e0a40" stroke-width="0.7"/>
<circle cx="321.3" cy="1002.9" r="3.75" fill="url(#gp)" stroke="#6e0a40" stroke-width="0.7"/>
<circle cx="328.5" cy="1003.3" r="3.75" fill="url(#gp)" stroke="#6e0a40" stroke-width="0.7"/>
<circle cx="295.3" cy="1005.3" r="3.75" fill="url(#gp)" stroke="#6e0a40" stroke-width="0.7"/>
<circle cx="282.2" cy="1005.9" r="3.75" fill="url(#gp)" stroke="#6e0a40" stroke-width="0.7"/>
<circle cx="302.1" cy="1007.4" r="3.75" fill="url(#gp)" stroke="#6e0a40" stroke-width="0.7"/>
<circle cx="286.1" cy="1012.1" r="3.75" fill="url(#gp)" stroke="#6e0a40" stroke-width="0.7"/>
<circle cx="311.7" cy="1011.3" r="3.75" fill="url(#gp)" stroke="#6e0a40" stroke-width="0.7"/>
<circle cx="293.3" cy="1013.9" r="3.75" fill="url(#gp)" stroke="#6e0a40" stroke-width="0.7"/>
<circle cx="306.8" cy="1012.7" r="3.75" fill="url(#gp)" stroke="#6e0a40" stroke-width="0.7"/>
<circle cx="316.2" cy="1015.5" r="3.75" fill="url(#gp)" stroke="#6e0a40" stroke-width="0.7"/>
<circle cx="300.3" cy="1018.3" r="3.75" fill="url(#gp)" stroke="#6e0a40" stroke-width="0.7"/>
<circle cx="281.8" cy="1015.6" r="3.75" fill="url(#gp)" stroke="#6e0a40" stroke-width="0.7"/>
<circle cx="319.7" cy="1013.1" r="3.75" fill="url(#gp)" stroke="#6e0a40" stroke-width="0.7"/>
<circle cx="271.7" cy="1019.9" r="3.75" fill="url(#gp)" stroke="#6e0a40" stroke-width="0.7"/>
<circle cx="279.7" cy="1019.1" r="3.75" fill="url(#gp)" stroke="#6e0a40" stroke-width="0.7"/>
<circle cx="287.7" cy="1019.4" r="3.75" fill="url(#gp)" stroke="#6e0a40" stroke-width="0.7"/>
<circle cx="292.3" cy="1020.0" r="3.75" fill="url(#gp)" stroke="#6e0a40" stroke-width="0.7"/>
<circle cx="295.1" cy="1020.3" r="3.75" fill="url(#gp)" stroke="#6e0a40" stroke-width="0.7"/>
<circle cx="308.7" cy="1021.7" r="3.75" fill="url(#gp)" stroke="#6e0a40" stroke-width="0.7"/>
<circle cx="299.2" cy="1024.2" r="3.75" fill="url(#gp)" stroke="#6e0a40" stroke-width="0.7"/>
<circle cx="263.9" cy="1024.6" r="3.75" fill="url(#gp)" stroke="#6e0a40" stroke-width="0.7"/>
<circle cx="279.4" cy="1027.0" r="3.75" fill="url(#gp)" stroke="#6e0a40" stroke-width="0.7"/>
<circle cx="271.2" cy="1028.8" r="3.75" fill="url(#gp)" stroke="#6e0a40" stroke-width="0.7"/>
<circle cx="264.8" cy="1033.9" r="3.75" fill="url(#gp)" stroke="#6e0a40" stroke-width="0.7"/>
<circle cx="269.5" cy="1034.4" r="3.75" fill="url(#gp)" stroke="#6e0a40" stroke-width="0.7"/>
<circle cx="274.2" cy="1031.5" r="3.75" fill="url(#gp)" stroke="#6e0a40" stroke-width="0.7"/>
<circle cx="250.3" cy="1039.6" r="3.75" fill="url(#gp)" stroke="#6e0a40" stroke-width="0.7"/>
<circle cx="269.7" cy="1035.9" r="3.75" fill="url(#gp)" stroke="#6e0a40" stroke-width="0.7"/>
<circle cx="254.2" cy="1038.7" r="3.75" fill="url(#gp)" stroke="#6e0a40" stroke-width="0.7"/>
<circle cx="261.8" cy="1045.1" r="3.75" fill="url(#gp)" stroke="#6e0a40" stroke-width="0.7"/>
<circle cx="250.0" cy="1042.2" r="3.75" fill="url(#gp)" stroke="#6e0a40" stroke-width="0.7"/>
<circle cx="281.4" cy="1046.6" r="3.75" fill="url(#gp)" stroke="#6e0a40" stroke-width="0.7"/>
<circle cx="284.1" cy="1048.3" r="3.75" fill="url(#gp)" stroke="#6e0a40" stroke-width="0.7"/>
<circle cx="267.8" cy="1047.9" r="3.75" fill="url(#gp)" stroke="#6e0a40" stroke-width="0.7"/>
<circle cx="257.1" cy="1048.9" r="3.75" fill="url(#gp)" stroke="#6e0a40" stroke-width="0.7"/>
<circle cx="272.6" cy="1053.4" r="3.75" fill="url(#gp)" stroke="#6e0a40" stroke-width="0.7"/>
<circle cx="277.3" cy="1053.2" r="3.75" fill="url(#gp)" stroke="#6e0a40" stroke-width="0.7"/>
<circle cx="255.8" cy="1052.2" r="3.75" fill="url(#gp)" stroke="#6e0a40" stroke-width="0.7"/>
<circle cx="331.0" cy="988.7" r="3.75" fill="url(#gp)" stroke="#6e0a40" stroke-width="0.7"/>
<circle cx="336.0" cy="986.0" r="3.75" fill="url(#gp)" stroke="#6e0a40" stroke-width="0.7"/>
<circle cx="332.0" cy="987.3" r="3.75" fill="url(#gp)" stroke="#6e0a40" stroke-width="0.7"/>
<circle cx="335.9" cy="991.5" r="3.75" fill="url(#gp)" stroke="#6e0a40" stroke-width="0.7"/>
<circle cx="330.7" cy="999.8" r="3.75" fill="url(#gp)" stroke="#6e0a40" stroke-width="0.7"/>
<circle cx="340.2" cy="990.7" r="3.75" fill="url(#gp)" stroke="#6e0a40" stroke-width="0.7"/>
<circle cx="343.6" cy="996.3" r="3.75" fill="url(#gp)" stroke="#6e0a40" stroke-width="0.7"/>
<circle cx="228.0" cy="1044.5" r="3.75" fill="url(#gp)" stroke="#6e0a40" stroke-width="0.7"/>
<circle cx="230.6" cy="1047.4" r="3.75" fill="url(#gp)" stroke="#6e0a40" stroke-width="0.7"/>
<circle cx="260.1" cy="1041.7" r="3.75" fill="url(#gp)" stroke="#6e0a40" stroke-width="0.7"/>
<circle cx="270.7" cy="1041.7" r="3.75" fill="url(#gp)" stroke="#6e0a40" stroke-width="0.7"/>
<circle cx="273.2" cy="1040.3" r="3.75" fill="url(#gp)" stroke="#6e0a40" stroke-width="0.7"/>
<circle cx="239.6" cy="1051.3" r="3.75" fill="url(#gp)" stroke="#6e0a40" stroke-width="0.7"/>
<circle cx="247.6" cy="1053.8" r="3.75" fill="url(#gp)" stroke="#6e0a40" stroke-width="0.7"/>
<circle cx="236.2" cy="1062.2" r="3.75" fill="url(#gp)" stroke="#6e0a40" stroke-width="0.7"/>
<circle cx="244.3" cy="1059.9" r="3.75" fill="url(#gp)" stroke="#6e0a40" stroke-width="0.7"/>
<circle cx="251.9" cy="1056.3" r="3.75" fill="url(#gp)" stroke="#6e0a40" stroke-width="0.7"/>
<circle cx="250.8" cy="1067.1" r="3.75" fill="url(#gp)" stroke="#6e0a40" stroke-width="0.7"/>
<circle cx="215.4" cy="1065.9" r="3.75" fill="url(#gp)" stroke="#6e0a40" stroke-width="0.7"/>
<circle cx="225.0" cy="1065.2" r="3.75" fill="url(#gp)" stroke="#6e0a40" stroke-width="0.7"/>
<circle cx="228.8" cy="1062.0" r="3.75" fill="url(#gp)" stroke="#6e0a40" stroke-width="0.7"/>
<circle cx="233.7" cy="1060.5" r="3.75" fill="url(#gp)" stroke="#6e0a40" stroke-width="0.7"/>
<circle cx="225.4" cy="1070.1" r="3.75" fill="url(#gp)" stroke="#6e0a40" stroke-width="0.7"/>
<circle cx="231.9" cy="1066.5" r="3.75" fill="url(#gp)" stroke="#6e0a40" stroke-width="0.7"/>
<circle cx="232.7" cy="1066.7" r="3.75" fill="url(#gp)" stroke="#6e0a40" stroke-width="0.7"/>
<circle cx="243.7" cy="1067.8" r="3.75" fill="url(#gp)" stroke="#6e0a40" stroke-width="0.7"/>
<circle cx="228.7" cy="1071.9" r="3.75" fill="url(#gp)" stroke="#6e0a40" stroke-width="0.7"/>
<circle cx="214.7" cy="1079.2" r="3.75" fill="url(#gp)" stroke="#6e0a40" stroke-width="0.7"/>
<circle cx="229.0" cy="1077.1" r="3.75" fill="url(#gp)" stroke="#6e0a40" stroke-width="0.7"/>
<circle cx="220.3" cy="1070.6" r="3.75" fill="url(#gp)" stroke="#6e0a40" stroke-width="0.7"/>
<circle cx="226.8" cy="1093.3" r="3.75" fill="url(#gp)" stroke="#6e0a40" stroke-width="0.7"/>
<circle cx="189.9" cy="1123.5" r="3.75" fill="url(#gp)" stroke="#6e0a40" stroke-width="0.7"/>
<circle cx="449.7" cy="906.3" r="3.75" fill="url(#gy)" stroke="#6a6a04" stroke-width="0.7"/>
<circle cx="440.7" cy="910.6" r="3.75" fill="url(#gy)" stroke="#6a6a04" stroke-width="0.7"/>
<circle cx="446.1" cy="912.2" r="3.75" fill="url(#gy)" stroke="#6a6a04" stroke-width="0.7"/>
<circle cx="456.5" cy="911.9" r="3.75" fill="url(#gy)" stroke="#6a6a04" stroke-width="0.7"/>
<circle cx="435.4" cy="917.0" r="3.75" fill="url(#gy)" stroke="#6a6a04" stroke-width="0.7"/>
<circle cx="445.8" cy="914.6" r="3.75" fill="url(#gy)" stroke="#6a6a04" stroke-width="0.7"/>
<circle cx="443.6" cy="918.2" r="3.75" fill="url(#gy)" stroke="#6a6a04" stroke-width="0.7"/>
<circle cx="455.7" cy="921.7" r="3.75" fill="url(#gy)" stroke="#6a6a04" stroke-width="0.7"/>
<circle cx="432.6" cy="919.7" r="3.75" fill="url(#gy)" stroke="#6a6a04" stroke-width="0.7"/>
<circle cx="437.6" cy="924.9" r="3.75" fill="url(#gy)" stroke="#6a6a04" stroke-width="0.7"/>
<circle cx="444.4" cy="928.2" r="3.75" fill="url(#gy)" stroke="#6a6a04" stroke-width="0.7"/>
<circle cx="447.8" cy="925.9" r="3.75" fill="url(#gy)" stroke="#6a6a04" stroke-width="0.7"/>
<circle cx="404.4" cy="939.2" r="3.75" fill="url(#gy)" stroke="#6a6a04" stroke-width="0.7"/>
<circle cx="408.8" cy="943.3" r="3.75" fill="url(#gy)" stroke="#6a6a04" stroke-width="0.7"/>
<circle cx="435.4" cy="930.9" r="3.75" fill="url(#gy)" stroke="#6a6a04" stroke-width="0.7"/>
<circle cx="424.1" cy="939.9" r="3.75" fill="url(#gy)" stroke="#6a6a04" stroke-width="0.7"/>
<circle cx="427.8" cy="937.5" r="3.75" fill="url(#gy)" stroke="#6a6a04" stroke-width="0.7"/>
<circle cx="444.6" cy="935.6" r="3.75" fill="url(#gy)" stroke="#6a6a04" stroke-width="0.7"/>
<circle cx="420.7" cy="938.4" r="3.75" fill="url(#gy)" stroke="#6a6a04" stroke-width="0.7"/>
<circle cx="412.1" cy="950.0" r="3.75" fill="url(#gy)" stroke="#6a6a04" stroke-width="0.7"/>
<circle cx="398.8" cy="952.2" r="3.75" fill="url(#gy)" stroke="#6a6a04" stroke-width="0.7"/>
<circle cx="400.0" cy="952.6" r="3.75" fill="url(#gy)" stroke="#6a6a04" stroke-width="0.7"/>
<circle cx="412.6" cy="957.4" r="3.75" fill="url(#gy)" stroke="#6a6a04" stroke-width="0.7"/>
<circle cx="409.2" cy="958.1" r="3.75" fill="url(#gy)" stroke="#6a6a04" stroke-width="0.7"/>
<circle cx="411.5" cy="950.2" r="3.75" fill="url(#gy)" stroke="#6a6a04" stroke-width="0.7"/>
<circle cx="401.8" cy="960.3" r="3.75" fill="url(#gy)" stroke="#6a6a04" stroke-width="0.7"/>
<circle cx="408.6" cy="968.2" r="3.75" fill="url(#gy)" stroke="#6a6a04" stroke-width="0.7"/>
<circle cx="404.1" cy="963.4" r="3.75" fill="url(#gy)" stroke="#6a6a04" stroke-width="0.7"/>
<circle cx="401.2" cy="966.9" r="3.75" fill="url(#gy)" stroke="#6a6a04" stroke-width="0.7"/>
<circle cx="406.2" cy="971.0" r="3.75" fill="url(#gy)" stroke="#6a6a04" stroke-width="0.7"/>
<circle cx="402.0" cy="970.2" r="3.75" fill="url(#gy)" stroke="#6a6a04" stroke-width="0.7"/>
<circle cx="404.5" cy="975.4" r="3.75" fill="url(#gy)" stroke="#6a6a04" stroke-width="0.7"/>
<circle cx="401.6" cy="977.3" r="3.75" fill="url(#gy)" stroke="#6a6a04" stroke-width="0.7"/>
<circle cx="401.2" cy="981.6" r="3.75" fill="url(#gy)" stroke="#6a6a04" stroke-width="0.7"/>
<circle cx="381.4" cy="961.7" r="3.75" fill="url(#gy)" stroke="#6a6a04" stroke-width="0.7"/>
<circle cx="395.4" cy="953.8" r="3.75" fill="url(#gy)" stroke="#6a6a04" stroke-width="0.7"/>
<circle cx="397.7" cy="951.6" r="3.75" fill="url(#gy)" stroke="#6a6a04" stroke-width="0.7"/>
<circle cx="369.1" cy="961.7" r="3.75" fill="url(#gy)" stroke="#6a6a04" stroke-width="0.7"/>
<circle cx="375.1" cy="961.0" r="3.75" fill="url(#gy)" stroke="#6a6a04" stroke-width="0.7"/>
<circle cx="388.5" cy="960.7" r="3.75" fill="url(#gy)" stroke="#6a6a04" stroke-width="0.7"/>
<circle cx="389.4" cy="959.0" r="3.75" fill="url(#gy)" stroke="#6a6a04" stroke-width="0.7"/>
<circle cx="394.4" cy="956.6" r="3.75" fill="url(#gy)" stroke="#6a6a04" stroke-width="0.7"/>
<circle cx="399.1" cy="966.4" r="3.75" fill="url(#gy)" stroke="#6a6a04" stroke-width="0.7"/>
<circle cx="399.4" cy="965.6" r="3.75" fill="url(#gy)" stroke="#6a6a04" stroke-width="0.7"/>
<circle cx="382.9" cy="970.0" r="3.75" fill="url(#gy)" stroke="#6a6a04" stroke-width="0.7"/>
<circle cx="386.7" cy="967.8" r="3.75" fill="url(#gy)" stroke="#6a6a04" stroke-width="0.7"/>
<circle cx="392.9" cy="966.5" r="3.75" fill="url(#gy)" stroke="#6a6a04" stroke-width="0.7"/>
<circle cx="369.3" cy="968.2" r="3.75" fill="url(#gy)" stroke="#6a6a04" stroke-width="0.7"/>
<circle cx="374.5" cy="969.3" r="3.75" fill="url(#gy)" stroke="#6a6a04" stroke-width="0.7"/>
<circle cx="380.4" cy="971.2" r="3.75" fill="url(#gy)" stroke="#6a6a04" stroke-width="0.7"/>
<circle cx="389.1" cy="970.5" r="3.75" fill="url(#gy)" stroke="#6a6a04" stroke-width="0.7"/>
<circle cx="396.1" cy="971.6" r="3.75" fill="url(#gy)" stroke="#6a6a04" stroke-width="0.7"/>
<circle cx="399.5" cy="975.2" r="3.75" fill="url(#gy)" stroke="#6a6a04" stroke-width="0.7"/>
<circle cx="358.3" cy="977.2" r="3.75" fill="url(#gy)" stroke="#6a6a04" stroke-width="0.7"/>
<circle cx="368.6" cy="979.7" r="3.75" fill="url(#gy)" stroke="#6a6a04" stroke-width="0.7"/>
<circle cx="374.7" cy="976.0" r="3.75" fill="url(#gy)" stroke="#6a6a04" stroke-width="0.7"/>
<circle cx="375.9" cy="976.9" r="3.75" fill="url(#gy)" stroke="#6a6a04" stroke-width="0.7"/>
<circle cx="378.7" cy="977.2" r="3.75" fill="url(#gy)" stroke="#6a6a04" stroke-width="0.7"/>
<circle cx="384.6" cy="975.4" r="3.75" fill="url(#gy)" stroke="#6a6a04" stroke-width="0.7"/>
<circle cx="387.6" cy="973.1" r="3.75" fill="url(#gy)" stroke="#6a6a04" stroke-width="0.7"/>
<circle cx="394.2" cy="979.6" r="3.75" fill="url(#gy)" stroke="#6a6a04" stroke-width="0.7"/>
<circle cx="357.1" cy="980.2" r="3.75" fill="url(#gy)" stroke="#6a6a04" stroke-width="0.7"/>
<circle cx="363.2" cy="980.9" r="3.75" fill="url(#gy)" stroke="#6a6a04" stroke-width="0.7"/>
<circle cx="362.3" cy="985.9" r="3.75" fill="url(#gy)" stroke="#6a6a04" stroke-width="0.7"/>
<circle cx="368.1" cy="983.1" r="3.75" fill="url(#gy)" stroke="#6a6a04" stroke-width="0.7"/>
<circle cx="375.8" cy="980.1" r="3.75" fill="url(#gy)" stroke="#6a6a04" stroke-width="0.7"/>
<circle cx="385.3" cy="982.0" r="3.75" fill="url(#gy)" stroke="#6a6a04" stroke-width="0.7"/>
<circle cx="392.6" cy="980.0" r="3.75" fill="url(#gy)" stroke="#6a6a04" stroke-width="0.7"/>
<circle cx="398.3" cy="981.8" r="3.75" fill="url(#gy)" stroke="#6a6a04" stroke-width="0.7"/>
<circle cx="312.6" cy="1007.8" r="3.75" fill="url(#gy)" stroke="#6a6a04" stroke-width="0.7"/>
<circle cx="321.9" cy="1011.2" r="3.75" fill="url(#gy)" stroke="#6a6a04" stroke-width="0.7"/>
<circle cx="326.6" cy="1008.9" r="3.75" fill="url(#gy)" stroke="#6a6a04" stroke-width="0.7"/>
<circle cx="327.7" cy="1010.5" r="3.75" fill="url(#gy)" stroke="#6a6a04" stroke-width="0.7"/>
<circle cx="308.6" cy="1014.5" r="3.75" fill="url(#gy)" stroke="#6a6a04" stroke-width="0.7"/>
<circle cx="328.2" cy="1019.8" r="3.75" fill="url(#gy)" stroke="#6a6a04" stroke-width="0.7"/>
<circle cx="322.0" cy="1022.4" r="3.75" fill="url(#gy)" stroke="#6a6a04" stroke-width="0.7"/>
<circle cx="312.6" cy="1021.6" r="3.75" fill="url(#gy)" stroke="#6a6a04" stroke-width="0.7"/>
<circle cx="320.9" cy="1022.9" r="3.75" fill="url(#gy)" stroke="#6a6a04" stroke-width="0.7"/>
<circle cx="289.5" cy="1027.0" r="3.75" fill="url(#gy)" stroke="#6a6a04" stroke-width="0.7"/>
<circle cx="327.8" cy="1028.9" r="3.75" fill="url(#gy)" stroke="#6a6a04" stroke-width="0.7"/>
<circle cx="314.5" cy="1027.6" r="3.75" fill="url(#gy)" stroke="#6a6a04" stroke-width="0.7"/>
<circle cx="320.6" cy="1031.6" r="3.75" fill="url(#gy)" stroke="#6a6a04" stroke-width="0.7"/>
<circle cx="307.0" cy="1029.4" r="3.75" fill="url(#gy)" stroke="#6a6a04" stroke-width="0.7"/>
<circle cx="309.4" cy="1033.4" r="3.75" fill="url(#gy)" stroke="#6a6a04" stroke-width="0.7"/>
<circle cx="302.1" cy="1036.0" r="3.75" fill="url(#gy)" stroke="#6a6a04" stroke-width="0.7"/>
<circle cx="311.7" cy="1034.4" r="3.75" fill="url(#gy)" stroke="#6a6a04" stroke-width="0.7"/>
<circle cx="320.3" cy="1033.6" r="3.75" fill="url(#gy)" stroke="#6a6a04" stroke-width="0.7"/>
<circle cx="274.8" cy="1041.9" r="3.75" fill="url(#gy)" stroke="#6a6a04" stroke-width="0.7"/>
<circle cx="304.8" cy="1036.1" r="3.75" fill="url(#gy)" stroke="#6a6a04" stroke-width="0.7"/>
<circle cx="294.6" cy="1043.0" r="3.75" fill="url(#gy)" stroke="#6a6a04" stroke-width="0.7"/>
<circle cx="310.4" cy="1038.7" r="3.75" fill="url(#gy)" stroke="#6a6a04" stroke-width="0.7"/>
<circle cx="294.2" cy="1041.7" r="3.75" fill="url(#gy)" stroke="#6a6a04" stroke-width="0.7"/>
<circle cx="313.2" cy="1044.5" r="3.75" fill="url(#gy)" stroke="#6a6a04" stroke-width="0.7"/>
<circle cx="268.7" cy="1045.3" r="3.75" fill="url(#gy)" stroke="#6a6a04" stroke-width="0.7"/>
<circle cx="274.9" cy="1046.8" r="3.75" fill="url(#gy)" stroke="#6a6a04" stroke-width="0.7"/>
<circle cx="276.3" cy="1046.2" r="3.75" fill="url(#gy)" stroke="#6a6a04" stroke-width="0.7"/>
<circle cx="288.2" cy="1046.7" r="3.75" fill="url(#gy)" stroke="#6a6a04" stroke-width="0.7"/>
<circle cx="302.3" cy="1044.5" r="3.75" fill="url(#gy)" stroke="#6a6a04" stroke-width="0.7"/>
<circle cx="310.6" cy="1044.5" r="3.75" fill="url(#gy)" stroke="#6a6a04" stroke-width="0.7"/>
<circle cx="286.2" cy="1047.2" r="3.75" fill="url(#gy)" stroke="#6a6a04" stroke-width="0.7"/>
<circle cx="295.7" cy="1052.0" r="3.75" fill="url(#gy)" stroke="#6a6a04" stroke-width="0.7"/>
<circle cx="299.9" cy="1049.1" r="3.75" fill="url(#gy)" stroke="#6a6a04" stroke-width="0.7"/>
<circle cx="340.5" cy="986.7" r="3.75" fill="url(#gy)" stroke="#6a6a04" stroke-width="0.7"/>
<circle cx="350.7" cy="991.1" r="3.75" fill="url(#gy)" stroke="#6a6a04" stroke-width="0.7"/>
<circle cx="353.4" cy="989.4" r="3.75" fill="url(#gy)" stroke="#6a6a04" stroke-width="0.7"/>
<circle cx="361.4" cy="986.5" r="3.75" fill="url(#gy)" stroke="#6a6a04" stroke-width="0.7"/>
<circle cx="365.3" cy="985.8" r="3.75" fill="url(#gy)" stroke="#6a6a04" stroke-width="0.7"/>
<circle cx="370.3" cy="984.5" r="3.75" fill="url(#gy)" stroke="#6a6a04" stroke-width="0.7"/>
<circle cx="371.2" cy="987.4" r="3.75" fill="url(#gy)" stroke="#6a6a04" stroke-width="0.7"/>
<circle cx="378.3" cy="987.1" r="3.75" fill="url(#gy)" stroke="#6a6a04" stroke-width="0.7"/>
<circle cx="386.5" cy="991.0" r="3.75" fill="url(#gy)" stroke="#6a6a04" stroke-width="0.7"/>
<circle cx="347.0" cy="993.9" r="3.75" fill="url(#gy)" stroke="#6a6a04" stroke-width="0.7"/>
<circle cx="356.9" cy="997.0" r="3.75" fill="url(#gy)" stroke="#6a6a04" stroke-width="0.7"/>
<circle cx="363.6" cy="995.9" r="3.75" fill="url(#gy)" stroke="#6a6a04" stroke-width="0.7"/>
<circle cx="364.7" cy="991.3" r="3.75" fill="url(#gy)" stroke="#6a6a04" stroke-width="0.7"/>
<circle cx="330.2" cy="1004.6" r="3.75" fill="url(#gy)" stroke="#6a6a04" stroke-width="0.7"/>
<circle cx="340.9" cy="1003.5" r="3.75" fill="url(#gy)" stroke="#6a6a04" stroke-width="0.7"/>
<circle cx="340.7" cy="1001.0" r="3.75" fill="url(#gy)" stroke="#6a6a04" stroke-width="0.7"/>
<circle cx="352.5" cy="998.6" r="3.75" fill="url(#gy)" stroke="#6a6a04" stroke-width="0.7"/>
<circle cx="357.2" cy="1000.1" r="3.75" fill="url(#gy)" stroke="#6a6a04" stroke-width="0.7"/>
<circle cx="369.7" cy="1000.5" r="3.75" fill="url(#gy)" stroke="#6a6a04" stroke-width="0.7"/>
<circle cx="364.2" cy="1003.8" r="3.75" fill="url(#gy)" stroke="#6a6a04" stroke-width="0.7"/>
<circle cx="335.1" cy="1008.2" r="3.75" fill="url(#gy)" stroke="#6a6a04" stroke-width="0.7"/>
<circle cx="333.1" cy="1006.6" r="3.75" fill="url(#gy)" stroke="#6a6a04" stroke-width="0.7"/>
<circle cx="339.9" cy="1008.2" r="3.75" fill="url(#gy)" stroke="#6a6a04" stroke-width="0.7"/>
<circle cx="334.6" cy="1009.0" r="3.75" fill="url(#gy)" stroke="#6a6a04" stroke-width="0.7"/>
<circle cx="341.1" cy="1011.6" r="3.75" fill="url(#gy)" stroke="#6a6a04" stroke-width="0.7"/>
<circle cx="348.5" cy="1006.3" r="3.75" fill="url(#gy)" stroke="#6a6a04" stroke-width="0.7"/>
<circle cx="355.3" cy="1007.9" r="3.75" fill="url(#gy)" stroke="#6a6a04" stroke-width="0.7"/>
<circle cx="332.5" cy="1014.5" r="3.75" fill="url(#gy)" stroke="#6a6a04" stroke-width="0.7"/>
<circle cx="337.0" cy="1012.1" r="3.75" fill="url(#gy)" stroke="#6a6a04" stroke-width="0.7"/>
<circle cx="345.2" cy="1013.7" r="3.75" fill="url(#gy)" stroke="#6a6a04" stroke-width="0.7"/>
<circle cx="352.1" cy="1012.9" r="3.75" fill="url(#gy)" stroke="#6a6a04" stroke-width="0.7"/>
<circle cx="336.2" cy="1019.4" r="3.75" fill="url(#gy)" stroke="#6a6a04" stroke-width="0.7"/>
<circle cx="329.2" cy="1016.8" r="3.75" fill="url(#gy)" stroke="#6a6a04" stroke-width="0.7"/>
<circle cx="337.6" cy="1019.3" r="3.75" fill="url(#gy)" stroke="#6a6a04" stroke-width="0.7"/>
<circle cx="342.2" cy="1019.6" r="3.75" fill="url(#gy)" stroke="#6a6a04" stroke-width="0.7"/>
<circle cx="340.1" cy="1023.2" r="3.75" fill="url(#gy)" stroke="#6a6a04" stroke-width="0.7"/>
<circle cx="342.7" cy="1025.3" r="3.75" fill="url(#gy)" stroke="#6a6a04" stroke-width="0.7"/>
<circle cx="334.2" cy="1024.8" r="3.75" fill="url(#gy)" stroke="#6a6a04" stroke-width="0.7"/>
<circle cx="333.7" cy="1028.6" r="3.75" fill="url(#gy)" stroke="#6a6a04" stroke-width="0.7"/>
<circle cx="278.3" cy="1050.0" r="3.75" fill="url(#gy)" stroke="#6a6a04" stroke-width="0.7"/>
<circle cx="275.9" cy="1046.1" r="3.75" fill="url(#gy)" stroke="#6a6a04" stroke-width="0.7"/>
<circle cx="252.9" cy="1071.1" r="3.75" fill="url(#gy)" stroke="#6a6a04" stroke-width="0.7"/>
<circle cx="244.8" cy="1077.9" r="3.75" fill="url(#gy)" stroke="#6a6a04" stroke-width="0.7"/>
<circle cx="254.6" cy="1069.1" r="3.75" fill="url(#gy)" stroke="#6a6a04" stroke-width="0.7"/>
<circle cx="266.5" cy="1067.6" r="3.75" fill="url(#gy)" stroke="#6a6a04" stroke-width="0.7"/>
<circle cx="273.4" cy="1050.3" r="3.75" fill="url(#gy)" stroke="#6a6a04" stroke-width="0.7"/>
<circle cx="277.3" cy="1051.0" r="3.75" fill="url(#gy)" stroke="#6a6a04" stroke-width="0.7"/>
<circle cx="271.8" cy="1057.3" r="3.75" fill="url(#gy)" stroke="#6a6a04" stroke-width="0.7"/>
<circle cx="270.4" cy="1064.0" r="3.75" fill="url(#gy)" stroke="#6a6a04" stroke-width="0.7"/>
<circle cx="242.1" cy="1081.0" r="3.75" fill="url(#gy)" stroke="#6a6a04" stroke-width="0.7"/>
<circle cx="251.3" cy="1073.2" r="3.75" fill="url(#gy)" stroke="#6a6a04" stroke-width="0.7"/>
<circle cx="258.6" cy="1072.8" r="3.75" fill="url(#gy)" stroke="#6a6a04" stroke-width="0.7"/>
<circle cx="262.8" cy="1075.7" r="3.75" fill="url(#gy)" stroke="#6a6a04" stroke-width="0.7"/>
<circle cx="252.6" cy="1082.4" r="3.75" fill="url(#gy)" stroke="#6a6a04" stroke-width="0.7"/>
<circle cx="258.2" cy="1082.8" r="3.75" fill="url(#gy)" stroke="#6a6a04" stroke-width="0.7"/>
<circle cx="228.2" cy="1086.8" r="3.75" fill="url(#gy)" stroke="#6a6a04" stroke-width="0.7"/>
<circle cx="236.6" cy="1088.8" r="3.75" fill="url(#gy)" stroke="#6a6a04" stroke-width="0.7"/>
<circle cx="243.2" cy="1093.2" r="3.75" fill="url(#gy)" stroke="#6a6a04" stroke-width="0.7"/>
<circle cx="228.0" cy="1093.0" r="3.75" fill="url(#gy)" stroke="#6a6a04" stroke-width="0.7"/>
<circle cx="234.9" cy="1094.0" r="3.75" fill="url(#gy)" stroke="#6a6a04" stroke-width="0.7"/>
<circle cx="238.3" cy="1094.3" r="3.75" fill="url(#gy)" stroke="#6a6a04" stroke-width="0.7"/>
<circle cx="234.4" cy="1090.4" r="3.75" fill="url(#gy)" stroke="#6a6a04" stroke-width="0.7"/>
<circle cx="220.5" cy="1103.4" r="3.75" fill="url(#gy)" stroke="#6a6a04" stroke-width="0.7"/>
<circle cx="199.4" cy="1120.0" r="3.75" fill="url(#gy)" stroke="#6a6a04" stroke-width="0.7"/>
<circle cx="170.0" cy="1133.1" r="3.75" fill="url(#gy)" stroke="#6a6a04" stroke-width="0.7"/>
<circle cx="281.2" cy="1061.3" r="3.75" fill="url(#gy)" stroke="#6a6a04" stroke-width="0.7"/>
<circle cx="473.3" cy="880.6" r="3.75" fill="url(#gp)" stroke="#6e0a40" stroke-width="0.7"/>
<circle cx="459.8" cy="872.9" r="3.75" fill="url(#gp)" stroke="#6e0a40" stroke-width="0.7"/>
<circle cx="466.9" cy="875.2" r="3.75" fill="url(#gp)" stroke="#6e0a40" stroke-width="0.7"/>
<circle cx="473.1" cy="887.8" r="3.75" fill="url(#gp)" stroke="#6e0a40" stroke-width="0.7"/>
<circle cx="451.7" cy="894.1" r="3.75" fill="url(#gp)" stroke="#6e0a40" stroke-width="0.7"/>
<circle cx="445.4" cy="896.7" r="3.75" fill="url(#gp)" stroke="#6e0a40" stroke-width="0.7"/>
<circle cx="437.5" cy="898.2" r="3.75" fill="url(#gp)" stroke="#6e0a40" stroke-width="0.7"/>
<circle cx="453.0" cy="897.9" r="3.75" fill="url(#gp)" stroke="#6e0a40" stroke-width="0.7"/>
<circle cx="421.9" cy="901.1" r="3.75" fill="url(#gp)" stroke="#6e0a40" stroke-width="0.7"/>
<circle cx="435.2" cy="903.7" r="3.75" fill="url(#gp)" stroke="#6e0a40" stroke-width="0.7"/>
<circle cx="442.9" cy="904.3" r="3.75" fill="url(#gp)" stroke="#6e0a40" stroke-width="0.7"/>
<circle cx="448.6" cy="904.9" r="3.75" fill="url(#gp)" stroke="#6e0a40" stroke-width="0.7"/>
<circle cx="423.8" cy="908.1" r="3.75" fill="url(#gp)" stroke="#6e0a40" stroke-width="0.7"/>
<circle cx="428.9" cy="911.3" r="3.75" fill="url(#gp)" stroke="#6e0a40" stroke-width="0.7"/>
<circle cx="437.8" cy="909.4" r="3.75" fill="url(#gp)" stroke="#6e0a40" stroke-width="0.7"/>
<circle cx="432.7" cy="907.5" r="3.75" fill="url(#gp)" stroke="#6e0a40" stroke-width="0.7"/>
<circle cx="463.8" cy="906.6" r="3.75" fill="url(#gp)" stroke="#6e0a40" stroke-width="0.7"/>
<circle cx="446.7" cy="915.7" r="3.75" fill="url(#gp)" stroke="#6e0a40" stroke-width="0.7"/>
<circle cx="428.3" cy="923.3" r="3.75" fill="url(#gp)" stroke="#6e0a40" stroke-width="0.7"/>
<circle cx="422.5" cy="923.3" r="3.75" fill="url(#gp)" stroke="#6e0a40" stroke-width="0.7"/>
<circle cx="418.7" cy="903.0" r="3.75" fill="url(#gp)" stroke="#6e0a40" stroke-width="0.7"/>
<circle cx="416.8" cy="914.4" r="3.75" fill="url(#gp)" stroke="#6e0a40" stroke-width="0.7"/>
<circle cx="413.7" cy="918.3" r="3.75" fill="url(#gp)" stroke="#6e0a40" stroke-width="0.7"/>
<circle cx="408.6" cy="922.1" r="3.75" fill="url(#gp)" stroke="#6e0a40" stroke-width="0.7"/>
<circle cx="416.2" cy="923.3" r="3.75" fill="url(#gp)" stroke="#6e0a40" stroke-width="0.7"/>
<circle cx="395.9" cy="923.3" r="3.75" fill="url(#gp)" stroke="#6e0a40" stroke-width="0.7"/>
<circle cx="399.0" cy="925.9" r="3.75" fill="url(#gp)" stroke="#6e0a40" stroke-width="0.7"/>
<circle cx="380.6" cy="927.8" r="3.75" fill="url(#gp)" stroke="#6e0a40" stroke-width="0.7"/>
<circle cx="413.7" cy="927.1" r="3.75" fill="url(#gp)" stroke="#6e0a40" stroke-width="0.7"/>
<circle cx="403.2" cy="932.6" r="3.75" fill="url(#gp)" stroke="#6e0a40" stroke-width="0.7"/>
<circle cx="414.0" cy="932.0" r="3.75" fill="url(#gp)" stroke="#6e0a40" stroke-width="0.7"/>
<circle cx="417.1" cy="933.9" r="3.75" fill="url(#gp)" stroke="#6e0a40" stroke-width="0.7"/>
<circle cx="404.4" cy="940.2" r="3.75" fill="url(#gp)" stroke="#6e0a40" stroke-width="0.7"/>
<circle cx="407.6" cy="939.6" r="3.75" fill="url(#gp)" stroke="#6e0a40" stroke-width="0.7"/>
<circle cx="400.6" cy="943.4" r="3.75" fill="url(#gp)" stroke="#6e0a40" stroke-width="0.7"/>
<circle cx="426.7" cy="930.1" r="3.75" fill="url(#gp)" stroke="#6e0a40" stroke-width="0.7"/>
<circle cx="374.5" cy="935.2" r="3.75" fill="url(#gp)" stroke="#6e0a40" stroke-width="0.7"/>
<circle cx="383.4" cy="930.7" r="3.75" fill="url(#gp)" stroke="#6e0a40" stroke-width="0.7"/>
<circle cx="384.7" cy="940.2" r="3.75" fill="url(#gp)" stroke="#6e0a40" stroke-width="0.7"/>
<circle cx="391.0" cy="938.3" r="3.75" fill="url(#gp)" stroke="#6e0a40" stroke-width="0.7"/>
<circle cx="373.3" cy="944.7" r="3.75" fill="url(#gp)" stroke="#6e0a40" stroke-width="0.7"/>
<circle cx="370.1" cy="948.5" r="3.75" fill="url(#gp)" stroke="#6e0a40" stroke-width="0.7"/>
<circle cx="364.4" cy="951.7" r="3.75" fill="url(#gp)" stroke="#6e0a40" stroke-width="0.7"/>
<circle cx="359.3" cy="954.2" r="3.75" fill="url(#gp)" stroke="#6e0a40" stroke-width="0.7"/>
<circle cx="379.6" cy="947.2" r="3.75" fill="url(#gp)" stroke="#6e0a40" stroke-width="0.7"/>
<circle cx="384.0" cy="951.0" r="3.75" fill="url(#gp)" stroke="#6e0a40" stroke-width="0.7"/>
<circle cx="388.5" cy="945.3" r="3.75" fill="url(#gp)" stroke="#6e0a40" stroke-width="0.7"/>
<circle cx="397.4" cy="947.2" r="3.75" fill="url(#gp)" stroke="#6e0a40" stroke-width="0.7"/>
<circle cx="365.6" cy="957.4" r="3.75" fill="url(#gp)" stroke="#6e0a40" stroke-width="0.7"/>
<circle cx="371.3" cy="955.5" r="3.75" fill="url(#gp)" stroke="#6e0a40" stroke-width="0.7"/>
<circle cx="377.1" cy="954.2" r="3.75" fill="url(#gp)" stroke="#6e0a40" stroke-width="0.7"/>
<circle cx="357.4" cy="957.4" r="3.75" fill="url(#gp)" stroke="#6e0a40" stroke-width="0.7"/>
<circle cx="382.1" cy="958.0" r="3.75" fill="url(#gp)" stroke="#6e0a40" stroke-width="0.7"/>
<circle cx="346.0" cy="965.6" r="3.75" fill="url(#gp)" stroke="#6e0a40" stroke-width="0.7"/>
<circle cx="355.5" cy="963.1" r="3.75" fill="url(#gp)" stroke="#6e0a40" stroke-width="0.7"/>
<circle cx="361.8" cy="966.3" r="3.75" fill="url(#gp)" stroke="#6e0a40" stroke-width="0.7"/>
<circle cx="366.9" cy="963.1" r="3.75" fill="url(#gp)" stroke="#6e0a40" stroke-width="0.7"/>
<circle cx="373.3" cy="963.7" r="3.75" fill="url(#gp)" stroke="#6e0a40" stroke-width="0.7"/>
<circle cx="352.9" cy="969.4" r="3.75" fill="url(#gp)" stroke="#6e0a40" stroke-width="0.7"/>
<circle cx="359.9" cy="968.8" r="3.75" fill="url(#gp)" stroke="#6e0a40" stroke-width="0.7"/>
<circle cx="339.0" cy="973.9" r="3.75" fill="url(#gp)" stroke="#6e0a40" stroke-width="0.7"/>
<circle cx="350.4" cy="975.2" r="3.75" fill="url(#gp)" stroke="#6e0a40" stroke-width="0.7"/>
<circle cx="356.7" cy="973.3" r="3.75" fill="url(#gp)" stroke="#6e0a40" stroke-width="0.7"/>
<circle cx="331.3" cy="980.9" r="3.75" fill="url(#gp)" stroke="#6e0a40" stroke-width="0.7"/>
<circle cx="337.7" cy="982.1" r="3.75" fill="url(#gp)" stroke="#6e0a40" stroke-width="0.7"/>
<circle cx="346.6" cy="982.1" r="3.75" fill="url(#gp)" stroke="#6e0a40" stroke-width="0.7"/>
<circle cx="314.1" cy="983.2" r="3.75" fill="url(#gp)" stroke="#6e0a40" stroke-width="0.7"/>
<circle cx="319.8" cy="981.9" r="3.75" fill="url(#gp)" stroke="#6e0a40" stroke-width="0.7"/>
<circle cx="319.2" cy="990.8" r="3.75" fill="url(#gp)" stroke="#6e0a40" stroke-width="0.7"/>
<circle cx="313.5" cy="994.6" r="3.75" fill="url(#gp)" stroke="#6e0a40" stroke-width="0.7"/>
<circle cx="321.1" cy="995.9" r="3.75" fill="url(#gp)" stroke="#6e0a40" stroke-width="0.7"/>
<circle cx="298.3" cy="997.8" r="3.75" fill="url(#gp)" stroke="#6e0a40" stroke-width="0.7"/>
<circle cx="309.7" cy="998.4" r="3.75" fill="url(#gp)" stroke="#6e0a40" stroke-width="0.7"/>
<circle cx="311.0" cy="1001.1" r="3.75" fill="url(#gp)" stroke="#6e0a40" stroke-width="0.7"/>
<circle cx="317.3" cy="1001.1" r="3.75" fill="url(#gp)" stroke="#6e0a40" stroke-width="0.7"/>
<circle cx="327.5" cy="1001.1" r="3.75" fill="url(#gp)" stroke="#6e0a40" stroke-width="0.7"/>
<circle cx="305.9" cy="1007.1" r="3.75" fill="url(#gp)" stroke="#6e0a40" stroke-width="0.7"/>
<circle cx="288.1" cy="1009.0" r="3.75" fill="url(#gp)" stroke="#6e0a40" stroke-width="0.7"/>
<circle cx="300.2" cy="1009.0" r="3.75" fill="url(#gp)" stroke="#6e0a40" stroke-width="0.7"/>
<circle cx="312.2" cy="1009.0" r="3.75" fill="url(#gp)" stroke="#6e0a40" stroke-width="0.7"/>
<circle cx="316.0" cy="1009.0" r="3.75" fill="url(#gp)" stroke="#6e0a40" stroke-width="0.7"/>
<circle cx="276.7" cy="1014.7" r="3.75" fill="url(#gp)" stroke="#6e0a40" stroke-width="0.7"/>
<circle cx="288.1" cy="1014.7" r="3.75" fill="url(#gp)" stroke="#6e0a40" stroke-width="0.7"/>
<circle cx="293.2" cy="1014.7" r="3.75" fill="url(#gp)" stroke="#6e0a40" stroke-width="0.7"/>
<circle cx="304.6" cy="1014.7" r="3.75" fill="url(#gp)" stroke="#6e0a40" stroke-width="0.7"/>
<circle cx="298.9" cy="1014.7" r="3.75" fill="url(#gp)" stroke="#6e0a40" stroke-width="0.7"/>
<circle cx="281.7" cy="1016.6" r="3.75" fill="url(#gp)" stroke="#6e0a40" stroke-width="0.7"/>
<circle cx="272.9" cy="1021.0" r="3.75" fill="url(#gp)" stroke="#6e0a40" stroke-width="0.7"/>
<circle cx="277.9" cy="1021.0" r="3.75" fill="url(#gp)" stroke="#6e0a40" stroke-width="0.7"/>
<circle cx="284.9" cy="1021.0" r="3.75" fill="url(#gp)" stroke="#6e0a40" stroke-width="0.7"/>
<circle cx="291.3" cy="1021.0" r="3.75" fill="url(#gp)" stroke="#6e0a40" stroke-width="0.7"/>
<circle cx="297.0" cy="1021.0" r="3.75" fill="url(#gp)" stroke="#6e0a40" stroke-width="0.7"/>
<circle cx="265.2" cy="1027.4" r="3.75" fill="url(#gp)" stroke="#6e0a40" stroke-width="0.7"/>
<circle cx="276.7" cy="1027.4" r="3.75" fill="url(#gp)" stroke="#6e0a40" stroke-width="0.7"/>
<circle cx="253.8" cy="1028.7" r="3.75" fill="url(#gp)" stroke="#6e0a40" stroke-width="0.7"/>
<circle cx="271.6" cy="1028.7" r="3.75" fill="url(#gp)" stroke="#6e0a40" stroke-width="0.7"/>
<circle cx="282.4" cy="1028.7" r="3.75" fill="url(#gp)" stroke="#6e0a40" stroke-width="0.7"/>
<circle cx="264.0" cy="1034.4" r="3.75" fill="url(#gp)" stroke="#6e0a40" stroke-width="0.7"/>
<circle cx="269.0" cy="1034.4" r="3.75" fill="url(#gp)" stroke="#6e0a40" stroke-width="0.7"/>
<circle cx="275.4" cy="1034.4" r="3.75" fill="url(#gp)" stroke="#6e0a40" stroke-width="0.7"/>
<circle cx="251.9" cy="1036.0" r="3.75" fill="url(#gp)" stroke="#6e0a40" stroke-width="0.7"/>
<circle cx="269.0" cy="1038.8" r="3.75" fill="url(#gp)" stroke="#6e0a40" stroke-width="0.7"/>
<circle cx="275.4" cy="1038.8" r="3.75" fill="url(#gp)" stroke="#6e0a40" stroke-width="0.7"/>
<circle cx="257.6" cy="1040.7" r="3.75" fill="url(#gp)" stroke="#6e0a40" stroke-width="0.7"/>
<circle cx="262.7" cy="1043.3" r="3.75" fill="url(#gp)" stroke="#6e0a40" stroke-width="0.7"/>
<circle cx="253.1" cy="1044.0" r="3.75" fill="url(#gp)" stroke="#6e0a40" stroke-width="0.7"/>
<circle cx="268.2" cy="1047.0" r="3.75" fill="url(#gp)" stroke="#6e0a40" stroke-width="0.7"/>
<circle cx="258.9" cy="1049.0" r="3.75" fill="url(#gp)" stroke="#6e0a40" stroke-width="0.7"/>
<circle cx="332.6" cy="986.3" r="3.75" fill="url(#gp)" stroke="#6e0a40" stroke-width="0.7"/>
<circle cx="339.0" cy="985.7" r="3.75" fill="url(#gp)" stroke="#6e0a40" stroke-width="0.7"/>
<circle cx="330.1" cy="988.3" r="3.75" fill="url(#gp)" stroke="#6e0a40" stroke-width="0.7"/>
<circle cx="330.7" cy="999.0" r="3.75" fill="url(#gp)" stroke="#6e0a40" stroke-width="0.7"/>
<circle cx="337.7" cy="990.8" r="3.75" fill="url(#gp)" stroke="#6e0a40" stroke-width="0.7"/>
<circle cx="247.4" cy="1038.3" r="3.75" fill="url(#gp)" stroke="#6e0a40" stroke-width="0.7"/>
<circle cx="248.5" cy="1046.1" r="3.75" fill="url(#gp)" stroke="#6e0a40" stroke-width="0.7"/>
<circle cx="237.0" cy="1049.0" r="3.75" fill="url(#gp)" stroke="#6e0a40" stroke-width="0.7"/>
<circle cx="259.7" cy="1045.1" r="3.75" fill="url(#gp)" stroke="#6e0a40" stroke-width="0.7"/>
<circle cx="273.7" cy="1043.8" r="3.75" fill="url(#gp)" stroke="#6e0a40" stroke-width="0.7"/>
<circle cx="277.5" cy="1047.0" r="3.75" fill="url(#gp)" stroke="#6e0a40" stroke-width="0.7"/>
<circle cx="240.6" cy="1054.0" r="3.75" fill="url(#gp)" stroke="#6e0a40" stroke-width="0.7"/>
<circle cx="245.1" cy="1055.2" r="3.75" fill="url(#gp)" stroke="#6e0a40" stroke-width="0.7"/>
<circle cx="238.1" cy="1059.0" r="3.75" fill="url(#gp)" stroke="#6e0a40" stroke-width="0.7"/>
<circle cx="243.2" cy="1060.3" r="3.75" fill="url(#gp)" stroke="#6e0a40" stroke-width="0.7"/>
<circle cx="249.5" cy="1057.8" r="3.75" fill="url(#gp)" stroke="#6e0a40" stroke-width="0.7"/>
<circle cx="250.8" cy="1064.1" r="3.75" fill="url(#gp)" stroke="#6e0a40" stroke-width="0.7"/>
<circle cx="257.1" cy="1062.9" r="3.75" fill="url(#gp)" stroke="#6e0a40" stroke-width="0.7"/>
<circle cx="217.8" cy="1062.9" r="3.75" fill="url(#gp)" stroke="#6e0a40" stroke-width="0.7"/>
<circle cx="222.9" cy="1064.1" r="3.75" fill="url(#gp)" stroke="#6e0a40" stroke-width="0.7"/>
<circle cx="227.3" cy="1065.4" r="3.75" fill="url(#gp)" stroke="#6e0a40" stroke-width="0.7"/>
<circle cx="233.0" cy="1064.1" r="3.75" fill="url(#gp)" stroke="#6e0a40" stroke-width="0.7"/>
<circle cx="212.7" cy="1069.8" r="3.75" fill="url(#gp)" stroke="#6e0a40" stroke-width="0.7"/>
<circle cx="225.4" cy="1071.1" r="3.75" fill="url(#gp)" stroke="#6e0a40" stroke-width="0.7"/>
<circle cx="229.2" cy="1067.3" r="3.75" fill="url(#gp)" stroke="#6e0a40" stroke-width="0.7"/>
<circle cx="235.6" cy="1067.3" r="3.75" fill="url(#gp)" stroke="#6e0a40" stroke-width="0.7"/>
<circle cx="239.4" cy="1070.5" r="3.75" fill="url(#gp)" stroke="#6e0a40" stroke-width="0.7"/>
<circle cx="243.2" cy="1066.7" r="3.75" fill="url(#gp)" stroke="#6e0a40" stroke-width="0.7"/>
<circle cx="207.6" cy="1077.5" r="3.75" fill="url(#gp)" stroke="#6e0a40" stroke-width="0.7"/>
<circle cx="217.8" cy="1076.8" r="3.75" fill="url(#gp)" stroke="#6e0a40" stroke-width="0.7"/>
<circle cx="226.7" cy="1078.1" r="3.75" fill="url(#gp)" stroke="#6e0a40" stroke-width="0.7"/>
<circle cx="222.9" cy="1072.4" r="3.75" fill="url(#gp)" stroke="#6e0a40" stroke-width="0.7"/>
<circle cx="202.5" cy="1083.2" r="3.75" fill="url(#gp)" stroke="#6e0a40" stroke-width="0.7"/>
<circle cx="223.5" cy="1084.4" r="3.75" fill="url(#gp)" stroke="#6e0a40" stroke-width="0.7"/>
<circle cx="205.1" cy="1079.4" r="3.75" fill="url(#gp)" stroke="#6e0a40" stroke-width="0.7"/>
<circle cx="203.8" cy="1090.8" r="3.75" fill="url(#gp)" stroke="#6e0a40" stroke-width="0.7"/>
<circle cx="210.2" cy="1090.2" r="3.75" fill="url(#gp)" stroke="#6e0a40" stroke-width="0.7"/>
<circle cx="216.5" cy="1092.1" r="3.75" fill="url(#gp)" stroke="#6e0a40" stroke-width="0.7"/>
<circle cx="206.3" cy="1095.9" r="3.75" fill="url(#gp)" stroke="#6e0a40" stroke-width="0.7"/>
<circle cx="195.7" cy="1091.9" r="3.75" fill="url(#gp)" stroke="#6e0a40" stroke-width="0.7"/>
<circle cx="176.7" cy="1103.9" r="3.75" fill="url(#gp)" stroke="#6e0a40" stroke-width="0.7"/>
<circle cx="188.1" cy="1106.2" r="3.75" fill="url(#gp)" stroke="#6e0a40" stroke-width="0.7"/>
<circle cx="191.9" cy="1107.1" r="3.75" fill="url(#gp)" stroke="#6e0a40" stroke-width="0.7"/>
<circle cx="198.6" cy="1102.4" r="3.75" fill="url(#gp)" stroke="#6e0a40" stroke-width="0.7"/>
<circle cx="207.1" cy="1110.0" r="3.75" fill="url(#gp)" stroke="#6e0a40" stroke-width="0.7"/>
<circle cx="170.0" cy="1113.4" r="3.75" fill="url(#gp)" stroke="#6e0a40" stroke-width="0.7"/>
<circle cx="179.5" cy="1115.3" r="3.75" fill="url(#gp)" stroke="#6e0a40" stroke-width="0.7"/>
<circle cx="186.2" cy="1119.1" r="3.75" fill="url(#gp)" stroke="#6e0a40" stroke-width="0.7"/>
<circle cx="158.6" cy="1116.7" r="3.75" fill="url(#gp)" stroke="#6e0a40" stroke-width="0.7"/>
<circle cx="154.8" cy="1122.4" r="3.75" fill="url(#gp)" stroke="#6e0a40" stroke-width="0.7"/>
<circle cx="171.0" cy="1119.5" r="3.75" fill="url(#gp)" stroke="#6e0a40" stroke-width="0.7"/>
<circle cx="149.0" cy="1127.1" r="3.75" fill="url(#gp)" stroke="#6e0a40" stroke-width="0.7"/>
<circle cx="140.5" cy="1129.0" r="3.75" fill="url(#gp)" stroke="#6e0a40" stroke-width="0.7"/>
<circle cx="163.3" cy="1126.2" r="3.75" fill="url(#gp)" stroke="#6e0a40" stroke-width="0.7"/>
<circle cx="174.8" cy="1127.1" r="3.75" fill="url(#gp)" stroke="#6e0a40" stroke-width="0.7"/>
<circle cx="159.5" cy="1127.1" r="3.75" fill="url(#gp)" stroke="#6e0a40" stroke-width="0.7"/>
<circle cx="169.0" cy="1133.8" r="3.75" fill="url(#gp)" stroke="#6e0a40" stroke-width="0.7"/>
<circle cx="158.6" cy="1137.6" r="3.75" fill="url(#gp)" stroke="#6e0a40" stroke-width="0.7"/>
<circle cx="133.8" cy="1142.4" r="3.75" fill="url(#gp)" stroke="#6e0a40" stroke-width="0.7"/>
<circle cx="140.5" cy="1147.1" r="3.75" fill="url(#gp)" stroke="#6e0a40" stroke-width="0.7"/>
<circle cx="136.7" cy="1151.0" r="3.75" fill="url(#gp)" stroke="#6e0a40" stroke-width="0.7"/>
<circle cx="155.7" cy="1146.2" r="3.75" fill="url(#gp)" stroke="#6e0a40" stroke-width="0.7"/>
<circle cx="121.8" cy="1154.9" r="3.75" fill="url(#gp)" stroke="#6e0a40" stroke-width="0.7"/>
<circle cx="133.5" cy="1168.6" r="3.75" fill="url(#gp)" stroke="#6e0a40" stroke-width="0.7"/>
<circle cx="88.4" cy="1187.6" r="3.75" fill="url(#gp)" stroke="#6e0a40" stroke-width="0.7"/>
<circle cx="456.2" cy="784.8" r="3.75" fill="url(#gb)" stroke="#2e1404" stroke-width="0.7"/>
<circle cx="521.0" cy="798.6" r="3.75" fill="url(#gb)" stroke="#2e1404" stroke-width="0.7"/>
<circle cx="464.0" cy="830.0" r="3.75" fill="url(#gb)" stroke="#2e1404" stroke-width="0.7"/>
<circle cx="456.7" cy="851.4" r="3.75" fill="url(#gb)" stroke="#2e1404" stroke-width="0.7"/>
<circle cx="458.1" cy="858.1" r="3.75" fill="url(#gb)" stroke="#2e1404" stroke-width="0.7"/>
<circle cx="486.4" cy="852.1" r="3.75" fill="url(#gb)" stroke="#2e1404" stroke-width="0.7"/>
<circle cx="430.2" cy="918.3" r="3.75" fill="url(#gb)" stroke="#2e1404" stroke-width="0.7"/>
<circle cx="400.3" cy="881.2" r="3.75" fill="url(#gb)" stroke="#2e1404" stroke-width="0.7"/>
<circle cx="388.3" cy="900.5" r="3.75" fill="url(#gb)" stroke="#2e1404" stroke-width="0.7"/>
<circle cx="400.7" cy="897.3" r="3.75" fill="url(#gb)" stroke="#2e1404" stroke-width="0.7"/>
<circle cx="401.6" cy="902.4" r="3.75" fill="url(#gb)" stroke="#2e1404" stroke-width="0.7"/>
<circle cx="399.4" cy="907.8" r="3.75" fill="url(#gb)" stroke="#2e1404" stroke-width="0.7"/>
<circle cx="410.5" cy="905.3" r="3.75" fill="url(#gb)" stroke="#2e1404" stroke-width="0.7"/>
<circle cx="387.6" cy="914.2" r="3.75" fill="url(#gb)" stroke="#2e1404" stroke-width="0.7"/>
<circle cx="407.3" cy="915.1" r="3.75" fill="url(#gb)" stroke="#2e1404" stroke-width="0.7"/>
<circle cx="361.6" cy="920.8" r="3.75" fill="url(#gb)" stroke="#2e1404" stroke-width="0.7"/>
<circle cx="366.0" cy="924.0" r="3.75" fill="url(#gb)" stroke="#2e1404" stroke-width="0.7"/>
<circle cx="408.9" cy="934.1" r="3.75" fill="url(#gb)" stroke="#2e1404" stroke-width="0.7"/>
<circle cx="336.7" cy="926.9" r="3.75" fill="url(#gb)" stroke="#2e1404" stroke-width="0.7"/>
<circle cx="354.5" cy="935.2" r="3.75" fill="url(#gb)" stroke="#2e1404" stroke-width="0.7"/>
<circle cx="359.3" cy="937.7" r="3.75" fill="url(#gb)" stroke="#2e1404" stroke-width="0.7"/>
<circle cx="355.5" cy="940.9" r="3.75" fill="url(#gb)" stroke="#2e1404" stroke-width="0.7"/>
<circle cx="369.4" cy="936.4" r="3.75" fill="url(#gb)" stroke="#2e1404" stroke-width="0.7"/>
<circle cx="368.2" cy="940.9" r="3.75" fill="url(#gb)" stroke="#2e1404" stroke-width="0.7"/>
<circle cx="394.2" cy="931.3" r="3.75" fill="url(#gb)" stroke="#2e1404" stroke-width="0.7"/>
<circle cx="397.4" cy="939.6" r="3.75" fill="url(#gb)" stroke="#2e1404" stroke-width="0.7"/>
<circle cx="335.8" cy="945.3" r="3.75" fill="url(#gb)" stroke="#2e1404" stroke-width="0.7"/>
<circle cx="340.9" cy="944.7" r="3.75" fill="url(#gb)" stroke="#2e1404" stroke-width="0.7"/>
<circle cx="345.3" cy="946.0" r="3.75" fill="url(#gb)" stroke="#2e1404" stroke-width="0.7"/>
<circle cx="339.6" cy="951.0" r="3.75" fill="url(#gb)" stroke="#2e1404" stroke-width="0.7"/>
<circle cx="362.5" cy="944.7" r="3.75" fill="url(#gb)" stroke="#2e1404" stroke-width="0.7"/>
<circle cx="356.1" cy="952.9" r="3.75" fill="url(#gb)" stroke="#2e1404" stroke-width="0.7"/>
<circle cx="390.4" cy="949.1" r="3.75" fill="url(#gb)" stroke="#2e1404" stroke-width="0.7"/>
<circle cx="344.7" cy="958.7" r="3.75" fill="url(#gb)" stroke="#2e1404" stroke-width="0.7"/>
<circle cx="326.3" cy="963.1" r="3.75" fill="url(#gb)" stroke="#2e1404" stroke-width="0.7"/>
<circle cx="333.3" cy="961.8" r="3.75" fill="url(#gb)" stroke="#2e1404" stroke-width="0.7"/>
<circle cx="332.0" cy="965.6" r="3.75" fill="url(#gb)" stroke="#2e1404" stroke-width="0.7"/>
<circle cx="328.8" cy="971.3" r="3.75" fill="url(#gb)" stroke="#2e1404" stroke-width="0.7"/>
<circle cx="332.0" cy="972.0" r="3.75" fill="url(#gb)" stroke="#2e1404" stroke-width="0.7"/>
<circle cx="343.4" cy="975.8" r="3.75" fill="url(#gb)" stroke="#2e1404" stroke-width="0.7"/>
<circle cx="350.4" cy="979.6" r="3.75" fill="url(#gb)" stroke="#2e1404" stroke-width="0.7"/>
<circle cx="293.2" cy="949.1" r="3.75" fill="url(#gb)" stroke="#2e1404" stroke-width="0.7"/>
<circle cx="297.2" cy="955.2" r="3.75" fill="url(#gb)" stroke="#2e1404" stroke-width="0.7"/>
<circle cx="315.4" cy="955.9" r="3.75" fill="url(#gb)" stroke="#2e1404" stroke-width="0.7"/>
<circle cx="301.0" cy="966.4" r="3.75" fill="url(#gb)" stroke="#2e1404" stroke-width="0.7"/>
<circle cx="316.7" cy="966.7" r="3.75" fill="url(#gb)" stroke="#2e1404" stroke-width="0.7"/>
<circle cx="318.6" cy="977.8" r="3.75" fill="url(#gb)" stroke="#2e1404" stroke-width="0.7"/>
<circle cx="294.4" cy="983.8" r="3.75" fill="url(#gb)" stroke="#2e1404" stroke-width="0.7"/>
<circle cx="291.3" cy="987.2" r="3.75" fill="url(#gb)" stroke="#2e1404" stroke-width="0.7"/>
<circle cx="304.0" cy="987.6" r="3.75" fill="url(#gb)" stroke="#2e1404" stroke-width="0.7"/>
<circle cx="308.4" cy="990.2" r="3.75" fill="url(#gb)" stroke="#2e1404" stroke-width="0.7"/>
<circle cx="314.8" cy="988.5" r="3.75" fill="url(#gb)" stroke="#2e1404" stroke-width="0.7"/>
<circle cx="293.8" cy="993.1" r="3.75" fill="url(#gb)" stroke="#2e1404" stroke-width="0.7"/>
<circle cx="299.5" cy="992.1" r="3.75" fill="url(#gb)" stroke="#2e1404" stroke-width="0.7"/>
<circle cx="264.6" cy="991.8" r="3.75" fill="url(#gb)" stroke="#2e1404" stroke-width="0.7"/>
<circle cx="249.6" cy="996.0" r="3.75" fill="url(#gb)" stroke="#2e1404" stroke-width="0.7"/>
<circle cx="284.3" cy="998.4" r="3.75" fill="url(#gb)" stroke="#2e1404" stroke-width="0.7"/>
<circle cx="284.3" cy="1001.1" r="3.75" fill="url(#gb)" stroke="#2e1404" stroke-width="0.7"/>
<circle cx="290.6" cy="1001.1" r="3.75" fill="url(#gb)" stroke="#2e1404" stroke-width="0.7"/>
<circle cx="303.3" cy="1001.1" r="3.75" fill="url(#gb)" stroke="#2e1404" stroke-width="0.7"/>
<circle cx="324.9" cy="1001.1" r="3.75" fill="url(#gb)" stroke="#2e1404" stroke-width="0.7"/>
<circle cx="294.4" cy="1005.2" r="3.75" fill="url(#gb)" stroke="#2e1404" stroke-width="0.7"/>
<circle cx="277.3" cy="1007.1" r="3.75" fill="url(#gb)" stroke="#2e1404" stroke-width="0.7"/>
<circle cx="281.7" cy="1007.1" r="3.75" fill="url(#gb)" stroke="#2e1404" stroke-width="0.7"/>
<circle cx="293.2" cy="1009.0" r="3.75" fill="url(#gb)" stroke="#2e1404" stroke-width="0.7"/>
<circle cx="271.0" cy="1012.8" r="3.75" fill="url(#gb)" stroke="#2e1404" stroke-width="0.7"/>
<circle cx="255.7" cy="1021.9" r="3.75" fill="url(#gb)" stroke="#2e1404" stroke-width="0.7"/>
<circle cx="290.6" cy="1027.4" r="3.75" fill="url(#gb)" stroke="#2e1404" stroke-width="0.7"/>
<circle cx="288.1" cy="1030.6" r="3.75" fill="url(#gb)" stroke="#2e1404" stroke-width="0.7"/>
<circle cx="257.6" cy="1032.5" r="3.75" fill="url(#gb)" stroke="#2e1404" stroke-width="0.7"/>
<circle cx="255.5" cy="1053.7" r="3.75" fill="url(#gb)" stroke="#2e1404" stroke-width="0.7"/>
<circle cx="332.6" cy="992.7" r="3.75" fill="url(#gb)" stroke="#2e1404" stroke-width="0.7"/>
<circle cx="225.8" cy="990.6" r="3.75" fill="url(#gb)" stroke="#2e1404" stroke-width="0.7"/>
<circle cx="177.3" cy="1005.9" r="3.75" fill="url(#gb)" stroke="#2e1404" stroke-width="0.7"/>
<circle cx="234.7" cy="1003.7" r="3.75" fill="url(#gb)" stroke="#2e1404" stroke-width="0.7"/>
<circle cx="232.4" cy="1017.7" r="3.75" fill="url(#gb)" stroke="#2e1404" stroke-width="0.7"/>
<circle cx="242.6" cy="1024.5" r="3.75" fill="url(#gb)" stroke="#2e1404" stroke-width="0.7"/>
<circle cx="209.0" cy="1025.6" r="3.75" fill="url(#gb)" stroke="#2e1404" stroke-width="0.7"/>
<circle cx="215.3" cy="1040.9" r="3.75" fill="url(#gb)" stroke="#2e1404" stroke-width="0.7"/>
<circle cx="229.9" cy="1038.5" r="3.75" fill="url(#gb)" stroke="#2e1404" stroke-width="0.7"/>
<circle cx="230.7" cy="1044.7" r="3.75" fill="url(#gb)" stroke="#2e1404" stroke-width="0.7"/>
<circle cx="235.6" cy="1044.7" r="3.75" fill="url(#gb)" stroke="#2e1404" stroke-width="0.7"/>
<circle cx="229.0" cy="1048.4" r="3.75" fill="url(#gb)" stroke="#2e1404" stroke-width="0.7"/>
<circle cx="229.2" cy="1051.4" r="3.75" fill="url(#gb)" stroke="#2e1404" stroke-width="0.7"/>
<circle cx="206.3" cy="1056.5" r="3.75" fill="url(#gb)" stroke="#2e1404" stroke-width="0.7"/>
<circle cx="211.4" cy="1059.7" r="3.75" fill="url(#gb)" stroke="#2e1404" stroke-width="0.7"/>
<circle cx="219.7" cy="1057.8" r="3.75" fill="url(#gb)" stroke="#2e1404" stroke-width="0.7"/>
<circle cx="210.2" cy="1066.0" r="3.75" fill="url(#gb)" stroke="#2e1404" stroke-width="0.7"/>
<circle cx="255.2" cy="1059.0" r="3.75" fill="url(#gb)" stroke="#2e1404" stroke-width="0.7"/>
<circle cx="232.4" cy="1073.3" r="3.75" fill="url(#gb)" stroke="#2e1404" stroke-width="0.7"/>
<circle cx="212.7" cy="1084.4" r="3.75" fill="url(#gb)" stroke="#2e1404" stroke-width="0.7"/>
<circle cx="138.6" cy="1073.4" r="3.75" fill="url(#gb)" stroke="#2e1404" stroke-width="0.7"/>
<circle cx="164.7" cy="1082.4" r="3.75" fill="url(#gb)" stroke="#2e1404" stroke-width="0.7"/>
<circle cx="186.2" cy="1089.0" r="3.75" fill="url(#gb)" stroke="#2e1404" stroke-width="0.7"/>
<circle cx="131.9" cy="1114.8" r="3.75" fill="url(#gb)" stroke="#2e1404" stroke-width="0.7"/>
<circle cx="150.0" cy="1114.8" r="3.75" fill="url(#gb)" stroke="#2e1404" stroke-width="0.7"/>
<circle cx="98.6" cy="1162.9" r="3.75" fill="url(#gb)" stroke="#2e1404" stroke-width="0.7"/>
<circle cx="102.4" cy="1160.3" r="3.75" fill="url(#gb)" stroke="#2e1404" stroke-width="0.7"/>
<circle cx="122.1" cy="1167.9" r="3.75" fill="url(#gb)" stroke="#2e1404" stroke-width="0.7"/>
<circle cx="146.2" cy="1164.1" r="3.75" fill="url(#gb)" stroke="#2e1404" stroke-width="0.7"/>
<circle cx="138.3" cy="1173.7" r="3.75" fill="url(#gb)" stroke="#2e1404" stroke-width="0.7"/>
<circle cx="562.1" cy="855.2" r="3.75" fill="url(#gy)" stroke="#6a6a04" stroke-width="0.7"/>
<circle cx="503.3" cy="870.0" r="3.75" fill="url(#gy)" stroke="#6a6a04" stroke-width="0.7"/>
<circle cx="508.6" cy="871.2" r="3.75" fill="url(#gy)" stroke="#6a6a04" stroke-width="0.7"/>
<circle cx="489.6" cy="891.0" r="3.75" fill="url(#gy)" stroke="#6a6a04" stroke-width="0.7"/>
<circle cx="464.4" cy="900.5" r="3.75" fill="url(#gy)" stroke="#6a6a04" stroke-width="0.7"/>
<circle cx="468.3" cy="903.7" r="3.75" fill="url(#gy)" stroke="#6a6a04" stroke-width="0.7"/>
<circle cx="473.3" cy="902.4" r="3.75" fill="url(#gy)" stroke="#6a6a04" stroke-width="0.7"/>
<circle cx="470.8" cy="905.6" r="3.75" fill="url(#gy)" stroke="#6a6a04" stroke-width="0.7"/>
<circle cx="447.9" cy="910.4" r="3.75" fill="url(#gy)" stroke="#6a6a04" stroke-width="0.7"/>
<circle cx="453.7" cy="910.4" r="3.75" fill="url(#gy)" stroke="#6a6a04" stroke-width="0.7"/>
<circle cx="435.2" cy="915.7" r="3.75" fill="url(#gy)" stroke="#6a6a04" stroke-width="0.7"/>
<circle cx="440.3" cy="918.0" r="3.75" fill="url(#gy)" stroke="#6a6a04" stroke-width="0.7"/>
<circle cx="444.1" cy="920.2" r="3.75" fill="url(#gy)" stroke="#6a6a04" stroke-width="0.7"/>
<circle cx="450.5" cy="918.0" r="3.75" fill="url(#gy)" stroke="#6a6a04" stroke-width="0.7"/>
<circle cx="456.8" cy="918.0" r="3.75" fill="url(#gy)" stroke="#6a6a04" stroke-width="0.7"/>
<circle cx="460.6" cy="917.0" r="3.75" fill="url(#gy)" stroke="#6a6a04" stroke-width="0.7"/>
<circle cx="466.3" cy="915.1" r="3.75" fill="url(#gy)" stroke="#6a6a04" stroke-width="0.7"/>
<circle cx="476.9" cy="916.7" r="3.75" fill="url(#gy)" stroke="#6a6a04" stroke-width="0.7"/>
<circle cx="437.1" cy="923.3" r="3.75" fill="url(#gy)" stroke="#6a6a04" stroke-width="0.7"/>
<circle cx="443.5" cy="925.9" r="3.75" fill="url(#gy)" stroke="#6a6a04" stroke-width="0.7"/>
<circle cx="450.5" cy="923.3" r="3.75" fill="url(#gy)" stroke="#6a6a04" stroke-width="0.7"/>
<circle cx="454.4" cy="928.8" r="3.75" fill="url(#gy)" stroke="#6a6a04" stroke-width="0.7"/>
<circle cx="434.0" cy="928.4" r="3.75" fill="url(#gy)" stroke="#6a6a04" stroke-width="0.7"/>
<circle cx="422.2" cy="930.7" r="3.75" fill="url(#gy)" stroke="#6a6a04" stroke-width="0.7"/>
<circle cx="436.8" cy="930.7" r="3.75" fill="url(#gy)" stroke="#6a6a04" stroke-width="0.7"/>
<circle cx="423.5" cy="937.7" r="3.75" fill="url(#gy)" stroke="#6a6a04" stroke-width="0.7"/>
<circle cx="427.9" cy="935.2" r="3.75" fill="url(#gy)" stroke="#6a6a04" stroke-width="0.7"/>
<circle cx="441.3" cy="934.5" r="3.75" fill="url(#gy)" stroke="#6a6a04" stroke-width="0.7"/>
<circle cx="441.9" cy="939.6" r="3.75" fill="url(#gy)" stroke="#6a6a04" stroke-width="0.7"/>
<circle cx="447.0" cy="942.5" r="3.75" fill="url(#gy)" stroke="#6a6a04" stroke-width="0.7"/>
<circle cx="432.4" cy="942.1" r="3.75" fill="url(#gy)" stroke="#6a6a04" stroke-width="0.7"/>
<circle cx="420.3" cy="941.5" r="3.75" fill="url(#gy)" stroke="#6a6a04" stroke-width="0.7"/>
<circle cx="412.7" cy="941.5" r="3.75" fill="url(#gy)" stroke="#6a6a04" stroke-width="0.7"/>
<circle cx="407.6" cy="946.6" r="3.75" fill="url(#gy)" stroke="#6a6a04" stroke-width="0.7"/>
<circle cx="414.0" cy="947.2" r="3.75" fill="url(#gy)" stroke="#6a6a04" stroke-width="0.7"/>
<circle cx="419.7" cy="949.8" r="3.75" fill="url(#gy)" stroke="#6a6a04" stroke-width="0.7"/>
<circle cx="427.9" cy="949.8" r="3.75" fill="url(#gy)" stroke="#6a6a04" stroke-width="0.7"/>
<circle cx="401.9" cy="953.6" r="3.75" fill="url(#gy)" stroke="#6a6a04" stroke-width="0.7"/>
<circle cx="410.8" cy="957.4" r="3.75" fill="url(#gy)" stroke="#6a6a04" stroke-width="0.7"/>
<circle cx="406.3" cy="958.0" r="3.75" fill="url(#gy)" stroke="#6a6a04" stroke-width="0.7"/>
<circle cx="412.7" cy="953.6" r="3.75" fill="url(#gy)" stroke="#6a6a04" stroke-width="0.7"/>
<circle cx="405.1" cy="962.5" r="3.75" fill="url(#gy)" stroke="#6a6a04" stroke-width="0.7"/>
<circle cx="408.9" cy="964.4" r="3.75" fill="url(#gy)" stroke="#6a6a04" stroke-width="0.7"/>
<circle cx="402.5" cy="966.9" r="3.75" fill="url(#gy)" stroke="#6a6a04" stroke-width="0.7"/>
<circle cx="415.2" cy="968.2" r="3.75" fill="url(#gy)" stroke="#6a6a04" stroke-width="0.7"/>
<circle cx="410.2" cy="970.7" r="3.75" fill="url(#gy)" stroke="#6a6a04" stroke-width="0.7"/>
<circle cx="401.3" cy="973.3" r="3.75" fill="url(#gy)" stroke="#6a6a04" stroke-width="0.7"/>
<circle cx="404.4" cy="975.8" r="3.75" fill="url(#gy)" stroke="#6a6a04" stroke-width="0.7"/>
<circle cx="400.6" cy="979.6" r="3.75" fill="url(#gy)" stroke="#6a6a04" stroke-width="0.7"/>
<circle cx="392.9" cy="953.3" r="3.75" fill="url(#gy)" stroke="#6a6a04" stroke-width="0.7"/>
<circle cx="398.7" cy="954.2" r="3.75" fill="url(#gy)" stroke="#6a6a04" stroke-width="0.7"/>
<circle cx="386.0" cy="963.1" r="3.75" fill="url(#gy)" stroke="#6a6a04" stroke-width="0.7"/>
<circle cx="391.0" cy="959.9" r="3.75" fill="url(#gy)" stroke="#6a6a04" stroke-width="0.7"/>
<circle cx="396.1" cy="958.7" r="3.75" fill="url(#gy)" stroke="#6a6a04" stroke-width="0.7"/>
<circle cx="399.3" cy="963.1" r="3.75" fill="url(#gy)" stroke="#6a6a04" stroke-width="0.7"/>
<circle cx="380.9" cy="966.9" r="3.75" fill="url(#gy)" stroke="#6a6a04" stroke-width="0.7"/>
<circle cx="389.8" cy="966.9" r="3.75" fill="url(#gy)" stroke="#6a6a04" stroke-width="0.7"/>
<circle cx="396.1" cy="966.9" r="3.75" fill="url(#gy)" stroke="#6a6a04" stroke-width="0.7"/>
<circle cx="365.6" cy="972.0" r="3.75" fill="url(#gy)" stroke="#6a6a04" stroke-width="0.7"/>
<circle cx="370.1" cy="972.0" r="3.75" fill="url(#gy)" stroke="#6a6a04" stroke-width="0.7"/>
<circle cx="375.8" cy="969.4" r="3.75" fill="url(#gy)" stroke="#6a6a04" stroke-width="0.7"/>
<circle cx="382.1" cy="970.7" r="3.75" fill="url(#gy)" stroke="#6a6a04" stroke-width="0.7"/>
<circle cx="392.3" cy="970.7" r="3.75" fill="url(#gy)" stroke="#6a6a04" stroke-width="0.7"/>
<circle cx="398.7" cy="972.0" r="3.75" fill="url(#gy)" stroke="#6a6a04" stroke-width="0.7"/>
<circle cx="360.6" cy="979.6" r="3.75" fill="url(#gy)" stroke="#6a6a04" stroke-width="0.7"/>
<circle cx="366.9" cy="978.3" r="3.75" fill="url(#gy)" stroke="#6a6a04" stroke-width="0.7"/>
<circle cx="372.0" cy="977.1" r="3.75" fill="url(#gy)" stroke="#6a6a04" stroke-width="0.7"/>
<circle cx="378.3" cy="975.8" r="3.75" fill="url(#gy)" stroke="#6a6a04" stroke-width="0.7"/>
<circle cx="383.4" cy="978.3" r="3.75" fill="url(#gy)" stroke="#6a6a04" stroke-width="0.7"/>
<circle cx="389.8" cy="975.8" r="3.75" fill="url(#gy)" stroke="#6a6a04" stroke-width="0.7"/>
<circle cx="396.1" cy="977.1" r="3.75" fill="url(#gy)" stroke="#6a6a04" stroke-width="0.7"/>
<circle cx="358.0" cy="983.4" r="3.75" fill="url(#gy)" stroke="#6a6a04" stroke-width="0.7"/>
<circle cx="364.4" cy="983.4" r="3.75" fill="url(#gy)" stroke="#6a6a04" stroke-width="0.7"/>
<circle cx="370.7" cy="982.8" r="3.75" fill="url(#gy)" stroke="#6a6a04" stroke-width="0.7"/>
<circle cx="377.1" cy="982.1" r="3.75" fill="url(#gy)" stroke="#6a6a04" stroke-width="0.7"/>
<circle cx="384.7" cy="982.8" r="3.75" fill="url(#gy)" stroke="#6a6a04" stroke-width="0.7"/>
<circle cx="392.3" cy="981.5" r="3.75" fill="url(#gy)" stroke="#6a6a04" stroke-width="0.7"/>
<circle cx="398.7" cy="982.1" r="3.75" fill="url(#gy)" stroke="#6a6a04" stroke-width="0.7"/>
<circle cx="323.7" cy="1009.0" r="3.75" fill="url(#gy)" stroke="#6a6a04" stroke-width="0.7"/>
<circle cx="328.7" cy="1009.0" r="3.75" fill="url(#gy)" stroke="#6a6a04" stroke-width="0.7"/>
<circle cx="317.3" cy="1014.7" r="3.75" fill="url(#gy)" stroke="#6a6a04" stroke-width="0.7"/>
<circle cx="311.0" cy="1016.6" r="3.75" fill="url(#gy)" stroke="#6a6a04" stroke-width="0.7"/>
<circle cx="321.1" cy="1016.6" r="3.75" fill="url(#gy)" stroke="#6a6a04" stroke-width="0.7"/>
<circle cx="327.5" cy="1016.6" r="3.75" fill="url(#gy)" stroke="#6a6a04" stroke-width="0.7"/>
<circle cx="308.4" cy="1021.0" r="3.75" fill="url(#gy)" stroke="#6a6a04" stroke-width="0.7"/>
<circle cx="324.9" cy="1021.0" r="3.75" fill="url(#gy)" stroke="#6a6a04" stroke-width="0.7"/>
<circle cx="302.1" cy="1024.2" r="3.75" fill="url(#gy)" stroke="#6a6a04" stroke-width="0.7"/>
<circle cx="312.2" cy="1024.2" r="3.75" fill="url(#gy)" stroke="#6a6a04" stroke-width="0.7"/>
<circle cx="318.6" cy="1024.2" r="3.75" fill="url(#gy)" stroke="#6a6a04" stroke-width="0.7"/>
<circle cx="327.5" cy="1027.4" r="3.75" fill="url(#gy)" stroke="#6a6a04" stroke-width="0.7"/>
<circle cx="313.5" cy="1028.7" r="3.75" fill="url(#gy)" stroke="#6a6a04" stroke-width="0.7"/>
<circle cx="321.1" cy="1028.7" r="3.75" fill="url(#gy)" stroke="#6a6a04" stroke-width="0.7"/>
<circle cx="297.0" cy="1030.6" r="3.75" fill="url(#gy)" stroke="#6a6a04" stroke-width="0.7"/>
<circle cx="307.1" cy="1030.6" r="3.75" fill="url(#gy)" stroke="#6a6a04" stroke-width="0.7"/>
<circle cx="293.2" cy="1034.4" r="3.75" fill="url(#gy)" stroke="#6a6a04" stroke-width="0.7"/>
<circle cx="305.9" cy="1034.4" r="3.75" fill="url(#gy)" stroke="#6a6a04" stroke-width="0.7"/>
<circle cx="327.5" cy="1034.5" r="3.75" fill="url(#gy)" stroke="#6a6a04" stroke-width="0.7"/>
<circle cx="283.0" cy="1036.3" r="3.75" fill="url(#gy)" stroke="#6a6a04" stroke-width="0.7"/>
<circle cx="300.8" cy="1036.3" r="3.75" fill="url(#gy)" stroke="#6a6a04" stroke-width="0.7"/>
<circle cx="313.5" cy="1036.3" r="3.75" fill="url(#gy)" stroke="#6a6a04" stroke-width="0.7"/>
<circle cx="319.8" cy="1036.3" r="3.75" fill="url(#gy)" stroke="#6a6a04" stroke-width="0.7"/>
<circle cx="288.1" cy="1038.8" r="3.75" fill="url(#gy)" stroke="#6a6a04" stroke-width="0.7"/>
<circle cx="303.3" cy="1038.8" r="3.75" fill="url(#gy)" stroke="#6a6a04" stroke-width="0.7"/>
<circle cx="297.0" cy="1040.7" r="3.75" fill="url(#gy)" stroke="#6a6a04" stroke-width="0.7"/>
<circle cx="309.7" cy="1040.7" r="3.75" fill="url(#gy)" stroke="#6a6a04" stroke-width="0.7"/>
<circle cx="317.3" cy="1040.7" r="3.75" fill="url(#gy)" stroke="#6a6a04" stroke-width="0.7"/>
<circle cx="281.7" cy="1045.2" r="3.75" fill="url(#gy)" stroke="#6a6a04" stroke-width="0.7"/>
<circle cx="295.7" cy="1045.2" r="3.75" fill="url(#gy)" stroke="#6a6a04" stroke-width="0.7"/>
<circle cx="316.0" cy="1045.2" r="3.75" fill="url(#gy)" stroke="#6a6a04" stroke-width="0.7"/>
<circle cx="276.7" cy="1046.4" r="3.75" fill="url(#gy)" stroke="#6a6a04" stroke-width="0.7"/>
<circle cx="289.4" cy="1046.4" r="3.75" fill="url(#gy)" stroke="#6a6a04" stroke-width="0.7"/>
<circle cx="302.1" cy="1046.4" r="3.75" fill="url(#gy)" stroke="#6a6a04" stroke-width="0.7"/>
<circle cx="308.4" cy="1046.4" r="3.75" fill="url(#gy)" stroke="#6a6a04" stroke-width="0.7"/>
<circle cx="272.0" cy="1051.8" r="3.75" fill="url(#gy)" stroke="#6a6a04" stroke-width="0.7"/>
<circle cx="279.2" cy="1050.9" r="3.75" fill="url(#gy)" stroke="#6a6a04" stroke-width="0.7"/>
<circle cx="285.6" cy="1050.9" r="3.75" fill="url(#gy)" stroke="#6a6a04" stroke-width="0.7"/>
<circle cx="291.9" cy="1050.9" r="3.75" fill="url(#gy)" stroke="#6a6a04" stroke-width="0.7"/>
<circle cx="298.3" cy="1050.9" r="3.75" fill="url(#gy)" stroke="#6a6a04" stroke-width="0.7"/>
<circle cx="305.9" cy="1050.9" r="3.75" fill="url(#gy)" stroke="#6a6a04" stroke-width="0.7"/>
<circle cx="347.9" cy="990.2" r="3.75" fill="url(#gy)" stroke="#6a6a04" stroke-width="0.7"/>
<circle cx="354.2" cy="992.1" r="3.75" fill="url(#gy)" stroke="#6a6a04" stroke-width="0.7"/>
<circle cx="359.3" cy="988.9" r="3.75" fill="url(#gy)" stroke="#6a6a04" stroke-width="0.7"/>
<circle cx="365.6" cy="987.0" r="3.75" fill="url(#gy)" stroke="#6a6a04" stroke-width="0.7"/>
<circle cx="373.3" cy="985.7" r="3.75" fill="url(#gy)" stroke="#6a6a04" stroke-width="0.7"/>
<circle cx="379.6" cy="985.7" r="3.75" fill="url(#gy)" stroke="#6a6a04" stroke-width="0.7"/>
<circle cx="384.7" cy="987.6" r="3.75" fill="url(#gy)" stroke="#6a6a04" stroke-width="0.7"/>
<circle cx="340.9" cy="995.2" r="3.75" fill="url(#gy)" stroke="#6a6a04" stroke-width="0.7"/>
<circle cx="346.6" cy="994.6" r="3.75" fill="url(#gy)" stroke="#6a6a04" stroke-width="0.7"/>
<circle cx="355.5" cy="996.5" r="3.75" fill="url(#gy)" stroke="#6a6a04" stroke-width="0.7"/>
<circle cx="360.6" cy="997.1" r="3.75" fill="url(#gy)" stroke="#6a6a04" stroke-width="0.7"/>
<circle cx="366.9" cy="992.7" r="3.75" fill="url(#gy)" stroke="#6a6a04" stroke-width="0.7"/>
<circle cx="373.3" cy="994.6" r="3.75" fill="url(#gy)" stroke="#6a6a04" stroke-width="0.7"/>
<circle cx="378.3" cy="995.9" r="3.75" fill="url(#gy)" stroke="#6a6a04" stroke-width="0.7"/>
<circle cx="384.7" cy="991.4" r="3.75" fill="url(#gy)" stroke="#6a6a04" stroke-width="0.7"/>
<circle cx="332.6" cy="1004.1" r="3.75" fill="url(#gy)" stroke="#6a6a04" stroke-width="0.7"/>
<circle cx="339.0" cy="1001.6" r="3.75" fill="url(#gy)" stroke="#6a6a04" stroke-width="0.7"/>
<circle cx="344.0" cy="999.7" r="3.75" fill="url(#gy)" stroke="#6a6a04" stroke-width="0.7"/>
<circle cx="350.4" cy="1000.3" r="3.75" fill="url(#gy)" stroke="#6a6a04" stroke-width="0.7"/>
<circle cx="356.7" cy="1001.6" r="3.75" fill="url(#gy)" stroke="#6a6a04" stroke-width="0.7"/>
<circle cx="366.9" cy="999.0" r="3.75" fill="url(#gy)" stroke="#6a6a04" stroke-width="0.7"/>
<circle cx="363.1" cy="1004.8" r="3.75" fill="url(#gy)" stroke="#6a6a04" stroke-width="0.7"/>
<circle cx="331.3" cy="1009.2" r="3.75" fill="url(#gy)" stroke="#6a6a04" stroke-width="0.7"/>
<circle cx="337.7" cy="1008.6" r="3.75" fill="url(#gy)" stroke="#6a6a04" stroke-width="0.7"/>
<circle cx="342.8" cy="1008.6" r="3.75" fill="url(#gy)" stroke="#6a6a04" stroke-width="0.7"/>
<circle cx="349.1" cy="1009.2" r="3.75" fill="url(#gy)" stroke="#6a6a04" stroke-width="0.7"/>
<circle cx="356.7" cy="1007.3" r="3.75" fill="url(#gy)" stroke="#6a6a04" stroke-width="0.7"/>
<circle cx="364.4" cy="1007.3" r="3.75" fill="url(#gy)" stroke="#6a6a04" stroke-width="0.7"/>
<circle cx="333.9" cy="1013.7" r="3.75" fill="url(#gy)" stroke="#6a6a04" stroke-width="0.7"/>
<circle cx="339.0" cy="1013.0" r="3.75" fill="url(#gy)" stroke="#6a6a04" stroke-width="0.7"/>
<circle cx="345.3" cy="1012.4" r="3.75" fill="url(#gy)" stroke="#6a6a04" stroke-width="0.7"/>
<circle cx="351.0" cy="1013.7" r="3.75" fill="url(#gy)" stroke="#6a6a04" stroke-width="0.7"/>
<circle cx="332.6" cy="1018.1" r="3.75" fill="url(#gy)" stroke="#6a6a04" stroke-width="0.7"/>
<circle cx="337.7" cy="1017.5" r="3.75" fill="url(#gy)" stroke="#6a6a04" stroke-width="0.7"/>
<circle cx="344.0" cy="1018.7" r="3.75" fill="url(#gy)" stroke="#6a6a04" stroke-width="0.7"/>
<circle cx="339.0" cy="1023.8" r="3.75" fill="url(#gy)" stroke="#6a6a04" stroke-width="0.7"/>
<circle cx="344.0" cy="1024.4" r="3.75" fill="url(#gy)" stroke="#6a6a04" stroke-width="0.7"/>
<circle cx="334.5" cy="1027.0" r="3.75" fill="url(#gy)" stroke="#6a6a04" stroke-width="0.7"/>
<circle cx="330.1" cy="1028.3" r="3.75" fill="url(#gy)" stroke="#6a6a04" stroke-width="0.7"/>
<circle cx="345.3" cy="1029.5" r="3.75" fill="url(#gy)" stroke="#6a6a04" stroke-width="0.7"/>
<circle cx="341.5" cy="1030.8" r="3.75" fill="url(#gy)" stroke="#6a6a04" stroke-width="0.7"/>
<circle cx="250.2" cy="1069.2" r="3.75" fill="url(#gy)" stroke="#6a6a04" stroke-width="0.7"/>
<circle cx="245.1" cy="1074.3" r="3.75" fill="url(#gy)" stroke="#6a6a04" stroke-width="0.7"/>
<circle cx="257.1" cy="1070.5" r="3.75" fill="url(#gy)" stroke="#6a6a04" stroke-width="0.7"/>
<circle cx="263.5" cy="1065.4" r="3.75" fill="url(#gy)" stroke="#6a6a04" stroke-width="0.7"/>
<circle cx="264.8" cy="1055.2" r="3.75" fill="url(#gy)" stroke="#6a6a04" stroke-width="0.7"/>
<circle cx="276.2" cy="1050.2" r="3.75" fill="url(#gy)" stroke="#6a6a04" stroke-width="0.7"/>
<circle cx="273.7" cy="1057.8" r="3.75" fill="url(#gy)" stroke="#6a6a04" stroke-width="0.7"/>
<circle cx="268.6" cy="1061.6" r="3.75" fill="url(#gy)" stroke="#6a6a04" stroke-width="0.7"/>
<circle cx="276.2" cy="1064.1" r="3.75" fill="url(#gy)" stroke="#6a6a04" stroke-width="0.7"/>
<circle cx="279.4" cy="1070.5" r="3.75" fill="url(#gy)" stroke="#6a6a04" stroke-width="0.7"/>
<circle cx="266.0" cy="1069.8" r="3.75" fill="url(#gy)" stroke="#6a6a04" stroke-width="0.7"/>
<circle cx="238.1" cy="1081.9" r="3.75" fill="url(#gy)" stroke="#6a6a04" stroke-width="0.7"/>
<circle cx="243.2" cy="1079.4" r="3.75" fill="url(#gy)" stroke="#6a6a04" stroke-width="0.7"/>
<circle cx="252.1" cy="1076.8" r="3.75" fill="url(#gy)" stroke="#6a6a04" stroke-width="0.7"/>
<circle cx="257.1" cy="1076.2" r="3.75" fill="url(#gy)" stroke="#6a6a04" stroke-width="0.7"/>
<circle cx="263.5" cy="1074.3" r="3.75" fill="url(#gy)" stroke="#6a6a04" stroke-width="0.7"/>
<circle cx="250.8" cy="1083.2" r="3.75" fill="url(#gy)" stroke="#6a6a04" stroke-width="0.7"/>
<circle cx="258.4" cy="1083.2" r="3.75" fill="url(#gy)" stroke="#6a6a04" stroke-width="0.7"/>
<circle cx="267.3" cy="1081.3" r="3.75" fill="url(#gy)" stroke="#6a6a04" stroke-width="0.7"/>
<circle cx="229.2" cy="1087.0" r="3.75" fill="url(#gy)" stroke="#6a6a04" stroke-width="0.7"/>
<circle cx="235.6" cy="1085.7" r="3.75" fill="url(#gy)" stroke="#6a6a04" stroke-width="0.7"/>
<circle cx="240.6" cy="1090.2" r="3.75" fill="url(#gy)" stroke="#6a6a04" stroke-width="0.7"/>
<circle cx="245.7" cy="1089.5" r="3.75" fill="url(#gy)" stroke="#6a6a04" stroke-width="0.7"/>
<circle cx="252.1" cy="1088.3" r="3.75" fill="url(#gy)" stroke="#6a6a04" stroke-width="0.7"/>
<circle cx="255.9" cy="1090.8" r="3.75" fill="url(#gy)" stroke="#6a6a04" stroke-width="0.7"/>
<circle cx="224.1" cy="1093.3" r="3.75" fill="url(#gy)" stroke="#6a6a04" stroke-width="0.7"/>
<circle cx="226.7" cy="1096.5" r="3.75" fill="url(#gy)" stroke="#6a6a04" stroke-width="0.7"/>
<circle cx="231.7" cy="1093.3" r="3.75" fill="url(#gy)" stroke="#6a6a04" stroke-width="0.7"/>
<circle cx="235.6" cy="1095.9" r="3.75" fill="url(#gy)" stroke="#6a6a04" stroke-width="0.7"/>
<circle cx="238.1" cy="1091.4" r="3.75" fill="url(#gy)" stroke="#6a6a04" stroke-width="0.7"/>
<circle cx="203.3" cy="1105.2" r="3.75" fill="url(#gy)" stroke="#6a6a04" stroke-width="0.7"/>
<circle cx="220.5" cy="1100.5" r="3.75" fill="url(#gy)" stroke="#6a6a04" stroke-width="0.7"/>
<circle cx="235.7" cy="1103.3" r="3.75" fill="url(#gy)" stroke="#6a6a04" stroke-width="0.7"/>
<circle cx="194.8" cy="1112.9" r="3.75" fill="url(#gy)" stroke="#6a6a04" stroke-width="0.7"/>
<circle cx="191.0" cy="1120.5" r="3.75" fill="url(#gy)" stroke="#6a6a04" stroke-width="0.7"/>
<circle cx="195.7" cy="1118.6" r="3.75" fill="url(#gy)" stroke="#6a6a04" stroke-width="0.7"/>
<circle cx="187.1" cy="1125.2" r="3.75" fill="url(#gy)" stroke="#6a6a04" stroke-width="0.7"/>
<circle cx="198.6" cy="1122.4" r="3.75" fill="url(#gy)" stroke="#6a6a04" stroke-width="0.7"/>
<circle cx="204.3" cy="1116.7" r="3.75" fill="url(#gy)" stroke="#6a6a04" stroke-width="0.7"/>
<circle cx="210.0" cy="1116.7" r="3.75" fill="url(#gy)" stroke="#6a6a04" stroke-width="0.7"/>
<circle cx="217.6" cy="1114.8" r="3.75" fill="url(#gy)" stroke="#6a6a04" stroke-width="0.7"/>
<circle cx="221.4" cy="1107.1" r="3.75" fill="url(#gy)" stroke="#6a6a04" stroke-width="0.7"/>
<circle cx="225.2" cy="1106.2" r="3.75" fill="url(#gy)" stroke="#6a6a04" stroke-width="0.7"/>
<circle cx="178.6" cy="1131.0" r="3.75" fill="url(#gy)" stroke="#6a6a04" stroke-width="0.7"/>
<circle cx="173.8" cy="1135.7" r="3.75" fill="url(#gy)" stroke="#6a6a04" stroke-width="0.7"/>
<circle cx="199.5" cy="1128.1" r="3.75" fill="url(#gy)" stroke="#6a6a04" stroke-width="0.7"/>
<circle cx="200.5" cy="1134.8" r="3.75" fill="url(#gy)" stroke="#6a6a04" stroke-width="0.7"/>
<circle cx="167.1" cy="1138.6" r="3.75" fill="url(#gy)" stroke="#6a6a04" stroke-width="0.7"/>
<circle cx="164.3" cy="1153.8" r="3.75" fill="url(#gy)" stroke="#6a6a04" stroke-width="0.7"/>
<circle cx="154.8" cy="1158.0" r="3.75" fill="url(#gy)" stroke="#6a6a04" stroke-width="0.7"/>
<circle cx="142.1" cy="1166.7" r="3.75" fill="url(#gy)" stroke="#6a6a04" stroke-width="0.7"/>
<circle cx="123.6" cy="1182.5" r="3.75" fill="url(#gy)" stroke="#6a6a04" stroke-width="0.7"/>
<circle cx="289.7" cy="1059.0" r="3.75" fill="url(#gy)" stroke="#6a6a04" stroke-width="0.7"/>
<circle cx="296.0" cy="1061.6" r="3.75" fill="url(#gy)" stroke="#6a6a04" stroke-width="0.7"/>
<circle cx="282.7" cy="1061.6" r="3.75" fill="url(#gy)" stroke="#6a6a04" stroke-width="0.7"/>
<circle cx="287.1" cy="1069.2" r="3.75" fill="url(#gy)" stroke="#6a6a04" stroke-width="0.7"/>
<line x1="287.2" y1="961.5" x2="305.5" y2="986.0" stroke="#111" stroke-width="1.25"/>
<line x1="318.9" y1="1004.0" x2="345.7" y2="1040.0" stroke="#111" stroke-width="1.25"/></g>
</g>
<g style="filter:grayscale(1)"><text x="225.2" y="145.8" font-size="18.2" text-anchor="start">PC1</text>
<text x="393.7" y="253.6" font-size="18.2" text-anchor="start">PC2</text>
<text x="211.7" y="317.8" font-size="18.2" text-anchor="start">PC3</text>
<text x="469.9" y="182.0" font-size="18.6" text-anchor="start">high L</text>
<text x="455.2" y="472.1" font-size="18.6" text-anchor="start">high M</text>
<text x="84.8" y="529.0" font-size="18.6" text-anchor="start">high S</text>
<text x="306.6" y="603.3" font-size="18.6" text-anchor="start">high VS</text>
<text x="543.3" y="307.8" font-size="24" text-anchor="middle">Z</text>
<text x="448.1" y="553.6" font-size="24" text-anchor="middle">Y</text>
<text x="197.6" y="577.6" font-size="24" text-anchor="middle">X</text>
<line x1="521.8" y1="228.4" x2="515.8" y2="351.0" stroke="#000" stroke-width="3"/>
<polygon points="522.5,204.7 509.1,225.9 534.5,230.9" fill="#000"/>
<polygon points="514.4,372.1 503.7,348.4 527.9,353.6" fill="#000"/>
<line x1="457.6" y1="501.8" x2="396.8" y2="557.2" stroke="#000" stroke-width="3"/>
<polygon points="468.1,492.2 445.4,498.3 469.9,505.3" fill="#000"/>
<polygon points="384.8,568.7 384.3,553.3 409.3,561.2" fill="#000"/>
<line x1="158.1" y1="536.5" x2="270.9" y2="573.6" stroke="#000" stroke-width="3"/>
<polygon points="136.7,529.3 165.4,531.4 150.8,541.5" fill="#000"/>
<polygon points="295.1,582.1 264.1,578.9 277.6,568.3" fill="#000"/>
<text x="492.0" y="773.3" font-size="18.6" text-anchor="start">high L</text>
<text x="254.4" y="944.2" font-size="18.2" text-anchor="start">PC3</text>
<text x="487.1" y="1128.6" font-size="18.6" text-anchor="start">high S</text>
<text x="118.1" y="1213.0" font-size="18.6" text-anchor="start">high VS</text>
<text x="411.0" y="1246.7" font-size="18.6" text-anchor="start">high M</text>
<text x="541.0" y="969.7" font-size="24" text-anchor="middle">Z</text>
<text x="515.7" y="1193.0" font-size="24" text-anchor="middle">X</text>
<text x="246.7" y="1248.5" font-size="24" text-anchor="middle">Y</text>
<line x1="516.1" y1="889.2" x2="516.3" y2="1022.5" stroke="#000" stroke-width="3"/>
<polygon points="515.8,862.8 503.6,888.6 528.6,889.8" fill="#000"/>
<polygon points="515.8,1047.4 504.5,1021.6 528.1,1023.3" fill="#000"/>
<line x1="506.9" y1="1151.9" x2="473.3" y2="1207.4" stroke="#000" stroke-width="3"/>
<polygon points="510.9,1142.3 495.1,1150.9 518.6,1152.9" fill="#000"/>
<polygon points="465.7,1218.6 460.9,1206.3 485.7,1208.6" fill="#000"/>
<line x1="219.5" y1="1219.5" x2="352.0" y2="1235.6" stroke="#000" stroke-width="3"/>
<polygon points="195.5,1216.7 225.7,1213.3 213.3,1225.7" fill="#000"/>
<polygon points="378.8,1237.6 356.2,1229.3 347.9,1241.9" fill="#000"/></g>
</svg></div>
</body></html>
